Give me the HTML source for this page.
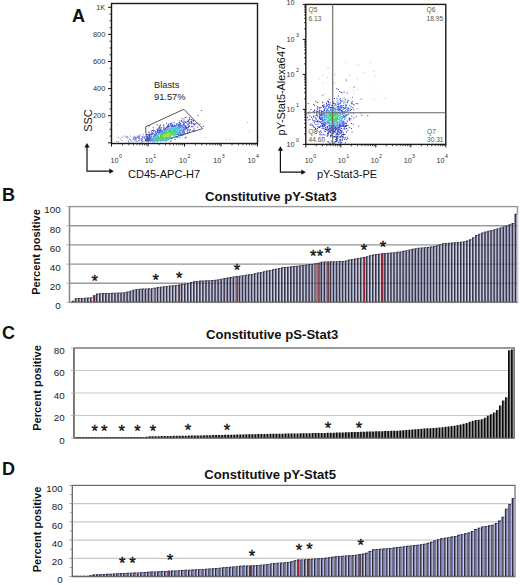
<!DOCTYPE html>
<html><head><meta charset="utf-8"><style>
html,body{margin:0;padding:0;background:#fff;}
svg{display:block;font-family:"Liberation Sans", sans-serif;}
</style></head><body>
<svg width="520" height="585" viewBox="0 0 520 585">
<rect width="520" height="585" fill="#fff"/>
<text x="72.00" y="21.50" font-size="18" text-anchor="start" font-weight="bold" fill="#111" >A</text>
<text x="1.90" y="200.70" font-size="18" text-anchor="start" font-weight="bold" fill="#111" >B</text>
<text x="2.00" y="339.40" font-size="18" text-anchor="start" font-weight="bold" fill="#111" >C</text>
<text x="1.90" y="474.70" font-size="18" text-anchor="start" font-weight="bold" fill="#111" >D</text>
<rect x="111.5" y="3.5" width="146.0" height="140.0" fill="none" stroke="#1a1a1a" stroke-width="1.4"/>
<line x1="108.00" y1="142.80" x2="111.50" y2="142.80" stroke="#111" stroke-width="1" />
<line x1="109.50" y1="136.03" x2="111.50" y2="136.03" stroke="#111" stroke-width="0.8" />
<line x1="109.50" y1="129.25" x2="111.50" y2="129.25" stroke="#111" stroke-width="0.8" />
<line x1="109.50" y1="122.48" x2="111.50" y2="122.48" stroke="#111" stroke-width="0.8" />
<line x1="108.00" y1="115.70" x2="111.50" y2="115.70" stroke="#111" stroke-width="1" />
<line x1="109.50" y1="108.93" x2="111.50" y2="108.93" stroke="#111" stroke-width="0.8" />
<line x1="109.50" y1="102.15" x2="111.50" y2="102.15" stroke="#111" stroke-width="0.8" />
<line x1="109.50" y1="95.38" x2="111.50" y2="95.38" stroke="#111" stroke-width="0.8" />
<line x1="108.00" y1="88.60" x2="111.50" y2="88.60" stroke="#111" stroke-width="1" />
<line x1="109.50" y1="81.83" x2="111.50" y2="81.83" stroke="#111" stroke-width="0.8" />
<line x1="109.50" y1="75.05" x2="111.50" y2="75.05" stroke="#111" stroke-width="0.8" />
<line x1="109.50" y1="68.28" x2="111.50" y2="68.28" stroke="#111" stroke-width="0.8" />
<line x1="108.00" y1="61.50" x2="111.50" y2="61.50" stroke="#111" stroke-width="1" />
<line x1="109.50" y1="54.73" x2="111.50" y2="54.73" stroke="#111" stroke-width="0.8" />
<line x1="109.50" y1="47.95" x2="111.50" y2="47.95" stroke="#111" stroke-width="0.8" />
<line x1="109.50" y1="41.18" x2="111.50" y2="41.18" stroke="#111" stroke-width="0.8" />
<line x1="108.00" y1="34.40" x2="111.50" y2="34.40" stroke="#111" stroke-width="1" />
<line x1="109.50" y1="27.62" x2="111.50" y2="27.62" stroke="#111" stroke-width="0.8" />
<line x1="109.50" y1="20.85" x2="111.50" y2="20.85" stroke="#111" stroke-width="0.8" />
<line x1="109.50" y1="14.07" x2="111.50" y2="14.07" stroke="#111" stroke-width="0.8" />
<line x1="108.00" y1="7.30" x2="111.50" y2="7.30" stroke="#111" stroke-width="1" />
<text x="105.30" y="9.90" font-size="7.4" text-anchor="end" font-weight="normal" fill="#333" >1K</text>
<text x="105.30" y="37.00" font-size="7.4" text-anchor="end" font-weight="normal" fill="#333" >800</text>
<text x="105.30" y="64.10" font-size="7.4" text-anchor="end" font-weight="normal" fill="#333" >600</text>
<text x="105.30" y="91.20" font-size="7.4" text-anchor="end" font-weight="normal" fill="#333" >400</text>
<text x="105.30" y="118.30" font-size="7.4" text-anchor="end" font-weight="normal" fill="#333" >200</text>
<line x1="111.50" y1="143.50" x2="111.50" y2="146.50" stroke="#111" stroke-width="1" />
<line x1="122.49" y1="143.50" x2="122.49" y2="145.30" stroke="#111" stroke-width="0.8" />
<line x1="128.91" y1="143.50" x2="128.91" y2="145.30" stroke="#111" stroke-width="0.8" />
<line x1="133.48" y1="143.50" x2="133.48" y2="145.30" stroke="#111" stroke-width="0.8" />
<line x1="137.01" y1="143.50" x2="137.01" y2="145.30" stroke="#111" stroke-width="0.8" />
<line x1="139.90" y1="143.50" x2="139.90" y2="145.30" stroke="#111" stroke-width="0.8" />
<line x1="142.35" y1="143.50" x2="142.35" y2="145.30" stroke="#111" stroke-width="0.8" />
<line x1="144.46" y1="143.50" x2="144.46" y2="145.30" stroke="#111" stroke-width="0.8" />
<line x1="146.33" y1="143.50" x2="146.33" y2="145.30" stroke="#111" stroke-width="0.8" />
<line x1="148.00" y1="143.50" x2="148.00" y2="146.50" stroke="#111" stroke-width="1" />
<line x1="158.99" y1="143.50" x2="158.99" y2="145.30" stroke="#111" stroke-width="0.8" />
<line x1="165.41" y1="143.50" x2="165.41" y2="145.30" stroke="#111" stroke-width="0.8" />
<line x1="169.98" y1="143.50" x2="169.98" y2="145.30" stroke="#111" stroke-width="0.8" />
<line x1="173.51" y1="143.50" x2="173.51" y2="145.30" stroke="#111" stroke-width="0.8" />
<line x1="176.40" y1="143.50" x2="176.40" y2="145.30" stroke="#111" stroke-width="0.8" />
<line x1="178.85" y1="143.50" x2="178.85" y2="145.30" stroke="#111" stroke-width="0.8" />
<line x1="180.96" y1="143.50" x2="180.96" y2="145.30" stroke="#111" stroke-width="0.8" />
<line x1="182.83" y1="143.50" x2="182.83" y2="145.30" stroke="#111" stroke-width="0.8" />
<line x1="184.50" y1="143.50" x2="184.50" y2="146.50" stroke="#111" stroke-width="1" />
<line x1="195.49" y1="143.50" x2="195.49" y2="145.30" stroke="#111" stroke-width="0.8" />
<line x1="201.91" y1="143.50" x2="201.91" y2="145.30" stroke="#111" stroke-width="0.8" />
<line x1="206.48" y1="143.50" x2="206.48" y2="145.30" stroke="#111" stroke-width="0.8" />
<line x1="210.01" y1="143.50" x2="210.01" y2="145.30" stroke="#111" stroke-width="0.8" />
<line x1="212.90" y1="143.50" x2="212.90" y2="145.30" stroke="#111" stroke-width="0.8" />
<line x1="215.35" y1="143.50" x2="215.35" y2="145.30" stroke="#111" stroke-width="0.8" />
<line x1="217.46" y1="143.50" x2="217.46" y2="145.30" stroke="#111" stroke-width="0.8" />
<line x1="219.33" y1="143.50" x2="219.33" y2="145.30" stroke="#111" stroke-width="0.8" />
<line x1="221.00" y1="143.50" x2="221.00" y2="146.50" stroke="#111" stroke-width="1" />
<line x1="231.99" y1="143.50" x2="231.99" y2="145.30" stroke="#111" stroke-width="0.8" />
<line x1="238.41" y1="143.50" x2="238.41" y2="145.30" stroke="#111" stroke-width="0.8" />
<line x1="242.98" y1="143.50" x2="242.98" y2="145.30" stroke="#111" stroke-width="0.8" />
<line x1="246.51" y1="143.50" x2="246.51" y2="145.30" stroke="#111" stroke-width="0.8" />
<line x1="249.40" y1="143.50" x2="249.40" y2="145.30" stroke="#111" stroke-width="0.8" />
<line x1="251.85" y1="143.50" x2="251.85" y2="145.30" stroke="#111" stroke-width="0.8" />
<line x1="253.96" y1="143.50" x2="253.96" y2="145.30" stroke="#111" stroke-width="0.8" />
<line x1="255.83" y1="143.50" x2="255.83" y2="145.30" stroke="#111" stroke-width="0.8" />
<line x1="257.50" y1="143.50" x2="257.50" y2="146.50" stroke="#111" stroke-width="1" />
<text x="110.60" y="162.80" font-size="7.2" text-anchor="start" font-weight="normal" fill="#333" >10</text>
<text x="119.00" y="157.60" font-size="5.3" text-anchor="start" font-weight="normal" fill="#333" >0</text>
<text x="144.85" y="162.80" font-size="7.2" text-anchor="start" font-weight="normal" fill="#333" >10</text>
<text x="153.25" y="157.60" font-size="5.3" text-anchor="start" font-weight="normal" fill="#333" >1</text>
<text x="179.10" y="162.80" font-size="7.2" text-anchor="start" font-weight="normal" fill="#333" >10</text>
<text x="187.50" y="157.60" font-size="5.3" text-anchor="start" font-weight="normal" fill="#333" >2</text>
<text x="213.35" y="162.80" font-size="7.2" text-anchor="start" font-weight="normal" fill="#333" >10</text>
<text x="221.75" y="157.60" font-size="5.3" text-anchor="start" font-weight="normal" fill="#333" >3</text>
<text x="247.60" y="162.80" font-size="7.2" text-anchor="start" font-weight="normal" fill="#333" >10</text>
<text x="256.00" y="157.60" font-size="5.3" text-anchor="start" font-weight="normal" fill="#333" >4</text>
<polygon points="145.6,126.8 183.9,109.3 202.7,128.6 164.5,140.3 146.5,140.6" fill="none" stroke="#444" stroke-width="0.9"/>
<text x="154.00" y="88.00" font-size="9.3" text-anchor="start" font-weight="normal" fill="#222" >Blasts</text>
<text x="154.00" y="99.50" font-size="9.3" text-anchor="start" font-weight="normal" fill="#222" >91.57%</text>
<text x="0.00" y="0.00" font-size="11" text-anchor="middle" font-weight="normal" fill="#111" transform="translate(91.5,120.5) rotate(-90)">SSC</text>
<text x="128.00" y="178.20" font-size="11" text-anchor="start" font-weight="normal" fill="#111" >CD45-APC-H7</text>
<path d="M87.0,146.0 L87.0,171.2 L110.8,171.2" fill="none" stroke="#111" stroke-width="1.2"/>
<path d="M84.4,147.5 L87.0,143.0 L89.6,147.5 Z" fill="#111"/>
<path d="M109.3,168.6 L113.8,171.2 L109.3,173.79999999999998 Z" fill="#111"/>
<path d="M280.4,149.2 L280.4,172.2 L302.8,172.2" fill="none" stroke="#111" stroke-width="1.2"/>
<path d="M277.79999999999995,150.7 L280.4,146.2 L283.0,150.7 Z" fill="#111"/>
<path d="M301.3,169.6 L305.8,172.2 L301.3,174.79999999999998 Z" fill="#111"/>
<path d="M141.7 138.8h1v1h-1zM146.7 136.0h1v1h-1zM117.7 137.1h1v1h-1zM135.7 136.8h1v1h-1zM145.9 135.4h1v1h-1zM133.3 138.1h1v1h-1zM148.3 136.8h1v1h-1zM142.5 137.8h1v1h-1zM134.7 138.4h1v1h-1zM121.8 136.7h1v1h-1zM132.5 141.5h1v1h-1zM127.5 136.4h1v1h-1zM119.8 138.6h1v1h-1zM146.2 137.8h1v1h-1zM141.0 138.4h1v1h-1zM147.3 141.3h1v1h-1zM139.2 135.9h1v1h-1zM138.1 139.9h1v1h-1zM133.6 135.8h1v1h-1zM133.8 139.4h1v1h-1zM123.6 135.4h1v1h-1zM146.7 137.7h1v1h-1zM126.2 136.7h1v1h-1zM133.1 137.2h1v1h-1zM139.2 140.3h1v1h-1zM135.2 140.6h1v1h-1zM138.2 138.2h1v1h-1zM134.5 136.8h1v1h-1zM138.8 140.2h1v1h-1zM126.6 135.7h1v1h-1zM134.8 138.0h1v1h-1zM140.8 138.0h1v1h-1zM139.5 138.7h1v1h-1zM135.6 138.2h1v1h-1zM137.7 136.4h1v1h-1zM135.0 137.3h1v1h-1zM125.3 136.6h1v1h-1zM138.9 140.3h1v1h-1zM143.6 136.5h1v1h-1zM129.9 135.6h1v1h-1zM149.0 137.8h1v1h-1zM133.0 136.9h1v1h-1zM134.1 138.9h1v1h-1zM149.9 133.7h1v1h-1zM130.6 140.0h1v1h-1zM129.0 138.8h1v1h-1zM138.6 137.4h1v1h-1zM144.4 136.8h1v1h-1zM135.4 139.1h1v1h-1zM146.5 137.5h1v1h-1zM141.7 139.0h1v1h-1zM146.1 138.3h1v1h-1zM127.8 140.7h1v1h-1zM148.7 139.5h1v1h-1zM134.0 136.8h1v1h-1zM116.1 141.1h1v1h-1zM121.5 139.9h1v1h-1zM137.5 136.0h1v1h-1zM147.1 138.9h1v1h-1zM144.6 140.3h1v1h-1zM141.0 139.9h1v1h-1zM147.7 137.2h1v1h-1zM148.6 138.2h1v1h-1zM147.1 139.2h1v1h-1zM142.4 136.6h1v1h-1zM138.8 134.4h1v1h-1zM140.7 141.9h1v1h-1zM139.7 134.5h1v1h-1zM128.5 141.9h1v1h-1zM136.3 137.8h1v1h-1zM144.6 136.2h1v1h-1zM137.9 135.7h1v1h-1zM145.9 140.6h1v1h-1zM133.3 137.5h1v1h-1zM147.5 135.2h1v1h-1zM132.5 139.1h1v1h-1zM127.3 138.2h1v1h-1zM138.4 136.8h1v1h-1zM148.8 136.7h1v1h-1zM135.5 136.7h1v1h-1zM135.3 138.2h1v1h-1zM137.2 137.1h1v1h-1zM142.4 135.6h1v1h-1zM141.3 140.5h1v1h-1zM118.2 141.3h1v1h-1zM146.3 137.8h1v1h-1zM144.2 138.2h1v1h-1zM128.0 140.5h1v1h-1zM137.4 136.7h1v1h-1zM129.5 139.0h1v1h-1zM146.5 141.0h1v1h-1zM144.2 137.7h1v1h-1zM143.1 133.8h1v1h-1zM137.0 135.5h1v1h-1zM141.5 136.6h1v1h-1zM139.1 138.1h1v1h-1zM149.8 134.4h1v1h-1zM148.7 134.9h1v1h-1zM145.4 139.1h1v1h-1zM142.1 139.7h1v1h-1zM147.9 137.9h1v1h-1zM135.5 140.8h1v1h-1zM130.5 140.7h1v1h-1z" fill="#7a7ad4"/>
<rect x="226" y="139" width="1" height="1" fill="#b8b8d8"/>
<rect x="229" y="138.5" width="1" height="1" fill="#b8b8d8"/>
<rect x="233" y="139.5" width="1" height="1" fill="#b8b8d8"/>
<rect x="247" y="122" width="1" height="1" fill="#b8b8d8"/>
<rect x="249" y="131" width="1" height="1" fill="#b8b8d8"/>
<rect x="117" y="124" width="1" height="1" fill="#b8b8d8"/>
<rect x="205" y="137" width="1" height="1" fill="#b8b8d8"/>
<rect x="211" y="140" width="1" height="1" fill="#b8b8d8"/>
<path d="M148.7 125.7h1v1h-1zM200.8 110.0h1v1h-1zM156.8 124.3h1v1h-1zM202.7 125.8h1v1h-1zM152.6 127.2h1v1h-1zM159.9 124.5h1v1h-1zM197.4 115.2h1v1h-1zM184.7 116.7h1v1h-1zM159.6 125.3h1v1h-1zM184.7 137.4h1v1h-1zM159.1 125.5h1v1h-1zM185.5 116.8h1v1h-1zM185.5 136.7h1v1h-1zM166.0 122.8h1v1h-1zM193.7 130.5h1v1h-1zM148.5 131.6h1v1h-1zM199.5 123.5h1v1h-1zM197.3 126.4h1v1h-1zM136.5 140.8h1v1h-1zM192.8 130.9h1v1h-1zM150.9 130.5h1v1h-1zM151.9 129.9h1v1h-1zM181.6 118.3h1v1h-1zM162.9 124.5h1v1h-1zM189.0 117.2h1v1h-1zM148.5 132.0h1v1h-1zM158.5 126.8h1v1h-1zM153.1 129.6h1v1h-1zM189.4 117.5h1v1h-1zM192.7 129.9h1v1h-1zM194.0 128.5h1v1h-1zM183.5 118.6h1v1h-1zM193.7 128.6h1v1h-1zM196.8 123.0h1v1h-1zM196.8 122.8h1v1h-1zM146.2 134.5h1v1h-1zM156.8 128.4h1v1h-1zM159.0 127.3h1v1h-1zM147.2 134.1h1v1h-1zM171.2 122.5h1v1h-1zM189.5 118.9h1v1h-1zM153.1 130.7h1v1h-1zM191.3 119.1h1v1h-1zM169.6 123.2h1v1h-1zM163.5 125.6h1v1h-1zM158.5 127.9h1v1h-1zM195.3 123.3h1v1h-1zM187.6 132.6h1v1h-1zM170.7 122.9h1v1h-1zM168.1 123.8h1v1h-1zM193.0 120.1h1v1h-1zM154.2 130.3h1v1h-1zM179.4 120.5h1v1h-1zM148.9 133.5h1v1h-1zM151.5 131.9h1v1h-1zM191.5 119.7h1v1h-1zM193.1 120.6h1v1h-1zM188.5 119.6h1v1h-1zM194.6 123.4h1v1h-1zM181.0 120.3h1v1h-1zM160.2 127.4h1v1h-1zM173.8 122.2h1v1h-1zM160.9 127.2h1v1h-1zM148.3 134.3h1v1h-1zM193.8 124.6h1v1h-1zM167.5 124.6h1v1h-1zM189.0 130.6h1v1h-1zM193.5 124.0h1v1h-1zM188.0 120.2h1v1h-1zM156.7 129.6h1v1h-1zM187.1 132.0h1v1h-1zM179.4 137.3h1v1h-1zM181.4 120.7h1v1h-1zM193.3 123.1h1v1h-1zM192.4 126.2h1v1h-1zM183.4 120.5h1v1h-1zM189.8 129.5h1v1h-1zM190.6 120.9h1v1h-1zM191.1 121.2h1v1h-1zM192.3 126.0h1v1h-1zM167.5 124.9h1v1h-1zM191.4 121.8h1v1h-1zM187.2 120.7h1v1h-1zM150.2 133.7h1v1h-1zM170.4 124.0h1v1h-1zM146.8 136.2h1v1h-1zM150.6 133.5h1v1h-1zM191.3 122.1h1v1h-1zM189.7 128.9h1v1h-1zM148.9 134.7h1v1h-1zM157.8 129.5h1v1h-1zM184.6 133.3h1v1h-1zM186.5 121.0h1v1h-1zM189.3 121.4h1v1h-1zM159.5 128.7h1v1h-1zM191.4 123.3h1v1h-1zM191.4 123.4h1v1h-1zM191.0 126.3h1v1h-1zM152.4 132.7h1v1h-1zM152.6 132.7h1v1h-1zM182.3 134.7h1v1h-1zM190.7 122.8h1v1h-1zM184.5 121.3h1v1h-1zM148.3 135.5h1v1h-1zM148.4 135.5h1v1h-1zM187.8 121.5h1v1h-1zM179.0 122.1h1v1h-1zM151.5 133.5h1v1h-1zM158.2 129.7h1v1h-1zM155.2 131.3h1v1h-1zM142.4 141.3h1v1h-1zM181.8 121.7h1v1h-1zM157.2 130.4h1v1h-1zM170.1 124.8h1v1h-1zM183.0 133.7h1v1h-1zM189.2 122.7h1v1h-1zM149.0 135.5h1v1h-1zM163.7 127.3h1v1h-1zM187.8 129.5h1v1h-1zM186.7 130.6h1v1h-1zM146.4 137.6h1v1h-1zM166.9 126.0h1v1h-1zM163.2 127.5h1v1h-1zM172.1 124.2h1v1h-1zM174.5 138.9h1v1h-1zM167.4 125.8h1v1h-1zM148.9 135.7h1v1h-1zM168.4 125.6h1v1h-1zM188.6 122.9h1v1h-1zM145.0 139.2h1v1h-1zM181.5 134.5h1v1h-1zM148.9 135.9h1v1h-1zM176.4 123.2h1v1h-1zM163.7 127.5h1v1h-1zM184.8 122.1h1v1h-1zM184.0 132.6h1v1h-1zM147.0 137.5h1v1h-1zM152.5 133.4h1v1h-1zM163.1 127.8h1v1h-1zM170.2 140.8h1v1h-1zM186.0 122.5h1v1h-1zM183.1 122.3h1v1h-1zM159.1 129.9h1v1h-1zM156.8 131.1h1v1h-1zM151.2 134.5h1v1h-1zM154.9 132.2h1v1h-1zM170.4 140.5h1v1h-1zM160.3 129.3h1v1h-1zM187.0 129.3h1v1h-1zM183.6 132.5h1v1h-1zM149.1 136.2h1v1h-1zM188.8 125.4h1v1h-1zM146.7 138.4h1v1h-1zM188.3 124.5h1v1h-1zM187.3 123.5h1v1h-1zM180.1 123.0h1v1h-1zM188.4 126.0h1v1h-1zM146.7 138.5h1v1h-1zM145.0 140.3h1v1h-1zM167.5 126.4h1v1h-1zM187.7 127.6h1v1h-1zM166.2 127.0h1v1h-1zM183.8 122.9h1v1h-1zM180.4 134.6h1v1h-1zM168.7 126.0h1v1h-1zM188.0 126.4h1v1h-1zM160.1 129.8h1v1h-1zM177.0 136.7h1v1h-1zM172.0 125.0h1v1h-1z" fill="#2e39bd"/>
<path d="M179.6 123.3h1v1h-1zM174.1 124.4h1v1h-1zM177.6 123.6h1v1h-1zM187.5 124.8h1v1h-1zM171.2 125.3h1v1h-1zM176.3 124.0h1v1h-1zM164.9 127.7h1v1h-1zM166.2 127.2h1v1h-1zM164.7 127.8h1v1h-1zM168.2 126.5h1v1h-1zM148.6 137.3h1v1h-1zM178.7 123.6h1v1h-1zM165.9 127.3h1v1h-1zM149.0 137.0h1v1h-1zM179.7 123.5h1v1h-1zM149.4 136.8h1v1h-1zM179.2 123.6h1v1h-1zM183.9 131.3h1v1h-1zM146.9 139.2h1v1h-1zM183.5 131.5h1v1h-1zM171.9 125.4h1v1h-1zM182.8 123.6h1v1h-1zM165.4 127.7h1v1h-1zM148.1 138.1h1v1h-1zM186.9 126.9h1v1h-1zM172.5 125.2h1v1h-1zM159.2 130.6h1v1h-1zM164.7 128.1h1v1h-1zM183.4 123.7h1v1h-1zM183.2 123.7h1v1h-1zM169.3 126.3h1v1h-1zM186.3 127.9h1v1h-1zM182.1 132.5h1v1h-1zM174.5 124.8h1v1h-1zM171.9 125.5h1v1h-1zM150.8 136.0h1v1h-1zM154.6 133.4h1v1h-1zM178.1 135.4h1v1h-1zM146.7 140.0h1v1h-1zM156.0 132.5h1v1h-1zM182.7 123.9h1v1h-1zM157.1 131.9h1v1h-1zM176.1 136.6h1v1h-1zM157.7 131.6h1v1h-1zM148.8 137.8h1v1h-1zM147.7 138.9h1v1h-1zM163.2 128.9h1v1h-1zM179.5 134.4h1v1h-1zM179.9 134.1h1v1h-1zM185.8 128.3h1v1h-1zM148.4 138.3h1v1h-1zM180.8 133.3h1v1h-1zM182.7 131.8h1v1h-1zM166.8 127.5h1v1h-1zM159.1 131.0h1v1h-1zM149.3 137.5h1v1h-1zM159.6 130.7h1v1h-1zM185.8 125.7h1v1h-1zM161.2 129.9h1v1h-1zM186.0 127.0h1v1h-1zM172.4 125.6h1v1h-1zM179.6 134.1h1v1h-1zM183.8 124.4h1v1h-1zM176.5 136.1h1v1h-1zM184.6 129.5h1v1h-1zM185.4 125.4h1v1h-1zM179.5 134.1h1v1h-1zM160.1 130.6h1v1h-1zM153.4 134.5h1v1h-1zM150.4 136.8h1v1h-1zM155.7 133.0h1v1h-1zM160.3 130.5h1v1h-1zM158.0 131.7h1v1h-1zM171.2 126.1h1v1h-1zM176.6 135.9h1v1h-1zM161.4 130.0h1v1h-1zM173.6 125.4h1v1h-1zM184.6 125.1h1v1h-1zM172.1 125.9h1v1h-1zM173.5 125.5h1v1h-1zM185.4 127.2h1v1h-1zM147.7 139.8h1v1h-1zM183.2 124.7h1v1h-1zM148.4 139.0h1v1h-1zM179.2 124.5h1v1h-1zM154.4 134.0h1v1h-1zM149.4 138.0h1v1h-1zM185.2 126.6h1v1h-1zM179.8 133.6h1v1h-1zM178.4 124.7h1v1h-1zM176.3 125.0h1v1h-1zM185.0 127.5h1v1h-1zM180.1 124.6h1v1h-1zM182.7 124.8h1v1h-1zM148.6 139.0h1v1h-1zM184.6 128.3h1v1h-1zM148.3 139.4h1v1h-1zM179.7 124.7h1v1h-1zM170.7 126.5h1v1h-1zM184.9 127.2h1v1h-1zM183.3 130.2h1v1h-1zM153.9 134.5h1v1h-1zM163.8 129.1h1v1h-1zM184.8 127.5h1v1h-1zM149.6 138.0h1v1h-1zM147.8 140.3h1v1h-1zM178.0 124.9h1v1h-1zM184.6 126.2h1v1h-1zM174.4 125.5h1v1h-1zM183.2 130.2h1v1h-1zM184.4 126.2h1v1h-1zM171.6 126.3h1v1h-1zM184.1 128.8h1v1h-1zM176.3 135.7h1v1h-1z" fill="#3351e1"/>
<path d="M182.5 130.8h1v1h-1zM181.6 131.6h1v1h-1zM155.7 133.6h1v1h-1zM184.3 127.3h1v1h-1zM162.4 129.9h1v1h-1zM175.3 125.5h1v1h-1zM179.5 125.0h1v1h-1zM180.9 125.1h1v1h-1zM173.8 125.9h1v1h-1zM160.7 130.8h1v1h-1zM179.1 133.5h1v1h-1zM167.8 127.8h1v1h-1zM164.1 129.3h1v1h-1zM179.0 125.1h1v1h-1zM183.1 129.6h1v1h-1zM182.8 129.9h1v1h-1zM182.0 130.9h1v1h-1zM177.9 134.3h1v1h-1zM175.0 136.2h1v1h-1zM158.2 132.3h1v1h-1zM180.1 125.2h1v1h-1zM182.0 125.5h1v1h-1zM174.6 125.9h1v1h-1zM148.3 141.4h1v1h-1zM148.9 139.8h1v1h-1zM149.8 138.8h1v1h-1zM172.3 126.5h1v1h-1zM182.1 130.6h1v1h-1zM183.4 128.4h1v1h-1zM180.4 125.4h1v1h-1zM181.0 125.6h1v1h-1zM177.4 125.6h1v1h-1zM183.1 126.8h1v1h-1zM172.6 126.5h1v1h-1zM180.3 132.2h1v1h-1zM183.2 127.1h1v1h-1zM164.6 129.3h1v1h-1zM181.6 125.9h1v1h-1zM183.1 127.2h1v1h-1zM178.0 134.0h1v1h-1zM151.3 137.5h1v1h-1zM157.8 132.8h1v1h-1zM158.7 132.3h1v1h-1zM171.0 138.2h1v1h-1zM152.4 136.5h1v1h-1zM165.2 129.1h1v1h-1zM180.0 125.6h1v1h-1zM180.6 125.7h1v1h-1zM182.6 129.3h1v1h-1zM171.6 137.8h1v1h-1zM165.0 129.2h1v1h-1zM182.8 128.7h1v1h-1zM181.9 126.3h1v1h-1zM180.2 125.8h1v1h-1zM153.9 135.4h1v1h-1zM153.4 135.8h1v1h-1zM165.8 140.4h1v1h-1zM150.9 138.2h1v1h-1zM178.3 133.6h1v1h-1zM165.5 129.1h1v1h-1zM182.5 127.0h1v1h-1zM173.1 126.6h1v1h-1zM177.8 125.9h1v1h-1zM174.7 126.3h1v1h-1zM177.6 125.9h1v1h-1zM161.2 131.1h1v1h-1zM153.2 136.1h1v1h-1zM155.8 134.3h1v1h-1zM165.3 129.3h1v1h-1zM159.6 132.0h1v1h-1zM150.2 139.3h1v1h-1zM154.2 135.4h1v1h-1zM149.6 140.5h1v1h-1zM165.3 129.3h1v1h-1zM165.8 129.1h1v1h-1zM149.8 140.3h1v1h-1zM155.8 134.3h1v1h-1zM180.0 126.1h1v1h-1zM181.8 126.8h1v1h-1zM179.6 126.1h1v1h-1zM172.0 137.4h1v1h-1zM155.0 134.9h1v1h-1zM150.4 139.2h1v1h-1zM159.6 132.1h1v1h-1z" fill="#4572e5"/>
<path d="M182.0 127.4h1v1h-1zM167.4 139.5h1v1h-1zM180.4 126.4h1v1h-1zM155.9 134.4h1v1h-1zM179.1 126.2h1v1h-1zM173.4 126.8h1v1h-1zM176.7 126.3h1v1h-1zM171.2 137.6h1v1h-1zM179.5 126.3h1v1h-1zM161.5 131.2h1v1h-1zM181.2 130.1h1v1h-1zM167.2 128.7h1v1h-1zM178.4 132.9h1v1h-1zM174.5 135.7h1v1h-1zM171.4 127.4h1v1h-1zM176.7 126.4h1v1h-1zM150.3 140.7h1v1h-1zM162.2 131.0h1v1h-1zM168.0 139.1h1v1h-1zM176.8 134.1h1v1h-1zM151.4 138.5h1v1h-1zM165.8 129.4h1v1h-1zM167.2 139.4h1v1h-1zM180.3 126.8h1v1h-1zM172.7 136.7h1v1h-1zM179.0 126.5h1v1h-1zM170.8 137.6h1v1h-1zM164.0 130.2h1v1h-1zM158.7 132.9h1v1h-1zM178.2 126.5h1v1h-1zM181.2 127.8h1v1h-1zM163.0 130.7h1v1h-1zM180.2 130.8h1v1h-1zM151.8 138.5h1v1h-1zM177.7 126.6h1v1h-1zM178.5 126.7h1v1h-1zM179.5 131.5h1v1h-1zM160.2 141.7h1v1h-1zM179.4 131.7h1v1h-1zM180.4 130.4h1v1h-1zM158.4 133.2h1v1h-1zM178.9 132.1h1v1h-1zM166.4 129.3h1v1h-1zM180.2 130.7h1v1h-1zM158.1 133.4h1v1h-1zM176.4 134.2h1v1h-1zM181.0 129.3h1v1h-1zM177.0 133.6h1v1h-1zM153.4 136.9h1v1h-1zM156.9 134.2h1v1h-1zM177.7 126.7h1v1h-1zM160.3 132.2h1v1h-1zM168.7 138.5h1v1h-1zM161.5 131.6h1v1h-1zM166.6 129.3h1v1h-1zM167.4 139.1h1v1h-1zM175.3 126.9h1v1h-1zM180.4 130.1h1v1h-1zM169.4 128.3h1v1h-1zM164.6 130.2h1v1h-1zM165.6 139.8h1v1h-1zM180.0 127.3h1v1h-1zM160.6 132.1h1v1h-1zM170.6 128.0h1v1h-1zM153.2 137.2h1v1h-1zM157.0 134.2h1v1h-1zM164.5 140.2h1v1h-1zM169.8 128.2h1v1h-1zM176.9 126.8h1v1h-1zM162.3 131.3h1v1h-1zM180.7 128.8h1v1h-1zM163.3 130.8h1v1h-1zM163.4 130.7h1v1h-1zM153.4 137.1h1v1h-1zM180.6 129.1h1v1h-1zM151.4 140.1h1v1h-1zM180.3 129.8h1v1h-1zM168.7 138.4h1v1h-1zM154.1 136.5h1v1h-1zM180.5 129.3h1v1h-1zM159.5 132.8h1v1h-1zM154.4 136.3h1v1h-1zM166.8 139.2h1v1h-1zM178.9 127.2h1v1h-1zM151.7 139.6h1v1h-1zM168.6 138.4h1v1h-1zM178.4 127.1h1v1h-1zM151.7 139.6h1v1h-1zM152.1 139.0h1v1h-1zM170.6 137.4h1v1h-1zM168.9 128.7h1v1h-1zM161.5 131.8h1v1h-1zM164.8 130.3h1v1h-1zM178.7 127.3h1v1h-1zM177.2 133.1h1v1h-1z" fill="#5892ea"/>
<path d="M170.7 137.3h1v1h-1zM152.4 141.5h1v1h-1zM161.5 131.9h1v1h-1zM153.0 137.9h1v1h-1zM179.8 130.1h1v1h-1zM160.7 132.3h1v1h-1zM152.5 138.7h1v1h-1zM151.9 140.4h1v1h-1zM169.2 138.0h1v1h-1zM176.3 127.2h1v1h-1zM152.9 138.1h1v1h-1zM175.9 134.0h1v1h-1zM175.5 134.3h1v1h-1zM165.8 139.4h1v1h-1zM166.4 139.2h1v1h-1zM156.9 134.7h1v1h-1zM163.1 140.4h1v1h-1zM162.2 131.6h1v1h-1zM173.9 135.3h1v1h-1zM153.8 141.7h1v1h-1zM165.8 130.0h1v1h-1zM167.3 138.8h1v1h-1zM163.9 130.8h1v1h-1zM164.4 130.6h1v1h-1zM155.4 135.9h1v1h-1zM179.7 129.1h1v1h-1zM169.2 128.8h1v1h-1zM178.7 127.8h1v1h-1zM157.1 141.7h1v1h-1zM163.1 140.3h1v1h-1zM179.4 128.4h1v1h-1zM172.9 127.8h1v1h-1zM178.0 132.0h1v1h-1zM179.5 129.6h1v1h-1zM157.7 134.3h1v1h-1zM153.7 137.7h1v1h-1zM163.3 140.2h1v1h-1zM179.4 128.7h1v1h-1zM176.6 127.5h1v1h-1zM168.4 138.2h1v1h-1zM154.1 137.3h1v1h-1zM168.3 129.2h1v1h-1zM179.3 129.8h1v1h-1zM170.3 137.2h1v1h-1zM152.6 140.2h1v1h-1zM176.7 133.0h1v1h-1zM163.3 140.1h1v1h-1zM178.8 128.2h1v1h-1zM178.8 130.7h1v1h-1zM176.7 132.9h1v1h-1zM178.3 131.3h1v1h-1zM176.0 127.7h1v1h-1zM167.7 129.5h1v1h-1zM152.9 140.3h1v1h-1zM173.8 127.9h1v1h-1zM174.5 127.8h1v1h-1zM173.4 135.3h1v1h-1zM154.4 137.3h1v1h-1zM156.9 135.1h1v1h-1zM170.4 128.6h1v1h-1zM174.3 134.7h1v1h-1zM161.0 132.5h1v1h-1zM166.9 138.6h1v1h-1zM172.1 128.2h1v1h-1zM160.9 132.6h1v1h-1zM165.5 130.4h1v1h-1zM153.0 139.6h1v1h-1zM163.8 139.8h1v1h-1zM167.3 129.7h1v1h-1zM177.2 132.3h1v1h-1zM174.0 127.9h1v1h-1zM153.2 139.1h1v1h-1zM172.7 128.2h1v1h-1zM164.7 130.8h1v1h-1zM161.5 132.3h1v1h-1zM157.2 141.3h1v1h-1zM178.8 129.8h1v1h-1zM177.8 128.1h1v1h-1zM178.0 131.2h1v1h-1zM177.0 128.0h1v1h-1zM167.1 138.5h1v1h-1zM173.4 128.1h1v1h-1zM165.4 130.5h1v1h-1zM154.5 141.1h1v1h-1zM161.9 132.2h1v1h-1zM153.7 140.6h1v1h-1zM162.3 132.0h1v1h-1zM175.1 127.9h1v1h-1zM175.1 128.0h1v1h-1zM165.9 138.9h1v1h-1zM154.6 141.0h1v1h-1zM154.1 137.9h1v1h-1zM178.1 128.5h1v1h-1zM163.8 131.3h1v1h-1zM176.6 128.0h1v1h-1zM154.0 138.2h1v1h-1z" fill="#50afe3"/>
<path d="M167.8 129.7h1v1h-1zM163.4 131.5h1v1h-1zM176.4 132.8h1v1h-1zM174.2 128.1h1v1h-1zM169.5 137.3h1v1h-1zM161.6 140.3h1v1h-1zM178.4 129.2h1v1h-1zM178.2 130.5h1v1h-1zM171.8 128.5h1v1h-1zM153.9 140.5h1v1h-1zM153.6 139.6h1v1h-1zM173.8 134.7h1v1h-1zM176.4 128.2h1v1h-1zM161.1 140.4h1v1h-1zM166.7 138.5h1v1h-1zM175.2 128.1h1v1h-1zM177.1 131.9h1v1h-1zM160.2 133.3h1v1h-1zM154.5 140.6h1v1h-1zM174.9 128.2h1v1h-1zM165.0 130.9h1v1h-1zM177.8 130.7h1v1h-1zM174.1 134.4h1v1h-1zM175.6 133.3h1v1h-1zM174.5 134.1h1v1h-1zM169.9 136.9h1v1h-1zM160.1 133.4h1v1h-1zM161.4 140.2h1v1h-1zM154.0 139.8h1v1h-1zM175.8 128.3h1v1h-1zM174.9 133.7h1v1h-1zM154.3 140.1h1v1h-1zM174.2 134.2h1v1h-1zM155.5 136.9h1v1h-1zM154.8 140.4h1v1h-1zM161.9 140.0h1v1h-1zM169.6 129.3h1v1h-1zM167.3 138.0h1v1h-1zM155.0 140.4h1v1h-1zM162.2 132.4h1v1h-1zM154.3 139.5h1v1h-1zM172.8 128.6h1v1h-1zM159.8 133.7h1v1h-1zM154.3 139.6h1v1h-1zM175.9 132.7h1v1h-1zM176.1 132.5h1v1h-1zM155.4 140.5h1v1h-1zM159.7 133.8h1v1h-1zM155.1 137.7h1v1h-1zM163.7 139.4h1v1h-1zM158.9 134.4h1v1h-1zM177.4 130.7h1v1h-1zM163.0 132.0h1v1h-1zM155.6 137.1h1v1h-1zM177.2 129.2h1v1h-1zM173.0 128.7h1v1h-1zM154.6 139.6h1v1h-1zM177.4 130.1h1v1h-1zM161.4 132.9h1v1h-1zM156.5 136.3h1v1h-1zM169.2 137.0h1v1h-1zM174.7 128.6h1v1h-1zM154.9 139.9h1v1h-1zM155.4 140.3h1v1h-1zM176.4 132.0h1v1h-1zM175.8 128.7h1v1h-1zM167.9 137.6h1v1h-1zM176.8 131.5h1v1h-1zM170.2 129.3h1v1h-1zM161.3 133.0h1v1h-1zM167.4 130.2h1v1h-1zM167.2 130.3h1v1h-1zM176.5 131.7h1v1h-1zM174.2 128.7h1v1h-1zM168.6 129.8h1v1h-1zM158.1 140.5h1v1h-1zM173.7 128.7h1v1h-1zM154.9 138.5h1v1h-1zM177.2 130.2h1v1h-1zM163.9 131.7h1v1h-1zM156.6 140.4h1v1h-1zM156.2 136.7h1v1h-1zM174.8 128.8h1v1h-1zM176.8 131.2h1v1h-1zM175.3 132.9h1v1h-1zM156.1 137.0h1v1h-1zM160.6 140.0h1v1h-1zM158.1 140.4h1v1h-1z" fill="#45c8d7"/>
<path d="M173.0 134.6h1v1h-1zM166.6 138.0h1v1h-1zM166.1 130.9h1v1h-1zM163.4 132.1h1v1h-1zM174.6 133.4h1v1h-1zM157.4 135.9h1v1h-1zM156.5 136.6h1v1h-1zM164.5 138.8h1v1h-1zM155.2 139.1h1v1h-1zM176.6 129.7h1v1h-1zM173.9 133.9h1v1h-1zM167.2 137.7h1v1h-1zM160.3 133.8h1v1h-1zM155.9 137.5h1v1h-1zM175.8 129.3h1v1h-1zM173.4 134.2h1v1h-1zM160.2 133.9h1v1h-1zM171.4 129.3h1v1h-1zM158.9 140.1h1v1h-1zM155.5 138.7h1v1h-1zM175.1 129.1h1v1h-1zM173.6 134.0h1v1h-1zM173.1 134.4h1v1h-1zM161.6 133.2h1v1h-1zM158.2 135.4h1v1h-1zM155.6 139.0h1v1h-1zM158.2 140.1h1v1h-1zM155.6 139.1h1v1h-1zM164.3 131.8h1v1h-1zM176.0 131.5h1v1h-1zM156.7 136.8h1v1h-1zM169.3 130.0h1v1h-1zM156.5 139.7h1v1h-1zM157.1 136.4h1v1h-1zM174.1 129.2h1v1h-1zM174.9 132.7h1v1h-1zM163.6 132.2h1v1h-1zM166.4 137.9h1v1h-1zM175.0 129.4h1v1h-1zM156.8 136.8h1v1h-1zM176.0 130.9h1v1h-1zM156.5 137.2h1v1h-1zM164.7 131.7h1v1h-1zM167.3 137.4h1v1h-1zM174.1 129.3h1v1h-1zM156.4 139.4h1v1h-1zM156.0 138.8h1v1h-1zM165.9 131.3h1v1h-1zM156.0 138.4h1v1h-1zM167.9 130.5h1v1h-1zM157.3 139.7h1v1h-1zM156.1 138.7h1v1h-1zM164.8 138.4h1v1h-1zM156.3 139.2h1v1h-1zM163.0 132.6h1v1h-1zM156.2 138.5h1v1h-1zM156.7 139.4h1v1h-1zM156.5 139.3h1v1h-1zM169.6 130.0h1v1h-1zM158.3 135.7h1v1h-1zM169.8 130.0h1v1h-1zM174.0 133.3h1v1h-1zM160.4 134.1h1v1h-1zM170.3 129.9h1v1h-1zM171.3 129.7h1v1h-1zM160.3 134.3h1v1h-1zM173.6 133.5h1v1h-1zM175.3 130.1h1v1h-1zM174.4 129.7h1v1h-1zM162.9 138.9h1v1h-1zM157.9 139.5h1v1h-1zM175.5 130.6h1v1h-1zM170.0 135.9h1v1h-1zM165.1 138.2h1v1h-1zM162.5 133.0h1v1h-1zM158.0 136.1h1v1h-1zM166.3 137.7h1v1h-1zM160.2 134.4h1v1h-1zM166.9 137.4h1v1h-1z" fill="#40caab"/>
<path d="M158.5 139.5h1v1h-1zM157.9 136.3h1v1h-1zM160.9 134.0h1v1h-1zM173.9 133.1h1v1h-1zM174.8 130.0h1v1h-1zM169.9 130.2h1v1h-1zM162.2 133.2h1v1h-1zM173.0 129.7h1v1h-1zM170.7 135.4h1v1h-1zM160.7 134.1h1v1h-1zM174.8 130.1h1v1h-1zM169.9 130.2h1v1h-1zM175.2 131.2h1v1h-1zM171.5 129.9h1v1h-1zM169.2 130.4h1v1h-1zM157.2 137.3h1v1h-1zM157.7 136.7h1v1h-1zM168.1 136.8h1v1h-1zM169.8 135.9h1v1h-1zM174.9 131.7h1v1h-1zM174.7 130.2h1v1h-1zM166.0 131.5h1v1h-1zM175.1 131.0h1v1h-1zM165.8 131.6h1v1h-1zM157.6 139.1h1v1h-1zM172.1 130.0h1v1h-1zM174.3 132.4h1v1h-1zM157.1 138.2h1v1h-1zM157.6 138.9h1v1h-1zM174.5 130.4h1v1h-1zM163.4 132.8h1v1h-1zM171.9 130.1h1v1h-1zM174.1 132.4h1v1h-1zM158.0 138.9h1v1h-1zM165.5 131.9h1v1h-1zM162.5 138.6h1v1h-1zM171.6 134.5h1v1h-1zM161.6 133.9h1v1h-1zM160.6 134.5h1v1h-1zM163.5 132.9h1v1h-1zM157.5 138.1h1v1h-1zM158.3 138.9h1v1h-1zM157.7 137.6h1v1h-1zM166.1 131.7h1v1h-1zM160.4 139.0h1v1h-1zM162.0 133.7h1v1h-1zM166.9 137.0h1v1h-1zM173.0 130.3h1v1h-1zM162.6 138.5h1v1h-1zM162.3 133.6h1v1h-1zM172.5 130.3h1v1h-1zM166.7 137.1h1v1h-1zM164.2 132.6h1v1h-1zM172.4 133.8h1v1h-1zM168.0 136.5h1v1h-1zM174.1 131.2h1v1h-1zM173.9 132.1h1v1h-1zM165.8 137.4h1v1h-1zM158.2 138.5h1v1h-1zM162.4 133.6h1v1h-1zM158.1 137.3h1v1h-1zM166.3 137.2h1v1h-1zM164.3 132.6h1v1h-1zM170.8 130.5h1v1h-1zM159.7 135.4h1v1h-1zM158.2 137.1h1v1h-1zM173.6 130.7h1v1h-1zM167.7 131.3h1v1h-1zM161.3 138.7h1v1h-1zM163.3 133.1h1v1h-1zM168.8 131.0h1v1h-1zM170.2 130.7h1v1h-1z" fill="#3ccd7f"/>
<path d="M172.1 133.8h1v1h-1zM173.6 131.0h1v1h-1zM173.5 132.3h1v1h-1zM160.2 135.2h1v1h-1zM160.0 138.7h1v1h-1zM160.1 138.6h1v1h-1zM161.5 138.5h1v1h-1zM171.7 134.0h1v1h-1zM164.1 132.8h1v1h-1zM173.3 131.1h1v1h-1zM172.7 130.8h1v1h-1zM169.5 135.4h1v1h-1zM166.1 132.0h1v1h-1zM170.3 130.9h1v1h-1zM164.0 137.8h1v1h-1zM158.7 137.6h1v1h-1zM158.8 137.8h1v1h-1zM171.3 134.1h1v1h-1zM159.0 137.9h1v1h-1zM165.8 137.1h1v1h-1zM158.9 137.3h1v1h-1zM167.8 131.6h1v1h-1zM159.0 137.7h1v1h-1zM167.1 131.8h1v1h-1zM166.5 136.7h1v1h-1zM160.2 135.6h1v1h-1zM162.0 138.1h1v1h-1zM160.0 135.8h1v1h-1zM159.0 137.5h1v1h-1zM166.1 132.2h1v1h-1zM160.4 135.5h1v1h-1zM172.3 131.1h1v1h-1zM171.0 134.2h1v1h-1zM159.2 137.5h1v1h-1zM172.3 133.0h1v1h-1zM172.0 133.3h1v1h-1zM168.7 135.6h1v1h-1zM159.6 137.9h1v1h-1zM159.5 137.8h1v1h-1zM169.3 131.3h1v1h-1zM167.4 131.8h1v1h-1zM161.9 138.1h1v1h-1zM169.1 131.3h1v1h-1zM159.9 136.1h1v1h-1zM161.2 135.0h1v1h-1zM160.4 135.6h1v1h-1zM165.4 137.1h1v1h-1zM172.6 132.0h1v1h-1zM164.3 137.4h1v1h-1zM172.4 131.5h1v1h-1zM159.7 137.8h1v1h-1zM170.3 134.5h1v1h-1zM164.7 137.3h1v1h-1zM162.7 137.8h1v1h-1zM160.6 135.6h1v1h-1zM165.8 132.5h1v1h-1zM163.4 133.6h1v1h-1zM163.8 137.5h1v1h-1zM160.7 135.5h1v1h-1zM163.2 133.8h1v1h-1zM165.1 132.9h1v1h-1zM166.4 132.3h1v1h-1zM164.8 133.0h1v1h-1zM169.1 135.2h1v1h-1zM168.7 135.4h1v1h-1zM159.9 136.8h1v1h-1z" fill="#47cf5b"/>
<path d="M170.8 133.9h1v1h-1zM171.5 133.3h1v1h-1zM170.6 131.4h1v1h-1zM163.8 133.6h1v1h-1zM168.3 135.5h1v1h-1zM160.6 135.9h1v1h-1zM163.1 137.5h1v1h-1zM168.1 131.8h1v1h-1zM160.0 137.0h1v1h-1zM171.0 133.7h1v1h-1zM169.3 131.6h1v1h-1zM170.5 131.5h1v1h-1zM161.6 137.7h1v1h-1zM162.2 137.7h1v1h-1zM163.4 137.4h1v1h-1zM170.5 134.0h1v1h-1zM171.7 131.8h1v1h-1zM160.5 136.1h1v1h-1zM160.7 137.5h1v1h-1zM163.8 137.3h1v1h-1zM171.7 132.4h1v1h-1zM169.3 131.7h1v1h-1zM160.7 136.1h1v1h-1zM164.6 137.0h1v1h-1zM168.4 135.4h1v1h-1zM163.1 137.4h1v1h-1zM169.4 131.7h1v1h-1zM161.1 135.7h1v1h-1zM171.4 132.7h1v1h-1zM165.8 136.5h1v1h-1zM161.9 135.0h1v1h-1zM166.1 136.4h1v1h-1zM162.6 134.5h1v1h-1zM168.4 135.2h1v1h-1zM170.6 132.0h1v1h-1zM160.9 136.7h1v1h-1zM165.4 133.1h1v1h-1zM166.2 132.8h1v1h-1zM161.1 136.3h1v1h-1zM170.3 132.1h1v1h-1zM162.0 135.2h1v1h-1zM168.8 134.8h1v1h-1zM170.8 133.0h1v1h-1zM170.8 133.0h1v1h-1zM161.3 136.8h1v1h-1zM163.7 136.9h1v1h-1zM161.3 136.5h1v1h-1zM162.1 135.2h1v1h-1zM165.5 136.4h1v1h-1zM163.2 134.4h1v1h-1zM166.7 132.8h1v1h-1zM170.7 132.8h1v1h-1zM164.0 134.0h1v1h-1zM163.8 134.1h1v1h-1zM170.5 132.5h1v1h-1zM163.1 136.9h1v1h-1zM161.9 135.7h1v1h-1zM165.4 136.3h1v1h-1zM161.8 136.7h1v1h-1zM168.6 134.7h1v1h-1zM161.6 136.5h1v1h-1zM170.3 133.2h1v1h-1zM162.3 136.9h1v1h-1zM162.4 135.2h1v1h-1zM170.0 133.5h1v1h-1zM165.4 133.4h1v1h-1zM166.6 135.8h1v1h-1zM164.6 133.8h1v1h-1zM169.7 133.7h1v1h-1zM168.9 132.4h1v1h-1zM170.0 133.4h1v1h-1zM170.1 132.8h1v1h-1zM165.5 136.2h1v1h-1zM162.1 135.8h1v1h-1zM166.1 133.2h1v1h-1zM163.8 136.6h1v1h-1zM167.8 132.7h1v1h-1zM162.4 136.6h1v1h-1z" fill="#5cd33a"/>
<path d="M164.7 133.9h1v1h-1zM165.0 136.3h1v1h-1zM169.5 133.8h1v1h-1zM169.4 132.6h1v1h-1zM162.6 135.3h1v1h-1zM169.2 134.0h1v1h-1zM167.8 132.8h1v1h-1zM163.4 134.8h1v1h-1zM163.3 134.9h1v1h-1zM163.5 136.5h1v1h-1zM164.4 134.1h1v1h-1zM164.2 134.2h1v1h-1zM169.3 133.8h1v1h-1zM168.1 134.7h1v1h-1zM166.1 133.4h1v1h-1zM164.7 134.0h1v1h-1zM167.8 134.8h1v1h-1zM163.4 136.3h1v1h-1zM167.6 133.0h1v1h-1zM167.2 135.1h1v1h-1zM169.1 133.1h1v1h-1zM164.3 134.4h1v1h-1zM163.8 134.7h1v1h-1zM169.0 133.3h1v1h-1zM165.9 135.7h1v1h-1zM167.3 133.2h1v1h-1zM165.7 135.7h1v1h-1zM164.6 134.3h1v1h-1zM166.7 133.4h1v1h-1zM167.4 134.8h1v1h-1zM167.2 133.3h1v1h-1zM167.3 133.3h1v1h-1zM166.6 133.5h1v1h-1zM168.4 133.5h1v1h-1zM165.2 134.1h1v1h-1zM163.6 135.7h1v1h-1zM167.4 134.7h1v1h-1zM167.3 133.4h1v1h-1zM168.3 133.7h1v1h-1zM167.6 133.4h1v1h-1zM168.1 133.9h1v1h-1zM167.7 134.3h1v1h-1zM164.8 135.7h1v1h-1zM168.0 133.9h1v1h-1zM165.1 134.4h1v1h-1zM164.3 135.0h1v1h-1zM164.8 134.7h1v1h-1zM165.4 135.3h1v1h-1zM165.1 135.4h1v1h-1zM166.4 135.0h1v1h-1zM167.5 134.1h1v1h-1zM165.0 134.6h1v1h-1zM165.4 135.3h1v1h-1zM165.8 134.3h1v1h-1zM165.8 135.0h1v1h-1zM166.5 134.1h1v1h-1zM166.9 134.3h1v1h-1zM166.1 134.8h1v1h-1zM166.2 134.6h1v1h-1z" fill="#b6dd2c"/>
<rect x="305.8" y="4.4" width="140.0" height="140.0" fill="none" stroke="#1a1a1a" stroke-width="1.4"/>
<line x1="305.80" y1="144.40" x2="305.80" y2="147.40" stroke="#111" stroke-width="1" />
<line x1="316.34" y1="144.40" x2="316.34" y2="146.20" stroke="#111" stroke-width="0.8" />
<line x1="322.50" y1="144.40" x2="322.50" y2="146.20" stroke="#111" stroke-width="0.8" />
<line x1="326.87" y1="144.40" x2="326.87" y2="146.20" stroke="#111" stroke-width="0.8" />
<line x1="330.26" y1="144.40" x2="330.26" y2="146.20" stroke="#111" stroke-width="0.8" />
<line x1="333.04" y1="144.40" x2="333.04" y2="146.20" stroke="#111" stroke-width="0.8" />
<line x1="335.38" y1="144.40" x2="335.38" y2="146.20" stroke="#111" stroke-width="0.8" />
<line x1="337.41" y1="144.40" x2="337.41" y2="146.20" stroke="#111" stroke-width="0.8" />
<line x1="339.20" y1="144.40" x2="339.20" y2="146.20" stroke="#111" stroke-width="0.8" />
<line x1="340.80" y1="144.40" x2="340.80" y2="147.40" stroke="#111" stroke-width="1" />
<line x1="351.34" y1="144.40" x2="351.34" y2="146.20" stroke="#111" stroke-width="0.8" />
<line x1="357.50" y1="144.40" x2="357.50" y2="146.20" stroke="#111" stroke-width="0.8" />
<line x1="361.87" y1="144.40" x2="361.87" y2="146.20" stroke="#111" stroke-width="0.8" />
<line x1="365.26" y1="144.40" x2="365.26" y2="146.20" stroke="#111" stroke-width="0.8" />
<line x1="368.04" y1="144.40" x2="368.04" y2="146.20" stroke="#111" stroke-width="0.8" />
<line x1="370.38" y1="144.40" x2="370.38" y2="146.20" stroke="#111" stroke-width="0.8" />
<line x1="372.41" y1="144.40" x2="372.41" y2="146.20" stroke="#111" stroke-width="0.8" />
<line x1="374.20" y1="144.40" x2="374.20" y2="146.20" stroke="#111" stroke-width="0.8" />
<line x1="375.80" y1="144.40" x2="375.80" y2="147.40" stroke="#111" stroke-width="1" />
<line x1="386.34" y1="144.40" x2="386.34" y2="146.20" stroke="#111" stroke-width="0.8" />
<line x1="392.50" y1="144.40" x2="392.50" y2="146.20" stroke="#111" stroke-width="0.8" />
<line x1="396.87" y1="144.40" x2="396.87" y2="146.20" stroke="#111" stroke-width="0.8" />
<line x1="400.26" y1="144.40" x2="400.26" y2="146.20" stroke="#111" stroke-width="0.8" />
<line x1="403.04" y1="144.40" x2="403.04" y2="146.20" stroke="#111" stroke-width="0.8" />
<line x1="405.38" y1="144.40" x2="405.38" y2="146.20" stroke="#111" stroke-width="0.8" />
<line x1="407.41" y1="144.40" x2="407.41" y2="146.20" stroke="#111" stroke-width="0.8" />
<line x1="409.20" y1="144.40" x2="409.20" y2="146.20" stroke="#111" stroke-width="0.8" />
<line x1="410.80" y1="144.40" x2="410.80" y2="147.40" stroke="#111" stroke-width="1" />
<line x1="421.34" y1="144.40" x2="421.34" y2="146.20" stroke="#111" stroke-width="0.8" />
<line x1="427.50" y1="144.40" x2="427.50" y2="146.20" stroke="#111" stroke-width="0.8" />
<line x1="431.87" y1="144.40" x2="431.87" y2="146.20" stroke="#111" stroke-width="0.8" />
<line x1="435.26" y1="144.40" x2="435.26" y2="146.20" stroke="#111" stroke-width="0.8" />
<line x1="438.04" y1="144.40" x2="438.04" y2="146.20" stroke="#111" stroke-width="0.8" />
<line x1="440.38" y1="144.40" x2="440.38" y2="146.20" stroke="#111" stroke-width="0.8" />
<line x1="442.41" y1="144.40" x2="442.41" y2="146.20" stroke="#111" stroke-width="0.8" />
<line x1="444.20" y1="144.40" x2="444.20" y2="146.20" stroke="#111" stroke-width="0.8" />
<line x1="445.80" y1="144.40" x2="445.80" y2="147.40" stroke="#111" stroke-width="1" />
<line x1="302.80" y1="144.40" x2="305.80" y2="144.40" stroke="#111" stroke-width="1" />
<line x1="304.00" y1="133.86" x2="305.80" y2="133.86" stroke="#111" stroke-width="0.8" />
<line x1="304.00" y1="127.70" x2="305.80" y2="127.70" stroke="#111" stroke-width="0.8" />
<line x1="304.00" y1="123.33" x2="305.80" y2="123.33" stroke="#111" stroke-width="0.8" />
<line x1="304.00" y1="119.94" x2="305.80" y2="119.94" stroke="#111" stroke-width="0.8" />
<line x1="304.00" y1="117.16" x2="305.80" y2="117.16" stroke="#111" stroke-width="0.8" />
<line x1="304.00" y1="114.82" x2="305.80" y2="114.82" stroke="#111" stroke-width="0.8" />
<line x1="304.00" y1="112.79" x2="305.80" y2="112.79" stroke="#111" stroke-width="0.8" />
<line x1="304.00" y1="111.00" x2="305.80" y2="111.00" stroke="#111" stroke-width="0.8" />
<line x1="302.80" y1="109.40" x2="305.80" y2="109.40" stroke="#111" stroke-width="1" />
<line x1="304.00" y1="98.86" x2="305.80" y2="98.86" stroke="#111" stroke-width="0.8" />
<line x1="304.00" y1="92.70" x2="305.80" y2="92.70" stroke="#111" stroke-width="0.8" />
<line x1="304.00" y1="88.33" x2="305.80" y2="88.33" stroke="#111" stroke-width="0.8" />
<line x1="304.00" y1="84.94" x2="305.80" y2="84.94" stroke="#111" stroke-width="0.8" />
<line x1="304.00" y1="82.16" x2="305.80" y2="82.16" stroke="#111" stroke-width="0.8" />
<line x1="304.00" y1="79.82" x2="305.80" y2="79.82" stroke="#111" stroke-width="0.8" />
<line x1="304.00" y1="77.79" x2="305.80" y2="77.79" stroke="#111" stroke-width="0.8" />
<line x1="304.00" y1="76.00" x2="305.80" y2="76.00" stroke="#111" stroke-width="0.8" />
<line x1="302.80" y1="74.40" x2="305.80" y2="74.40" stroke="#111" stroke-width="1" />
<line x1="304.00" y1="63.86" x2="305.80" y2="63.86" stroke="#111" stroke-width="0.8" />
<line x1="304.00" y1="57.70" x2="305.80" y2="57.70" stroke="#111" stroke-width="0.8" />
<line x1="304.00" y1="53.33" x2="305.80" y2="53.33" stroke="#111" stroke-width="0.8" />
<line x1="304.00" y1="49.94" x2="305.80" y2="49.94" stroke="#111" stroke-width="0.8" />
<line x1="304.00" y1="47.16" x2="305.80" y2="47.16" stroke="#111" stroke-width="0.8" />
<line x1="304.00" y1="44.82" x2="305.80" y2="44.82" stroke="#111" stroke-width="0.8" />
<line x1="304.00" y1="42.79" x2="305.80" y2="42.79" stroke="#111" stroke-width="0.8" />
<line x1="304.00" y1="41.00" x2="305.80" y2="41.00" stroke="#111" stroke-width="0.8" />
<line x1="302.80" y1="39.40" x2="305.80" y2="39.40" stroke="#111" stroke-width="1" />
<line x1="304.00" y1="28.86" x2="305.80" y2="28.86" stroke="#111" stroke-width="0.8" />
<line x1="304.00" y1="22.70" x2="305.80" y2="22.70" stroke="#111" stroke-width="0.8" />
<line x1="304.00" y1="18.33" x2="305.80" y2="18.33" stroke="#111" stroke-width="0.8" />
<line x1="304.00" y1="14.94" x2="305.80" y2="14.94" stroke="#111" stroke-width="0.8" />
<line x1="304.00" y1="12.16" x2="305.80" y2="12.16" stroke="#111" stroke-width="0.8" />
<line x1="304.00" y1="9.82" x2="305.80" y2="9.82" stroke="#111" stroke-width="0.8" />
<line x1="304.00" y1="7.79" x2="305.80" y2="7.79" stroke="#111" stroke-width="0.8" />
<line x1="304.00" y1="6.00" x2="305.80" y2="6.00" stroke="#111" stroke-width="0.8" />
<line x1="302.80" y1="4.40" x2="305.80" y2="4.40" stroke="#111" stroke-width="1" />
<text x="304.80" y="163.20" font-size="7.2" text-anchor="start" font-weight="normal" fill="#333" >10</text>
<text x="313.20" y="158.00" font-size="5.3" text-anchor="start" font-weight="normal" fill="#333" >0</text>
<text x="337.75" y="163.20" font-size="7.2" text-anchor="start" font-weight="normal" fill="#333" >10</text>
<text x="346.15" y="158.00" font-size="5.3" text-anchor="start" font-weight="normal" fill="#333" >1</text>
<text x="370.70" y="163.20" font-size="7.2" text-anchor="start" font-weight="normal" fill="#333" >10</text>
<text x="379.10" y="158.00" font-size="5.3" text-anchor="start" font-weight="normal" fill="#333" >2</text>
<text x="403.65" y="163.20" font-size="7.2" text-anchor="start" font-weight="normal" fill="#333" >10</text>
<text x="412.05" y="158.00" font-size="5.3" text-anchor="start" font-weight="normal" fill="#333" >3</text>
<text x="436.60" y="163.20" font-size="7.2" text-anchor="start" font-weight="normal" fill="#333" >10</text>
<text x="445.00" y="158.00" font-size="5.3" text-anchor="start" font-weight="normal" fill="#333" >4</text>
<text x="294.60" y="147.00" font-size="7.2" text-anchor="end" font-weight="normal" fill="#333" >10</text>
<text x="295.90" y="141.80" font-size="5.3" text-anchor="start" font-weight="normal" fill="#333" >0</text>
<text x="294.60" y="112.00" font-size="7.2" text-anchor="end" font-weight="normal" fill="#333" >10</text>
<text x="295.90" y="106.80" font-size="5.3" text-anchor="start" font-weight="normal" fill="#333" >1</text>
<text x="294.60" y="77.00" font-size="7.2" text-anchor="end" font-weight="normal" fill="#333" >10</text>
<text x="295.90" y="71.80" font-size="5.3" text-anchor="start" font-weight="normal" fill="#333" >2</text>
<text x="294.60" y="42.00" font-size="7.2" text-anchor="end" font-weight="normal" fill="#333" >10</text>
<text x="295.90" y="36.80" font-size="5.3" text-anchor="start" font-weight="normal" fill="#333" >3</text>
<text x="294.60" y="4.50" font-size="7.2" text-anchor="end" font-weight="normal" fill="#333" >10</text>
<text x="295.90" y="-0.70" font-size="5.3" text-anchor="start" font-weight="normal" fill="#333" >4</text>
<text x="0.00" y="0.00" font-size="10.9" text-anchor="middle" font-weight="normal" fill="#111" transform="translate(284.6,90.2) rotate(-90)">pY-Stat5-Alexa647</text>
<text x="317.00" y="178.20" font-size="11" text-anchor="start" font-weight="normal" fill="#111" >pY-Stat3-PE</text>
<rect x="374.4" y="76.0" width="1" height="1" fill="#c4c4dc"/>
<rect x="369.8" y="62.2" width="1" height="1" fill="#c4c4dc"/>
<rect x="349.3" y="74.6" width="1" height="1" fill="#c4c4dc"/>
<rect x="334.9" y="73.4" width="1" height="1" fill="#c4c4dc"/>
<rect x="346.1" y="80.8" width="1" height="1" fill="#c4c4dc"/>
<rect x="353.2" y="89.9" width="1" height="1" fill="#c4c4dc"/>
<rect x="373.4" y="98.5" width="1" height="1" fill="#c4c4dc"/>
<rect x="362.8" y="71.8" width="1" height="1" fill="#c4c4dc"/>
<rect x="356.8" y="78.7" width="1" height="1" fill="#c4c4dc"/>
<rect x="333.8" y="74.6" width="1" height="1" fill="#c4c4dc"/>
<rect x="333.4" y="82.5" width="1" height="1" fill="#c4c4dc"/>
<rect x="322.4" y="82.6" width="1" height="1" fill="#c4c4dc"/>
<rect x="345.6" y="62.2" width="1" height="1" fill="#c4c4dc"/>
<rect x="336.5" y="98.9" width="1" height="1" fill="#c4c4dc"/>
<rect x="356.8" y="64.5" width="1" height="1" fill="#c4c4dc"/>
<rect x="356.7" y="88.8" width="1" height="1" fill="#c4c4dc"/>
<rect x="327.0" y="77.3" width="1" height="1" fill="#c4c4dc"/>
<rect x="332.3" y="82.6" width="1" height="1" fill="#c4c4dc"/>
<rect x="373.1" y="71.1" width="1" height="1" fill="#c4c4dc"/>
<rect x="327.3" y="67.3" width="1" height="1" fill="#c4c4dc"/>
<rect x="359.2" y="64.6" width="1" height="1" fill="#c4c4dc"/>
<rect x="353.3" y="92.8" width="1" height="1" fill="#c4c4dc"/>
<rect x="369.4" y="87.5" width="1" height="1" fill="#c4c4dc"/>
<rect x="318.7" y="78.4" width="1" height="1" fill="#c4c4dc"/>
<rect x="334.3" y="81.6" width="1" height="1" fill="#c4c4dc"/>
<rect x="328.2" y="67.1" width="1" height="1" fill="#c4c4dc"/>
<rect x="381.7" y="95.5" width="1" height="1" fill="#c4c4dc"/>
<rect x="324.5" y="93.5" width="1" height="1" fill="#c4c4dc"/>
<rect x="322.4" y="74.9" width="1" height="1" fill="#c4c4dc"/>
<rect x="384.6" y="97.7" width="1" height="1" fill="#c4c4dc"/>
<path d="M344.8 142.3h1v1h-1zM340.1 142.8h1v1h-1zM340.1 142.6h1v1h-1zM333.8 143.2h1v1h-1zM341.2 142.0h1v1h-1zM340.8 142.0h1v1h-1zM330.2 142.7h1v1h-1zM332.4 142.7h1v1h-1zM328.8 142.4h1v1h-1zM338.2 142.1h1v1h-1zM333.6 142.2h1v1h-1zM338.2 141.8h1v1h-1zM338.9 141.6h1v1h-1zM346.1 138.9h1v1h-1zM335.1 141.5h1v1h-1zM327.4 140.9h1v1h-1zM340.3 140.5h1v1h-1zM347.3 138.1h1v1h-1zM327.8 141.6h1v1h-1zM335.8 141.0h1v1h-1zM344.3 139.1h1v1h-1zM341.8 139.8h1v1h-1zM334.6 140.9h1v1h-1zM336.6 140.7h1v1h-1zM331.2 140.7h1v1h-1zM340.2 139.7h1v1h-1zM331.4 140.4h1v1h-1zM341.7 139.0h1v1h-1zM322.3 94.7h1v1h-1zM335.7 139.9h1v1h-1zM339.0 139.4h1v1h-1zM337.1 139.6h1v1h-1zM339.8 139.0h1v1h-1zM345.0 137.2h1v1h-1zM343.7 137.5h1v1h-1zM336.2 139.2h1v1h-1zM342.4 137.6h1v1h-1zM346.7 136.8h1v1h-1zM358.1 125.5h1v1h-1zM335.2 138.9h1v1h-1zM335.8 138.6h1v1h-1zM351.6 131.6h1v1h-1zM342.4 136.8h1v1h-1zM322.3 137.3h1v1h-1zM337.1 137.9h1v1h-1zM336.5 137.9h1v1h-1zM315.3 100.8h1v1h-1zM307.0 116.8h1v1h-1zM339.5 137.3h1v1h-1zM337.1 137.5h1v1h-1zM307.7 113.2h1v1h-1zM340.4 136.7h1v1h-1zM342.0 136.2h1v1h-1zM307.8 119.5h1v1h-1zM309.5 124.6h1v1h-1zM340.6 136.1h1v1h-1zM335.7 137.0h1v1h-1zM308.9 111.5h1v1h-1zM313.4 104.1h1v1h-1zM336.0 136.8h1v1h-1zM321.6 134.4h1v1h-1zM347.6 100.3h1v1h-1zM335.8 136.6h1v1h-1zM310.3 109.1h1v1h-1zM337.5 136.4h1v1h-1zM335.5 136.6h1v1h-1zM339.4 135.9h1v1h-1zM319.4 134.2h1v1h-1zM330.5 136.6h1v1h-1zM337.2 137.3h1v1h-1zM341.2 135.2h1v1h-1zM326.6 135.7h1v1h-1zM334.4 136.3h1v1h-1zM310.2 123.4h1v1h-1zM326.7 135.5h1v1h-1zM316.9 101.9h1v1h-1zM333.1 136.2h1v1h-1zM334.0 136.2h1v1h-1zM342.8 135.4h1v1h-1zM324.3 134.6h1v1h-1zM337.1 135.7h1v1h-1zM336.3 135.8h1v1h-1zM309.4 119.0h1v1h-1zM343.1 133.9h1v1h-1zM330.0 135.8h1v1h-1zM309.5 115.4h1v1h-1zM314.2 105.0h1v1h-1zM320.4 133.8h1v1h-1zM342.3 134.1h1v1h-1zM311.5 124.7h1v1h-1zM341.2 134.2h1v1h-1zM334.2 136.6h1v1h-1zM332.1 135.5h1v1h-1zM344.0 134.1h1v1h-1zM336.4 97.7h1v1h-1zM311.8 124.5h1v1h-1zM344.3 134.0h1v1h-1zM346.2 131.5h1v1h-1zM331.5 135.1h1v1h-1zM312.6 125.5h1v1h-1zM337.9 134.6h1v1h-1zM319.3 132.3h1v1h-1zM315.2 128.8h1v1h-1zM313.3 126.4h1v1h-1zM315.1 128.8h1v1h-1zM316.8 130.3h1v1h-1zM345.9 131.2h1v1h-1zM313.8 126.9h1v1h-1zM334.3 136.0h1v1h-1zM333.0 136.0h1v1h-1zM330.1 134.7h1v1h-1zM347.4 129.8h1v1h-1zM343.0 132.5h1v1h-1zM327.3 135.1h1v1h-1zM318.6 131.2h1v1h-1zM350.9 128.0h1v1h-1zM335.3 134.4h1v1h-1zM323.2 133.7h1v1h-1zM311.0 116.7h1v1h-1zM331.9 134.4h1v1h-1zM315.0 127.7h1v1h-1zM338.5 133.7h1v1h-1zM328.7 98.9h1v1h-1zM335.8 134.0h1v1h-1zM337.0 133.8h1v1h-1zM341.3 132.6h1v1h-1zM350.5 106.3h1v1h-1zM312.8 111.0h1v1h-1zM352.8 123.7h1v1h-1zM327.4 134.3h1v1h-1zM339.9 100.1h1v1h-1zM312.0 118.5h1v1h-1zM321.0 131.7h1v1h-1zM314.0 109.4h1v1h-1zM337.1 133.1h1v1h-1zM331.2 134.6h1v1h-1zM317.0 128.1h1v1h-1zM312.6 120.2h1v1h-1zM320.0 130.6h1v1h-1zM322.2 102.2h1v1h-1zM338.9 133.7h1v1h-1zM336.7 132.7h1v1h-1zM317.0 106.3h1v1h-1zM341.4 131.3h1v1h-1zM314.2 110.5h1v1h-1zM339.9 133.1h1v1h-1zM353.3 117.3h1v1h-1zM336.0 132.7h1v1h-1zM327.8 133.6h1v1h-1zM350.9 108.9h1v1h-1zM326.9 100.7h1v1h-1zM340.4 131.5h1v1h-1zM338.9 132.0h1v1h-1zM313.9 122.2h1v1h-1zM333.5 132.6h1v1h-1zM326.9 133.1h1v1h-1zM324.8 131.0h1v1h-1zM313.1 115.7h1v1h-1zM313.9 112.2h1v1h-1zM313.1 116.4h1v1h-1zM348.8 127.0h1v1h-1zM313.4 115.4h1v1h-1zM341.5 130.5h1v1h-1zM313.7 120.2h1v1h-1zM326.9 132.8h1v1h-1zM313.8 120.4h1v1h-1zM316.8 107.7h1v1h-1zM328.0 101.1h1v1h-1zM333.0 132.1h1v1h-1zM345.7 104.7h1v1h-1zM315.5 124.0h1v1h-1zM336.9 131.6h1v1h-1zM331.3 133.2h1v1h-1zM350.9 123.1h1v1h-1zM337.9 131.4h1v1h-1zM340.7 131.9h1v1h-1zM340.7 130.3h1v1h-1zM330.4 131.7h1v1h-1zM328.2 101.4h1v1h-1zM328.3 132.6h1v1h-1zM317.3 126.0h1v1h-1zM317.5 126.2h1v1h-1zM318.3 127.1h1v1h-1zM340.1 102.2h1v1h-1zM315.9 110.4h1v1h-1zM340.2 130.1h1v1h-1zM346.2 128.1h1v1h-1zM349.7 109.9h1v1h-1zM318.5 107.1h1v1h-1zM326.0 102.5h1v1h-1zM345.4 128.6h1v1h-1zM318.7 126.9h1v1h-1zM317.2 109.0h1v1h-1zM351.3 115.4h1v1h-1zM324.2 130.6h1v1h-1zM328.1 131.9h1v1h-1zM332.6 131.1h1v1h-1zM345.7 126.1h1v1h-1zM329.9 132.2h1v1h-1zM350.4 112.3h1v1h-1zM332.5 132.4h1v1h-1zM332.2 101.6h1v1h-1zM367.2 115.2h1v1h-1zM355.6 103.1h1v1h-1zM353.1 112.8h1v1h-1zM353.3 109.3h1v1h-1zM332.0 104.4h1v1h-1zM336.2 88.3h1v1h-1zM329.5 104.3h1v1h-1zM353.6 86.4h1v1h-1zM361.3 114.7h1v1h-1zM337.9 95.4h1v1h-1zM341.2 109.9h1v1h-1zM337.8 89.0h1v1h-1zM345.8 79.4h1v1h-1zM343.6 111.6h1v1h-1zM345.4 107.8h1v1h-1zM347.4 107.3h1v1h-1zM343.6 91.7h1v1h-1zM339.5 99.3h1v1h-1zM355.8 116.3h1v1h-1zM346.6 92.5h1v1h-1zM334.0 98.1h1v1h-1zM357.3 103.3h1v1h-1zM341.4 92.3h1v1h-1zM351.7 102.9h1v1h-1zM341.4 101.0h1v1h-1zM360.6 98.4h1v1h-1zM360.6 112.4h1v1h-1zM342.6 108.8h1v1h-1zM340.6 91.7h1v1h-1zM339.1 90.9h1v1h-1zM347.6 100.1h1v1h-1zM348.2 108.3h1v1h-1zM307.7 103.1h1v1h-1zM322.2 101.7h1v1h-1zM332.3 101.0h1v1h-1zM319.2 126.9h1v1h-1zM344.2 127.2h1v1h-1zM315.4 120.6h1v1h-1zM333.9 130.8h1v1h-1zM315.7 121.0h1v1h-1zM333.2 132.1h1v1h-1zM325.9 129.3h1v1h-1zM339.4 102.9h1v1h-1zM315.2 118.3h1v1h-1zM332.7 130.6h1v1h-1zM323.2 104.5h1v1h-1zM316.5 111.6h1v1h-1zM315.3 116.8h1v1h-1zM322.4 105.1h1v1h-1zM326.1 103.2h1v1h-1zM316.8 111.2h1v1h-1zM328.3 102.6h1v1h-1zM322.0 105.3h1v1h-1zM319.2 107.7h1v1h-1zM335.1 131.8h1v1h-1zM330.6 131.7h1v1h-1zM319.2 126.3h1v1h-1zM350.5 118.2h1v1h-1zM315.6 114.9h1v1h-1zM338.5 131.1h1v1h-1zM319.5 107.6h1v1h-1zM343.5 128.8h1v1h-1zM350.3 118.2h1v1h-1zM323.7 104.6h1v1h-1zM317.6 123.8h1v1h-1zM337.9 129.5h1v1h-1zM316.2 113.5h1v1h-1zM328.3 131.0h1v1h-1zM333.3 131.6h1v1h-1zM329.6 131.3h1v1h-1zM315.9 118.8h1v1h-1zM347.5 124.8h1v1h-1zM317.5 110.7h1v1h-1zM320.6 107.0h1v1h-1zM330.9 129.8h1v1h-1zM321.6 127.8h1v1h-1zM329.2 129.5h1v1h-1zM326.7 130.4h1v1h-1zM316.3 114.1h1v1h-1zM322.4 105.8h1v1h-1zM333.2 102.6h1v1h-1zM329.3 129.4h1v1h-1zM345.4 107.2h1v1h-1zM344.7 124.9h1v1h-1zM333.8 131.2h1v1h-1zM343.7 127.9h1v1h-1zM330.7 129.5h1v1h-1zM349.4 119.7h1v1h-1zM318.8 109.7h1v1h-1zM345.7 126.1h1v1h-1zM317.0 120.7h1v1h-1zM320.1 125.8h1v1h-1zM327.6 128.6h1v1h-1zM335.1 129.3h1v1h-1zM337.4 130.5h1v1h-1zM317.5 121.7h1v1h-1zM323.3 128.3h1v1h-1zM324.6 129.0h1v1h-1zM346.5 109.1h1v1h-1zM319.0 109.7h1v1h-1zM332.9 103.1h1v1h-1zM337.8 103.7h1v1h-1zM317.6 121.8h1v1h-1zM332.8 103.1h1v1h-1zM329.3 130.5h1v1h-1zM346.6 109.3h1v1h-1zM349.1 119.5h1v1h-1zM316.9 114.8h1v1h-1zM337.0 103.6h1v1h-1zM337.3 128.6h1v1h-1zM320.0 125.4h1v1h-1zM346.3 125.0h1v1h-1zM322.6 127.5h1v1h-1zM325.3 129.0h1v1h-1zM326.4 104.5h1v1h-1zM323.2 106.2h1v1h-1zM342.8 125.7h1v1h-1zM330.7 130.5h1v1h-1zM328.1 104.1h1v1h-1zM317.4 120.0h1v1h-1zM326.9 104.5h1v1h-1zM348.9 118.4h1v1h-1zM327.7 129.7h1v1h-1zM339.3 129.4h1v1h-1zM342.9 125.4h1v1h-1zM344.9 126.0h1v1h-1zM333.9 130.4h1v1h-1zM334.8 128.7h1v1h-1zM334.9 103.7h1v1h-1zM345.7 124.9h1v1h-1zM334.7 130.2h1v1h-1zM323.8 106.2h1v1h-1zM348.6 118.4h1v1h-1zM335.8 128.3h1v1h-1zM344.2 107.7h1v1h-1zM348.6 117.4h1v1h-1zM321.6 126.1h1v1h-1zM332.9 128.5h1v1h-1zM319.2 110.9h1v1h-1zM344.3 107.9h1v1h-1zM317.5 115.9h1v1h-1zM348.0 113.4h1v1h-1zM343.1 124.6h1v1h-1zM342.9 106.9h1v1h-1zM333.1 128.4h1v1h-1zM326.1 128.8h1v1h-1zM341.2 128.0h1v1h-1zM339.6 126.8h1v1h-1zM339.5 126.8h1v1h-1zM334.8 129.9h1v1h-1zM332.2 128.2h1v1h-1zM330.5 128.0h1v1h-1zM328.2 129.3h1v1h-1zM323.1 107.1h1v1h-1zM335.6 128.0h1v1h-1zM318.9 112.1h1v1h-1zM333.6 128.1h1v1h-1zM336.5 129.5h1v1h-1zM335.8 127.8h1v1h-1zM326.5 105.4h1v1h-1zM339.7 128.5h1v1h-1zM324.8 127.8h1v1h-1zM332.8 129.8h1v1h-1zM329.4 127.6h1v1h-1zM328.5 129.2h1v1h-1zM318.7 121.0h1v1h-1zM339.2 128.6h1v1h-1zM318.6 113.2h1v1h-1zM322.0 125.6h1v1h-1zM343.7 125.9h1v1h-1zM333.9 127.9h1v1h-1zM320.6 109.9h1v1h-1zM346.1 123.1h1v1h-1zM342.6 124.2h1v1h-1zM339.0 126.6h1v1h-1zM325.5 106.1h1v1h-1zM347.1 120.7h1v1h-1zM337.6 127.0h1v1h-1zM327.1 128.4h1v1h-1zM331.8 127.6h1v1h-1zM324.9 127.3h1v1h-1zM321.2 124.4h1v1h-1zM331.8 129.4h1v1h-1zM330.7 129.2h1v1h-1zM335.5 104.8h1v1h-1zM345.7 123.2h1v1h-1zM339.2 128.2h1v1h-1zM328.7 105.2h1v1h-1zM335.9 127.2h1v1h-1zM319.8 122.0h1v1h-1zM319.6 121.5h1v1h-1zM339.5 125.7h1v1h-1zM337.9 128.4h1v1h-1zM318.8 118.3h1v1h-1zM319.2 114.0h1v1h-1zM327.7 128.2h1v1h-1zM334.9 127.0h1v1h-1zM340.5 124.9h1v1h-1zM344.9 110.4h1v1h-1zM323.4 125.9h1v1h-1zM322.2 124.8h1v1h-1zM336.6 128.6h1v1h-1zM323.0 125.5h1v1h-1zM346.6 120.6h1v1h-1zM331.5 128.9h1v1h-1zM319.2 114.4h1v1h-1zM331.4 105.1h1v1h-1zM318.9 117.8h1v1h-1zM324.9 126.7h1v1h-1zM323.5 125.8h1v1h-1zM339.8 106.6h1v1h-1zM319.0 116.9h1v1h-1zM340.1 124.9h1v1h-1zM319.0 117.3h1v1h-1zM339.0 125.5h1v1h-1zM340.8 107.1h1v1h-1zM320.9 122.9h1v1h-1zM333.7 105.2h1v1h-1zM338.2 106.1h1v1h-1zM319.2 115.7h1v1h-1zM342.9 122.1h1v1h-1zM321.2 110.9h1v1h-1zM319.2 116.5h1v1h-1zM329.5 128.3h1v1h-1zM325.1 107.4h1v1h-1zM345.1 122.6h1v1h-1zM346.4 114.4h1v1h-1z" fill="#2e39bd"/>
<path d="M323.5 125.4h1v1h-1zM341.6 126.0h1v1h-1zM334.8 128.5h1v1h-1zM336.8 105.9h1v1h-1zM338.5 125.3h1v1h-1zM319.4 118.0h1v1h-1zM342.2 125.5h1v1h-1zM328.0 106.3h1v1h-1zM339.2 124.9h1v1h-1zM343.9 123.8h1v1h-1zM331.5 126.3h1v1h-1zM333.3 128.3h1v1h-1zM321.5 111.2h1v1h-1zM320.0 114.2h1v1h-1zM321.7 123.0h1v1h-1zM323.8 125.1h1v1h-1zM344.5 122.6h1v1h-1zM319.7 117.2h1v1h-1zM341.2 125.8h1v1h-1zM324.0 108.8h1v1h-1zM346.1 115.2h1v1h-1zM336.8 106.3h1v1h-1zM327.1 127.0h1v1h-1zM324.3 108.6h1v1h-1zM337.5 127.5h1v1h-1zM341.4 122.7h1v1h-1zM322.5 123.7h1v1h-1zM323.5 109.3h1v1h-1zM329.8 127.8h1v1h-1zM320.0 118.9h1v1h-1zM320.8 121.1h1v1h-1zM320.6 113.5h1v1h-1zM339.6 124.0h1v1h-1zM323.7 124.8h1v1h-1zM337.5 106.6h1v1h-1zM340.1 123.6h1v1h-1zM338.3 127.1h1v1h-1zM340.6 108.0h1v1h-1zM321.6 122.3h1v1h-1zM329.0 127.5h1v1h-1zM320.0 117.6h1v1h-1zM326.3 126.4h1v1h-1zM320.9 113.1h1v1h-1zM327.3 126.8h1v1h-1zM340.8 125.7h1v1h-1zM333.8 125.8h1v1h-1zM332.5 125.7h1v1h-1zM320.3 115.5h1v1h-1zM328.6 106.9h1v1h-1zM339.1 126.5h1v1h-1zM322.3 111.1h1v1h-1zM345.6 115.2h1v1h-1zM322.5 123.1h1v1h-1zM340.6 125.6h1v1h-1zM320.5 115.3h1v1h-1zM342.5 124.1h1v1h-1zM323.7 109.7h1v1h-1zM324.0 124.4h1v1h-1zM339.1 123.7h1v1h-1zM320.5 118.5h1v1h-1zM324.0 109.6h1v1h-1zM325.9 108.2h1v1h-1zM338.6 107.5h1v1h-1zM345.2 114.5h1v1h-1zM323.4 123.7h1v1h-1zM328.7 107.1h1v1h-1zM345.4 118.2h1v1h-1zM321.4 113.4h1v1h-1zM321.5 113.2h1v1h-1zM321.5 120.8h1v1h-1zM321.5 113.3h1v1h-1zM322.8 111.1h1v1h-1zM341.7 124.4h1v1h-1zM333.9 127.4h1v1h-1zM343.3 111.4h1v1h-1zM328.2 107.4h1v1h-1zM329.5 107.0h1v1h-1zM345.2 115.8h1v1h-1zM330.2 106.9h1v1h-1zM327.0 126.0h1v1h-1zM324.9 124.7h1v1h-1zM331.4 106.8h1v1h-1zM331.7 127.2h1v1h-1zM323.9 110.1h1v1h-1zM321.3 114.4h1v1h-1zM333.0 125.0h1v1h-1zM328.4 107.6h1v1h-1zM342.5 123.3h1v1h-1zM343.2 122.4h1v1h-1zM338.8 108.1h1v1h-1zM337.4 126.5h1v1h-1zM321.2 118.9h1v1h-1zM321.3 114.7h1v1h-1zM338.5 108.0h1v1h-1zM330.8 126.9h1v1h-1zM321.5 114.2h1v1h-1zM321.2 118.5h1v1h-1zM330.7 107.1h1v1h-1zM321.3 115.2h1v1h-1zM335.4 107.2h1v1h-1zM323.2 122.6h1v1h-1zM321.4 118.8h1v1h-1zM343.4 121.6h1v1h-1zM321.4 117.9h1v1h-1zM327.0 108.5h1v1h-1zM324.2 110.5h1v1h-1zM335.4 107.4h1v1h-1zM341.9 110.7h1v1h-1zM333.3 124.4h1v1h-1zM324.3 123.5h1v1h-1zM330.2 107.5h1v1h-1zM332.2 107.3h1v1h-1zM337.4 126.0h1v1h-1zM331.4 107.3h1v1h-1zM322.0 119.8h1v1h-1zM321.5 117.1h1v1h-1zM322.3 120.6h1v1h-1zM337.2 123.3h1v1h-1zM338.7 122.4h1v1h-1zM332.9 126.7h1v1h-1z" fill="#3351e1"/>
<path d="M322.5 113.2h1v1h-1zM333.1 107.4h1v1h-1zM334.3 126.5h1v1h-1zM344.3 117.0h1v1h-1zM321.7 117.0h1v1h-1zM344.3 115.9h1v1h-1zM321.9 115.3h1v1h-1zM328.1 125.5h1v1h-1zM344.0 118.7h1v1h-1zM324.8 123.4h1v1h-1zM322.7 113.3h1v1h-1zM329.5 125.9h1v1h-1zM322.1 118.8h1v1h-1zM322.2 119.3h1v1h-1zM326.5 109.4h1v1h-1zM343.4 120.4h1v1h-1zM321.9 117.2h1v1h-1zM333.0 107.6h1v1h-1zM338.6 108.9h1v1h-1zM330.1 126.0h1v1h-1zM322.5 119.7h1v1h-1zM323.2 112.8h1v1h-1zM333.0 123.7h1v1h-1zM333.1 126.3h1v1h-1zM333.1 126.3h1v1h-1zM332.1 126.2h1v1h-1zM343.1 120.5h1v1h-1zM325.1 123.4h1v1h-1zM343.6 115.1h1v1h-1zM337.3 125.4h1v1h-1zM340.3 110.3h1v1h-1zM323.9 121.8h1v1h-1zM324.3 122.3h1v1h-1zM338.2 109.1h1v1h-1zM325.8 110.3h1v1h-1zM323.1 120.4h1v1h-1zM322.4 116.6h1v1h-1zM333.9 126.0h1v1h-1zM342.1 121.7h1v1h-1zM329.5 125.5h1v1h-1zM336.1 125.6h1v1h-1zM323.0 114.0h1v1h-1zM331.5 125.8h1v1h-1zM343.2 114.8h1v1h-1zM325.4 123.2h1v1h-1zM339.4 110.0h1v1h-1zM342.4 113.1h1v1h-1zM333.3 125.9h1v1h-1zM330.9 125.7h1v1h-1zM323.0 114.5h1v1h-1zM340.7 111.0h1v1h-1zM330.2 125.5h1v1h-1zM335.0 125.7h1v1h-1zM325.4 123.0h1v1h-1zM343.4 117.0h1v1h-1zM327.5 109.6h1v1h-1zM332.6 108.2h1v1h-1zM330.4 108.5h1v1h-1zM342.3 120.9h1v1h-1zM326.4 110.3h1v1h-1zM343.3 116.5h1v1h-1zM341.4 122.1h1v1h-1zM341.3 111.8h1v1h-1zM324.7 122.2h1v1h-1zM323.7 113.2h1v1h-1zM330.3 108.7h1v1h-1zM328.4 124.7h1v1h-1zM330.3 108.7h1v1h-1zM329.4 125.1h1v1h-1zM323.6 120.2h1v1h-1zM323.5 113.9h1v1h-1zM330.9 125.4h1v1h-1zM338.9 110.0h1v1h-1zM324.6 121.8h1v1h-1zM341.8 112.8h1v1h-1zM335.2 108.7h1v1h-1zM339.8 108.9h1v1h-1zM338.7 107.8h1v1h-1zM352.2 107.4h1v1h-1zM333.4 106.5h1v1h-1zM349.3 104.9h1v1h-1zM349.7 108.5h1v1h-1zM345.6 105.0h1v1h-1zM340.0 105.0h1v1h-1zM343.4 108.1h1v1h-1zM345.6 104.8h1v1h-1zM343.5 107.6h1v1h-1zM333.3 103.0h1v1h-1zM338.3 105.2h1v1h-1zM341.4 105.0h1v1h-1zM337.8 108.7h1v1h-1zM344.7 99.5h1v1h-1zM343.2 101.6h1v1h-1zM353.3 104.2h1v1h-1zM340.7 106.4h1v1h-1zM341.9 105.8h1v1h-1zM352.4 107.0h1v1h-1zM348.1 110.6h1v1h-1zM337.3 112.8h1v1h-1zM347.2 109.9h1v1h-1zM337.9 109.3h1v1h-1zM345.6 103.9h1v1h-1zM356.8 108.3h1v1h-1zM341.7 106.8h1v1h-1zM348.6 110.6h1v1h-1zM346.6 110.9h1v1h-1zM351.9 101.1h1v1h-1zM340.2 102.3h1v1h-1zM343.7 111.9h1v1h-1zM347.0 101.9h1v1h-1zM341.4 110.2h1v1h-1zM339.9 105.7h1v1h-1zM344.9 98.8h1v1h-1zM347.8 107.4h1v1h-1zM346.5 102.2h1v1h-1zM338.5 103.7h1v1h-1zM344.6 106.4h1v1h-1zM343.9 113.2h1v1h-1zM351.0 103.2h1v1h-1zM339.2 112.9h1v1h-1zM341.2 111.6h1v1h-1zM352.7 103.9h1v1h-1zM341.5 106.4h1v1h-1zM337.9 102.2h1v1h-1zM340.7 109.5h1v1h-1zM340.4 105.3h1v1h-1zM340.3 100.6h1v1h-1zM352.0 96.7h1v1h-1zM339.2 108.3h1v1h-1zM334.7 108.5h1v1h-1zM350.6 102.6h1v1h-1zM344.4 101.6h1v1h-1zM346.2 106.4h1v1h-1zM344.4 111.5h1v1h-1zM345.9 111.5h1v1h-1zM346.9 101.3h1v1h-1zM344.7 108.0h1v1h-1zM334.4 111.4h1v1h-1zM343.5 107.5h1v1h-1zM337.7 106.4h1v1h-1zM344.9 104.8h1v1h-1zM343.6 97.6h1v1h-1zM351.3 101.6h1v1h-1zM330.0 102.2h1v1h-1zM338.1 108.3h1v1h-1zM337.6 107.2h1v1h-1zM337.4 114.9h1v1h-1zM346.4 113.9h1v1h-1zM337.0 108.7h1v1h-1zM337.4 108.4h1v1h-1zM347.2 99.7h1v1h-1zM336.3 101.4h1v1h-1zM334.1 103.1h1v1h-1zM337.3 100.3h1v1h-1zM343.7 108.2h1v1h-1zM335.2 103.8h1v1h-1zM343.1 105.1h1v1h-1zM338.9 109.3h1v1h-1zM348.2 108.8h1v1h-1zM341.8 114.0h1v1h-1zM353.5 104.4h1v1h-1zM342.3 110.8h1v1h-1zM338.3 107.6h1v1h-1zM343.3 103.2h1v1h-1zM341.7 99.8h1v1h-1zM339.8 98.1h1v1h-1zM323.8 113.5h1v1h-1zM330.5 125.2h1v1h-1zM335.0 108.7h1v1h-1zM339.4 123.6h1v1h-1zM336.6 124.9h1v1h-1zM324.9 122.0h1v1h-1zM325.7 111.2h1v1h-1zM342.8 115.4h1v1h-1zM335.4 125.2h1v1h-1zM333.8 108.6h1v1h-1zM333.7 108.6h1v1h-1zM327.0 110.3h1v1h-1zM330.5 125.1h1v1h-1zM331.2 125.2h1v1h-1zM327.5 110.1h1v1h-1zM330.7 125.1h1v1h-1zM326.7 123.4h1v1h-1zM327.3 110.2h1v1h-1z" fill="#4572e5"/>
<path d="M327.0 110.4h1v1h-1zM329.8 109.2h1v1h-1zM325.0 121.7h1v1h-1zM329.8 109.2h1v1h-1zM336.7 124.6h1v1h-1zM332.0 125.2h1v1h-1zM327.8 110.0h1v1h-1zM336.0 109.2h1v1h-1zM335.7 124.9h1v1h-1zM333.2 122.0h1v1h-1zM323.8 114.6h1v1h-1zM323.4 116.7h1v1h-1zM323.4 117.6h1v1h-1zM337.9 110.0h1v1h-1zM338.9 110.6h1v1h-1zM331.6 125.0h1v1h-1zM337.3 124.3h1v1h-1zM323.7 119.1h1v1h-1zM323.9 119.5h1v1h-1zM326.0 111.5h1v1h-1zM339.0 123.2h1v1h-1zM341.0 121.3h1v1h-1zM330.9 109.2h1v1h-1zM329.0 124.3h1v1h-1zM337.6 124.0h1v1h-1zM323.7 115.4h1v1h-1zM323.7 115.6h1v1h-1zM331.8 124.9h1v1h-1zM342.0 119.4h1v1h-1zM336.9 124.2h1v1h-1zM337.2 110.0h1v1h-1zM341.7 114.2h1v1h-1zM331.9 124.8h1v1h-1zM342.2 117.4h1v1h-1zM340.2 121.8h1v1h-1zM334.1 124.7h1v1h-1zM333.5 109.3h1v1h-1zM330.2 124.4h1v1h-1zM323.9 118.0h1v1h-1zM325.6 112.5h1v1h-1zM331.8 109.4h1v1h-1zM324.2 118.5h1v1h-1zM324.1 115.8h1v1h-1zM327.8 110.8h1v1h-1zM324.5 119.5h1v1h-1zM331.5 124.5h1v1h-1zM342.0 116.8h1v1h-1zM330.9 109.6h1v1h-1zM334.9 109.6h1v1h-1zM327.8 110.8h1v1h-1zM336.9 123.8h1v1h-1zM326.4 122.1h1v1h-1zM327.6 123.0h1v1h-1zM341.9 116.3h1v1h-1zM333.6 124.4h1v1h-1zM328.1 123.1h1v1h-1zM341.2 119.4h1v1h-1zM339.5 112.1h1v1h-1zM326.9 122.2h1v1h-1zM329.7 110.2h1v1h-1zM326.1 112.5h1v1h-1zM328.9 123.4h1v1h-1zM324.5 116.0h1v1h-1zM328.1 123.0h1v1h-1zM339.7 112.5h1v1h-1zM325.6 120.6h1v1h-1zM340.6 120.2h1v1h-1zM340.9 119.6h1v1h-1zM327.7 122.6h1v1h-1zM330.5 110.1h1v1h-1z" fill="#5892ea"/>
<path d="M325.2 114.2h1v1h-1zM341.4 117.9h1v1h-1zM327.7 122.6h1v1h-1zM332.8 124.1h1v1h-1zM324.6 117.0h1v1h-1zM325.4 114.1h1v1h-1zM325.0 119.0h1v1h-1zM338.7 111.9h1v1h-1zM334.7 110.1h1v1h-1zM325.8 113.5h1v1h-1zM334.7 110.1h1v1h-1zM329.3 110.8h1v1h-1zM330.8 110.3h1v1h-1zM337.4 111.1h1v1h-1zM325.2 119.3h1v1h-1zM327.2 121.9h1v1h-1zM325.8 113.8h1v1h-1zM334.5 123.8h1v1h-1zM327.4 122.0h1v1h-1zM339.8 113.1h1v1h-1zM341.1 116.2h1v1h-1zM338.8 121.9h1v1h-1zM338.6 112.1h1v1h-1zM325.2 115.2h1v1h-1zM330.6 110.5h1v1h-1zM329.2 123.0h1v1h-1zM336.2 123.3h1v1h-1zM330.1 123.4h1v1h-1zM330.4 123.4h1v1h-1zM326.5 120.9h1v1h-1zM333.3 110.2h1v1h-1zM332.1 123.7h1v1h-1zM338.5 121.9h1v1h-1zM330.8 123.4h1v1h-1zM335.2 123.4h1v1h-1zM340.2 119.8h1v1h-1zM328.3 111.6h1v1h-1zM340.0 113.9h1v1h-1zM326.8 121.1h1v1h-1zM325.1 116.9h1v1h-1zM332.9 110.4h1v1h-1zM325.8 114.4h1v1h-1zM332.4 110.5h1v1h-1zM325.6 119.0h1v1h-1zM338.6 121.5h1v1h-1zM333.8 123.5h1v1h-1zM327.1 121.2h1v1h-1zM326.8 120.9h1v1h-1zM327.4 121.4h1v1h-1zM328.5 111.8h1v1h-1zM340.6 116.0h1v1h-1zM325.4 116.9h1v1h-1zM325.6 115.4h1v1h-1zM340.6 116.5h1v1h-1zM333.6 110.6h1v1h-1zM333.7 110.6h1v1h-1zM332.1 110.6h1v1h-1zM339.4 120.4h1v1h-1zM340.6 117.7h1v1h-1zM334.1 123.3h1v1h-1zM333.4 110.6h1v1h-1zM338.9 113.0h1v1h-1zM327.5 121.4h1v1h-1zM337.1 122.3h1v1h-1zM334.0 123.3h1v1h-1zM331.7 123.2h1v1h-1zM328.8 122.2h1v1h-1zM338.8 120.9h1v1h-1zM327.7 121.4h1v1h-1zM340.4 117.8h1v1h-1zM338.2 121.4h1v1h-1zM337.8 112.2h1v1h-1zM338.3 112.7h1v1h-1zM334.9 111.0h1v1h-1zM334.7 123.1h1v1h-1zM338.5 112.9h1v1h-1zM331.3 111.0h1v1h-1z" fill="#50afe3"/>
<path d="M325.8 116.4h1v1h-1zM340.1 115.5h1v1h-1zM332.4 110.9h1v1h-1zM336.4 122.4h1v1h-1zM338.8 120.7h1v1h-1zM333.8 123.1h1v1h-1zM330.1 122.6h1v1h-1zM331.2 122.9h1v1h-1zM327.1 120.5h1v1h-1zM325.8 116.6h1v1h-1zM335.0 122.8h1v1h-1zM326.0 118.3h1v1h-1zM327.2 113.5h1v1h-1zM326.5 114.5h1v1h-1zM335.9 111.5h1v1h-1zM327.7 121.0h1v1h-1zM335.0 122.8h1v1h-1zM325.9 116.8h1v1h-1zM330.4 122.6h1v1h-1zM336.7 111.9h1v1h-1zM328.4 121.6h1v1h-1zM326.2 118.4h1v1h-1zM339.6 115.0h1v1h-1zM329.3 122.0h1v1h-1zM328.1 112.8h1v1h-1zM339.4 119.3h1v1h-1zM337.8 112.8h1v1h-1zM326.1 116.8h1v1h-1zM329.6 111.9h1v1h-1zM336.5 122.0h1v1h-1zM339.8 116.7h1v1h-1zM334.0 122.7h1v1h-1zM338.2 113.3h1v1h-1zM339.1 119.6h1v1h-1zM335.4 122.4h1v1h-1zM334.9 111.5h1v1h-1zM339.2 114.8h1v1h-1zM336.1 122.1h1v1h-1zM327.7 120.6h1v1h-1zM336.3 122.0h1v1h-1zM339.1 119.4h1v1h-1zM339.6 118.1h1v1h-1zM327.1 119.7h1v1h-1zM326.3 117.1h1v1h-1zM336.6 121.7h1v1h-1zM336.2 112.1h1v1h-1zM339.5 118.1h1v1h-1zM327.5 113.9h1v1h-1zM328.4 121.0h1v1h-1zM327.3 114.3h1v1h-1zM333.4 122.5h1v1h-1zM327.1 119.3h1v1h-1zM328.8 121.2h1v1h-1zM329.0 112.7h1v1h-1zM337.2 121.2h1v1h-1zM333.3 122.5h1v1h-1zM328.8 112.8h1v1h-1zM336.7 121.4h1v1h-1zM329.1 112.8h1v1h-1zM328.0 120.4h1v1h-1zM332.2 111.7h1v1h-1zM326.7 116.9h1v1h-1zM332.1 111.7h1v1h-1zM326.9 115.7h1v1h-1zM328.9 113.0h1v1h-1zM339.3 116.9h1v1h-1zM331.8 111.8h1v1h-1zM338.9 118.6h1v1h-1z" fill="#45c8d7"/>
<path d="M334.5 112.0h1v1h-1zM336.0 112.5h1v1h-1zM338.5 114.7h1v1h-1zM333.0 122.2h1v1h-1zM327.0 116.4h1v1h-1zM331.8 112.0h1v1h-1zM328.2 120.1h1v1h-1zM336.3 112.7h1v1h-1zM332.4 122.0h1v1h-1zM327.0 117.0h1v1h-1zM332.9 112.0h1v1h-1zM330.9 121.7h1v1h-1zM338.7 118.4h1v1h-1zM327.8 114.6h1v1h-1zM336.8 113.3h1v1h-1zM336.3 121.0h1v1h-1zM334.3 121.8h1v1h-1zM330.0 112.9h1v1h-1zM327.4 116.1h1v1h-1zM333.9 121.8h1v1h-1zM327.6 115.7h1v1h-1zM328.2 119.5h1v1h-1zM327.4 116.4h1v1h-1zM338.5 116.2h1v1h-1zM335.4 112.7h1v1h-1zM331.4 121.5h1v1h-1zM337.9 114.8h1v1h-1zM338.4 116.2h1v1h-1zM331.0 121.3h1v1h-1zM330.2 113.0h1v1h-1zM337.2 114.1h1v1h-1zM335.6 121.0h1v1h-1zM327.8 118.1h1v1h-1zM337.8 119.1h1v1h-1zM331.5 121.4h1v1h-1zM327.6 116.9h1v1h-1zM335.2 121.1h1v1h-1zM330.7 121.0h1v1h-1zM329.0 114.1h1v1h-1zM338.1 115.9h1v1h-1zM331.9 121.3h1v1h-1zM335.5 120.9h1v1h-1zM331.1 112.9h1v1h-1zM327.9 118.1h1v1h-1zM329.2 120.0h1v1h-1zM335.1 113.0h1v1h-1zM336.8 114.1h1v1h-1zM327.8 117.0h1v1h-1zM332.6 112.6h1v1h-1zM336.9 114.2h1v1h-1zM335.2 120.9h1v1h-1zM333.6 121.2h1v1h-1zM331.4 113.0h1v1h-1zM330.6 113.3h1v1h-1zM337.2 119.2h1v1h-1zM336.4 120.1h1v1h-1z" fill="#40caab"/>
<path d="M328.8 119.2h1v1h-1zM328.8 114.8h1v1h-1zM329.1 119.5h1v1h-1zM328.3 118.0h1v1h-1zM333.1 112.9h1v1h-1zM329.2 119.4h1v1h-1zM337.6 118.1h1v1h-1zM336.5 119.7h1v1h-1zM328.4 116.1h1v1h-1zM330.3 120.2h1v1h-1zM330.1 113.9h1v1h-1zM334.0 113.2h1v1h-1zM334.0 120.8h1v1h-1zM329.1 114.9h1v1h-1zM329.1 118.9h1v1h-1zM336.4 119.6h1v1h-1zM328.5 116.5h1v1h-1zM337.4 116.4h1v1h-1zM331.3 120.5h1v1h-1zM332.7 120.8h1v1h-1zM334.6 120.5h1v1h-1zM336.6 114.8h1v1h-1zM333.8 113.3h1v1h-1zM331.6 113.5h1v1h-1zM331.9 120.6h1v1h-1zM329.3 118.9h1v1h-1zM332.7 113.4h1v1h-1zM337.1 115.8h1v1h-1zM335.5 114.1h1v1h-1zM337.2 116.2h1v1h-1zM331.0 113.8h1v1h-1zM330.2 114.3h1v1h-1zM331.0 120.2h1v1h-1zM329.7 114.8h1v1h-1zM334.5 120.3h1v1h-1zM336.8 118.4h1v1h-1zM335.8 114.4h1v1h-1zM337.0 117.9h1v1h-1zM331.5 120.2h1v1h-1zM329.9 114.7h1v1h-1zM336.4 119.0h1v1h-1zM336.6 118.6h1v1h-1zM330.9 119.9h1v1h-1zM330.2 119.4h1v1h-1zM332.5 113.7h1v1h-1zM333.5 120.3h1v1h-1zM335.2 114.3h1v1h-1zM334.1 120.2h1v1h-1zM336.6 118.3h1v1h-1zM332.5 113.8h1v1h-1zM331.6 114.0h1v1h-1zM330.2 114.8h1v1h-1zM336.2 118.7h1v1h-1zM329.3 116.1h1v1h-1zM335.8 119.2h1v1h-1zM329.6 118.2h1v1h-1z" fill="#3ccd7f"/>
<path d="M331.3 119.7h1v1h-1zM334.7 119.7h1v1h-1zM330.3 114.9h1v1h-1zM335.1 114.6h1v1h-1zM336.5 116.9h1v1h-1zM334.1 114.2h1v1h-1zM336.2 118.1h1v1h-1zM336.3 117.8h1v1h-1zM330.1 115.5h1v1h-1zM330.7 114.9h1v1h-1zM330.9 119.3h1v1h-1zM329.9 118.1h1v1h-1zM335.2 119.2h1v1h-1zM330.6 118.9h1v1h-1zM330.9 119.1h1v1h-1zM335.2 115.0h1v1h-1zM335.6 118.6h1v1h-1zM333.3 119.7h1v1h-1zM333.6 119.5h1v1h-1zM333.0 119.6h1v1h-1zM335.5 115.7h1v1h-1zM335.8 117.7h1v1h-1zM330.1 117.3h1v1h-1zM333.4 114.5h1v1h-1zM331.0 118.8h1v1h-1zM331.9 114.7h1v1h-1zM332.2 119.3h1v1h-1zM331.4 118.9h1v1h-1zM330.3 116.6h1v1h-1zM334.0 119.2h1v1h-1zM335.6 116.3h1v1h-1zM335.3 118.1h1v1h-1zM330.8 118.3h1v1h-1zM330.5 116.3h1v1h-1zM330.6 116.1h1v1h-1zM331.0 118.4h1v1h-1zM335.5 117.5h1v1h-1zM334.7 118.6h1v1h-1zM331.7 118.8h1v1h-1zM334.7 118.5h1v1h-1zM335.4 117.3h1v1h-1zM332.9 115.0h1v1h-1zM333.3 119.0h1v1h-1zM335.1 117.8h1v1h-1zM334.0 115.3h1v1h-1zM335.2 117.2h1v1h-1zM331.3 118.2h1v1h-1zM331.4 115.7h1v1h-1zM330.8 116.9h1v1h-1zM331.2 116.1h1v1h-1zM334.6 118.2h1v1h-1zM331.1 117.5h1v1h-1zM331.0 116.9h1v1h-1zM331.2 117.4h1v1h-1zM332.1 118.4h1v1h-1zM334.2 115.8h1v1h-1z" fill="#47cf5b"/>
<path d="M332.7 115.5h1v1h-1zM331.8 115.9h1v1h-1zM334.0 115.8h1v1h-1zM333.7 115.7h1v1h-1zM331.7 116.6h1v1h-1zM332.2 117.7h1v1h-1zM334.2 117.2h1v1h-1zM332.2 116.4h1v1h-1zM332.5 117.8h1v1h-1zM333.2 117.6h1v1h-1zM333.3 117.2h1v1h-1z" fill="#5cd33a"/>
<line x1="332.70" y1="4.40" x2="332.70" y2="144.40" stroke="#666" stroke-width="1.1" />
<line x1="305.80" y1="112.70" x2="445.80" y2="112.70" stroke="#666" stroke-width="1.1" />
<text x="308.60" y="12.00" font-size="6.6" text-anchor="start" font-weight="normal" fill="#555" >Q5</text>
<text x="308.60" y="20.70" font-size="6.6" text-anchor="start" font-weight="normal" fill="#555" >6.13</text>
<text x="426.60" y="12.00" font-size="6.6" text-anchor="start" font-weight="normal" fill="#555" >Q6</text>
<text x="426.60" y="20.70" font-size="6.6" text-anchor="start" font-weight="normal" fill="#555" >18.95</text>
<text x="308.60" y="134.00" font-size="6.6" text-anchor="start" font-weight="normal" fill="#555" >Q8</text>
<text x="308.60" y="142.30" font-size="6.6" text-anchor="start" font-weight="normal" fill="#555" >44.60</text>
<text x="427.00" y="133.50" font-size="6.6" text-anchor="start" font-weight="normal" fill="#555" >Q7</text>
<text x="427.00" y="142.40" font-size="6.6" text-anchor="start" font-weight="normal" fill="#555" >30.31</text>
<text x="205.00" y="200.80" font-size="13.1" text-anchor="start" font-weight="bold" fill="#111" >Constitutive pY-Stat3</text>
<line x1="69.50" y1="283.24" x2="517.50" y2="283.24" stroke="#a8a8a8" stroke-width="1.3" />
<line x1="69.50" y1="264.08" x2="517.50" y2="264.08" stroke="#a8a8a8" stroke-width="1.3" />
<line x1="69.50" y1="244.92" x2="517.50" y2="244.92" stroke="#a8a8a8" stroke-width="1.3" />
<line x1="69.50" y1="225.76" x2="517.50" y2="225.76" stroke="#a8a8a8" stroke-width="1.3" />
<rect x="69.5" y="206.6" width="448.0" height="95.79999999999998" fill="none" stroke="#999" stroke-width="1.4"/>
<path d="M74.13 300.78h0.58V302.4h-0.58zM77.17 298.27h0.58V302.4h-0.58zM80.20 298.09h0.58V302.4h-0.58zM83.23 297.92h0.58V302.4h-0.58zM86.27 297.74h0.58V302.4h-0.58zM89.30 297.57h0.58V302.4h-0.58zM92.33 297.17h0.58V302.4h-0.58zM95.36 295.26h0.58V302.4h-0.58zM98.40 293.59h0.58V302.4h-0.58zM101.43 293.21h0.58V302.4h-0.58zM104.46 293.10h0.58V302.4h-0.58zM107.50 293.00h0.58V302.4h-0.58zM110.53 292.89h0.58V302.4h-0.58zM113.56 292.78h0.58V302.4h-0.58zM116.60 292.67h0.58V302.4h-0.58zM119.63 292.56h0.58V302.4h-0.58zM122.66 292.46h0.58V302.4h-0.58zM125.69 292.35h0.58V302.4h-0.58zM128.73 291.54h0.58V302.4h-0.58zM131.76 290.64h0.58V302.4h-0.58zM134.79 289.67h0.58V302.4h-0.58zM137.83 288.94h0.58V302.4h-0.58zM140.86 288.78h0.58V302.4h-0.58zM143.89 288.62h0.58V302.4h-0.58zM146.93 288.46h0.58V302.4h-0.58zM149.96 288.29h0.58V302.4h-0.58zM152.99 288.13h0.58V302.4h-0.58zM156.02 287.73h0.58V302.4h-0.58zM159.06 287.00h0.58V302.4h-0.58zM162.09 286.65h0.58V302.4h-0.58zM165.12 286.30h0.58V302.4h-0.58zM168.16 285.95h0.58V302.4h-0.58zM171.19 285.61h0.58V302.4h-0.58zM174.22 285.28h0.58V302.4h-0.58zM177.26 284.96h0.58V302.4h-0.58zM180.29 284.62h0.58V302.4h-0.58zM183.32 284.10h0.58V302.4h-0.58zM186.35 283.59h0.58V302.4h-0.58zM189.39 282.95h0.58V302.4h-0.58zM192.42 282.02h0.58V302.4h-0.58zM195.45 281.24h0.58V302.4h-0.58zM198.49 280.92h0.58V302.4h-0.58zM201.52 280.62h0.58V302.4h-0.58zM204.55 280.47h0.58V302.4h-0.58zM207.59 280.31h0.58V302.4h-0.58zM210.62 280.16h0.58V302.4h-0.58zM213.65 280.00h0.58V302.4h-0.58zM216.68 279.75h0.58V302.4h-0.58zM219.72 279.20h0.58V302.4h-0.58zM222.75 278.65h0.58V302.4h-0.58zM225.78 278.09h0.58V302.4h-0.58zM228.82 277.58h0.58V302.4h-0.58zM231.85 277.07h0.58V302.4h-0.58zM234.88 276.57h0.58V302.4h-0.58zM237.92 276.06h0.58V302.4h-0.58zM240.95 275.63h0.58V302.4h-0.58zM243.98 275.20h0.58V302.4h-0.58zM247.01 274.76h0.58V302.4h-0.58zM250.05 274.33h0.58V302.4h-0.58zM253.08 273.90h0.58V302.4h-0.58zM256.11 273.26h0.58V302.4h-0.58zM259.15 272.58h0.58V302.4h-0.58zM262.18 271.91h0.58V302.4h-0.58zM265.21 271.23h0.58V302.4h-0.58zM268.25 270.58h0.58V302.4h-0.58zM271.28 269.93h0.58V302.4h-0.58zM274.31 269.28h0.58V302.4h-0.58zM277.34 268.64h0.58V302.4h-0.58zM280.38 267.99h0.58V302.4h-0.58zM283.41 267.34h0.58V302.4h-0.58zM286.44 267.01h0.58V302.4h-0.58zM289.48 266.69h0.58V302.4h-0.58zM292.51 266.36h0.58V302.4h-0.58zM295.54 266.04h0.58V302.4h-0.58zM298.58 265.66h0.58V302.4h-0.58zM301.61 265.27h0.58V302.4h-0.58zM304.64 264.88h0.58V302.4h-0.58zM307.67 264.50h0.58V302.4h-0.58zM310.71 264.11h0.58V302.4h-0.58zM313.74 263.63h0.58V302.4h-0.58zM316.77 263.15h0.58V302.4h-0.58zM319.81 262.66h0.58V302.4h-0.58zM322.84 261.66h0.58V302.4h-0.58zM325.87 261.56h0.58V302.4h-0.58zM328.91 261.46h0.58V302.4h-0.58zM331.94 261.37h0.58V302.4h-0.58zM334.97 261.27h0.58V302.4h-0.58zM338.00 261.17h0.58V302.4h-0.58zM341.04 261.07h0.58V302.4h-0.58zM344.07 260.98h0.58V302.4h-0.58zM347.10 260.54h0.58V302.4h-0.58zM350.14 259.55h0.58V302.4h-0.58zM353.17 258.95h0.58V302.4h-0.58zM356.20 258.50h0.58V302.4h-0.58zM359.24 258.04h0.58V302.4h-0.58zM362.27 257.58h0.58V302.4h-0.58zM365.30 257.07h0.58V302.4h-0.58zM368.33 256.15h0.58V302.4h-0.58zM371.37 255.22h0.58V302.4h-0.58zM374.40 254.48h0.58V302.4h-0.58zM377.43 254.10h0.58V302.4h-0.58zM380.47 253.72h0.58V302.4h-0.58zM383.50 253.34h0.58V302.4h-0.58zM386.53 253.05h0.58V302.4h-0.58zM389.57 252.75h0.58V302.4h-0.58zM392.60 252.45h0.58V302.4h-0.58zM395.63 252.15h0.58V302.4h-0.58zM398.66 251.85h0.58V302.4h-0.58zM401.70 251.46h0.58V302.4h-0.58zM404.73 250.79h0.58V302.4h-0.58zM407.76 250.13h0.58V302.4h-0.58zM410.80 249.47h0.58V302.4h-0.58zM413.83 248.80h0.58V302.4h-0.58zM416.86 248.14h0.58V302.4h-0.58zM419.90 247.69h0.58V302.4h-0.58zM422.93 247.49h0.58V302.4h-0.58zM425.96 247.28h0.58V302.4h-0.58zM428.99 247.07h0.58V302.4h-0.58zM432.03 246.62h0.58V302.4h-0.58zM435.06 246.10h0.58V302.4h-0.58zM438.09 245.26h0.58V302.4h-0.58zM441.13 244.19h0.58V302.4h-0.58zM444.16 243.18h0.58V302.4h-0.58zM447.19 242.95h0.58V302.4h-0.58zM450.23 242.73h0.58V302.4h-0.58zM453.26 242.50h0.58V302.4h-0.58zM456.29 242.28h0.58V302.4h-0.58zM459.32 242.05h0.58V302.4h-0.58zM462.36 241.67h0.58V302.4h-0.58zM465.39 241.29h0.58V302.4h-0.58zM468.42 240.52h0.58V302.4h-0.58zM471.46 239.35h0.58V302.4h-0.58zM474.49 237.13h0.58V302.4h-0.58zM477.52 235.00h0.58V302.4h-0.58zM480.56 233.67h0.58V302.4h-0.58zM483.59 232.50h0.58V302.4h-0.58zM486.62 231.57h0.58V302.4h-0.58zM489.65 230.64h0.58V302.4h-0.58zM492.69 229.89h0.58V302.4h-0.58zM495.72 229.16h0.58V302.4h-0.58zM498.75 228.38h0.58V302.4h-0.58zM501.79 227.42h0.58V302.4h-0.58zM504.82 226.46h0.58V302.4h-0.58zM507.85 225.40h0.58V302.4h-0.58zM510.89 224.31h0.58V302.4h-0.58zM513.92 222.98h0.58V302.4h-0.58zM516.95 213.78h0.58V302.4h-0.58z" fill="#fff"/>
<path d="M73.28 300.78h0.85V302.4h-0.85zM76.32 298.27h0.85V302.4h-0.85zM79.35 298.09h0.85V302.4h-0.85zM82.38 297.92h0.85V302.4h-0.85zM85.42 297.74h0.85V302.4h-0.85zM88.45 297.57h0.85V302.4h-0.85zM91.48 297.17h0.85V302.4h-0.85zM97.55 293.59h0.85V302.4h-0.85zM100.58 293.21h0.85V302.4h-0.85zM103.61 293.10h0.85V302.4h-0.85zM106.65 293.00h0.85V302.4h-0.85zM109.68 292.89h0.85V302.4h-0.85zM112.71 292.78h0.85V302.4h-0.85zM115.75 292.67h0.85V302.4h-0.85zM118.78 292.56h0.85V302.4h-0.85zM121.81 292.46h0.85V302.4h-0.85zM124.84 292.35h0.85V302.4h-0.85zM127.88 291.54h0.85V302.4h-0.85zM130.91 290.64h0.85V302.4h-0.85zM133.94 289.67h0.85V302.4h-0.85zM136.98 288.94h0.85V302.4h-0.85zM140.01 288.78h0.85V302.4h-0.85zM143.04 288.62h0.85V302.4h-0.85zM146.08 288.46h0.85V302.4h-0.85zM149.11 288.29h0.85V302.4h-0.85zM152.14 288.13h0.85V302.4h-0.85zM158.21 287.00h0.85V302.4h-0.85zM161.24 286.65h0.85V302.4h-0.85zM164.27 286.30h0.85V302.4h-0.85zM167.31 285.95h0.85V302.4h-0.85zM170.34 285.61h0.85V302.4h-0.85zM173.37 285.28h0.85V302.4h-0.85zM176.41 284.96h0.85V302.4h-0.85zM182.47 284.10h0.85V302.4h-0.85zM185.50 283.59h0.85V302.4h-0.85zM188.54 282.95h0.85V302.4h-0.85zM191.57 282.02h0.85V302.4h-0.85zM194.60 281.24h0.85V302.4h-0.85zM197.64 280.92h0.85V302.4h-0.85zM200.67 280.62h0.85V302.4h-0.85zM203.70 280.47h0.85V302.4h-0.85zM206.74 280.31h0.85V302.4h-0.85zM209.77 280.16h0.85V302.4h-0.85zM212.80 280.00h0.85V302.4h-0.85zM215.83 279.75h0.85V302.4h-0.85zM218.87 279.20h0.85V302.4h-0.85zM221.90 278.65h0.85V302.4h-0.85zM224.93 278.09h0.85V302.4h-0.85zM227.97 277.58h0.85V302.4h-0.85zM231.00 277.07h0.85V302.4h-0.85zM234.03 276.57h0.85V302.4h-0.85zM240.10 275.63h0.85V302.4h-0.85zM243.13 275.20h0.85V302.4h-0.85zM246.16 274.76h0.85V302.4h-0.85zM249.20 274.33h0.85V302.4h-0.85zM252.23 273.90h0.85V302.4h-0.85zM255.26 273.26h0.85V302.4h-0.85zM258.30 272.58h0.85V302.4h-0.85zM261.33 271.91h0.85V302.4h-0.85zM264.36 271.23h0.85V302.4h-0.85zM267.40 270.58h0.85V302.4h-0.85zM270.43 269.93h0.85V302.4h-0.85zM273.46 269.28h0.85V302.4h-0.85zM276.49 268.64h0.85V302.4h-0.85zM279.53 267.99h0.85V302.4h-0.85zM282.56 267.34h0.85V302.4h-0.85zM285.59 267.01h0.85V302.4h-0.85zM288.63 266.69h0.85V302.4h-0.85zM291.66 266.36h0.85V302.4h-0.85zM294.69 266.04h0.85V302.4h-0.85zM297.73 265.66h0.85V302.4h-0.85zM300.76 265.27h0.85V302.4h-0.85zM303.79 264.88h0.85V302.4h-0.85zM306.82 264.50h0.85V302.4h-0.85zM309.86 264.11h0.85V302.4h-0.85zM312.89 263.63h0.85V302.4h-0.85zM321.99 261.66h0.85V302.4h-0.85zM325.02 261.56h0.85V302.4h-0.85zM331.09 261.37h0.85V302.4h-0.85zM334.12 261.27h0.85V302.4h-0.85zM337.15 261.17h0.85V302.4h-0.85zM340.19 261.07h0.85V302.4h-0.85zM343.22 260.98h0.85V302.4h-0.85zM346.25 260.54h0.85V302.4h-0.85zM349.29 259.55h0.85V302.4h-0.85zM352.32 258.95h0.85V302.4h-0.85zM355.35 258.50h0.85V302.4h-0.85zM358.39 258.04h0.85V302.4h-0.85zM361.42 257.58h0.85V302.4h-0.85zM367.48 256.15h0.85V302.4h-0.85zM370.52 255.22h0.85V302.4h-0.85zM373.55 254.48h0.85V302.4h-0.85zM376.58 254.10h0.85V302.4h-0.85zM379.62 253.72h0.85V302.4h-0.85zM385.68 253.05h0.85V302.4h-0.85zM388.72 252.75h0.85V302.4h-0.85zM391.75 252.45h0.85V302.4h-0.85zM394.78 252.15h0.85V302.4h-0.85zM397.81 251.85h0.85V302.4h-0.85zM400.85 251.46h0.85V302.4h-0.85zM403.88 250.79h0.85V302.4h-0.85zM406.91 250.13h0.85V302.4h-0.85zM409.95 249.47h0.85V302.4h-0.85zM412.98 248.80h0.85V302.4h-0.85zM416.01 248.14h0.85V302.4h-0.85zM419.05 247.69h0.85V302.4h-0.85zM422.08 247.49h0.85V302.4h-0.85zM425.11 247.28h0.85V302.4h-0.85zM428.14 247.07h0.85V302.4h-0.85zM431.18 246.62h0.85V302.4h-0.85zM434.21 246.10h0.85V302.4h-0.85zM437.24 245.26h0.85V302.4h-0.85zM440.28 244.19h0.85V302.4h-0.85zM443.31 243.18h0.85V302.4h-0.85zM446.34 242.95h0.85V302.4h-0.85zM449.38 242.73h0.85V302.4h-0.85zM452.41 242.50h0.85V302.4h-0.85zM455.44 242.28h0.85V302.4h-0.85zM458.47 242.05h0.85V302.4h-0.85zM461.51 241.67h0.85V302.4h-0.85zM464.54 241.29h0.85V302.4h-0.85zM467.57 240.52h0.85V302.4h-0.85zM470.61 239.35h0.85V302.4h-0.85zM473.64 237.13h0.85V302.4h-0.85zM476.67 235.00h0.85V302.4h-0.85zM479.71 233.67h0.85V302.4h-0.85zM482.74 232.50h0.85V302.4h-0.85zM485.77 231.57h0.85V302.4h-0.85zM488.80 230.64h0.85V302.4h-0.85zM491.84 229.89h0.85V302.4h-0.85zM494.87 229.16h0.85V302.4h-0.85zM497.90 228.38h0.85V302.4h-0.85zM500.94 227.42h0.85V302.4h-0.85zM503.97 226.46h0.85V302.4h-0.85zM507.00 225.40h0.85V302.4h-0.85zM510.04 224.31h0.85V302.4h-0.85zM513.07 222.98h0.85V302.4h-0.85zM516.10 213.78h0.85V302.4h-0.85z" fill="#a0a0c8"/>
<path d="M93.81 295.26h1.55V302.4h-1.55z" fill="#7a2030"/>
<path d="M154.47 287.73h1.55V302.4h-1.55z" fill="#8a6070"/>
<path d="M178.74 284.62h1.55V302.4h-1.55zM236.37 276.06h1.55V302.4h-1.55zM318.26 262.66h1.55V302.4h-1.55zM363.75 257.07h1.55V302.4h-1.55zM381.95 253.34h1.55V302.4h-1.55z" fill="#962430"/>
<path d="M315.22 263.15h1.55V302.4h-1.55z" fill="#8a5868"/>
<path d="M327.36 261.46h1.55V302.4h-1.55z" fill="#6a2830"/>
<path d="M71.68 300.78h1.6V302.4h-1.6zM71.68 300.78h2.45v0.9h-2.45zM71.68 301.60h2.45v0.8h-2.45zM74.72 298.27h1.6V302.4h-1.6zM74.72 298.27h2.45v0.9h-2.45zM74.72 301.60h2.45v0.8h-2.45zM77.75 298.09h1.6V302.4h-1.6zM77.75 298.09h2.45v0.9h-2.45zM77.75 301.60h2.45v0.8h-2.45zM80.78 297.92h1.6V302.4h-1.6zM80.78 297.92h2.45v0.9h-2.45zM80.78 301.60h2.45v0.8h-2.45zM83.82 297.74h1.6V302.4h-1.6zM83.82 297.74h2.45v0.9h-2.45zM83.82 301.60h2.45v0.8h-2.45zM86.85 297.57h1.6V302.4h-1.6zM86.85 297.57h2.45v0.9h-2.45zM86.85 301.60h2.45v0.8h-2.45zM89.88 297.17h1.6V302.4h-1.6zM89.88 297.17h2.45v0.9h-2.45zM89.88 301.60h2.45v0.8h-2.45zM92.91 295.26h0.9V302.4h-0.9zM92.91 295.26h2.45v0.9h-2.45zM92.91 301.60h2.45v0.8h-2.45zM95.95 293.59h1.6V302.4h-1.6zM95.95 293.59h2.45v0.9h-2.45zM95.95 301.60h2.45v0.8h-2.45zM98.98 293.21h1.6V302.4h-1.6zM98.98 293.21h2.45v0.9h-2.45zM98.98 301.60h2.45v0.8h-2.45zM102.01 293.10h1.6V302.4h-1.6zM102.01 293.10h2.45v0.9h-2.45zM102.01 301.60h2.45v0.8h-2.45zM105.05 293.00h1.6V302.4h-1.6zM105.05 293.00h2.45v0.9h-2.45zM105.05 301.60h2.45v0.8h-2.45zM108.08 292.89h1.6V302.4h-1.6zM108.08 292.89h2.45v0.9h-2.45zM108.08 301.60h2.45v0.8h-2.45zM111.11 292.78h1.6V302.4h-1.6zM111.11 292.78h2.45v0.9h-2.45zM111.11 301.60h2.45v0.8h-2.45zM114.15 292.67h1.6V302.4h-1.6zM114.15 292.67h2.45v0.9h-2.45zM114.15 301.60h2.45v0.8h-2.45zM117.18 292.56h1.6V302.4h-1.6zM117.18 292.56h2.45v0.9h-2.45zM117.18 301.60h2.45v0.8h-2.45zM120.21 292.46h1.6V302.4h-1.6zM120.21 292.46h2.45v0.9h-2.45zM120.21 301.60h2.45v0.8h-2.45zM123.24 292.35h1.6V302.4h-1.6zM123.24 292.35h2.45v0.9h-2.45zM123.24 301.60h2.45v0.8h-2.45zM126.28 291.54h1.6V302.4h-1.6zM126.28 291.54h2.45v0.9h-2.45zM126.28 301.60h2.45v0.8h-2.45zM129.31 290.64h1.6V302.4h-1.6zM129.31 290.64h2.45v0.9h-2.45zM129.31 301.60h2.45v0.8h-2.45zM132.34 289.67h1.6V302.4h-1.6zM132.34 289.67h2.45v0.9h-2.45zM132.34 301.60h2.45v0.8h-2.45zM135.38 288.94h1.6V302.4h-1.6zM135.38 288.94h2.45v0.9h-2.45zM135.38 301.60h2.45v0.8h-2.45zM138.41 288.78h1.6V302.4h-1.6zM138.41 288.78h2.45v0.9h-2.45zM138.41 301.60h2.45v0.8h-2.45zM141.44 288.62h1.6V302.4h-1.6zM141.44 288.62h2.45v0.9h-2.45zM141.44 301.60h2.45v0.8h-2.45zM144.48 288.46h1.6V302.4h-1.6zM144.48 288.46h2.45v0.9h-2.45zM144.48 301.60h2.45v0.8h-2.45zM147.51 288.29h1.6V302.4h-1.6zM147.51 288.29h2.45v0.9h-2.45zM147.51 301.60h2.45v0.8h-2.45zM150.54 288.13h1.6V302.4h-1.6zM150.54 288.13h2.45v0.9h-2.45zM150.54 301.60h2.45v0.8h-2.45zM153.57 287.73h0.9V302.4h-0.9zM153.57 287.73h2.45v0.9h-2.45zM153.57 301.60h2.45v0.8h-2.45zM156.61 287.00h1.6V302.4h-1.6zM156.61 287.00h2.45v0.9h-2.45zM156.61 301.60h2.45v0.8h-2.45zM159.64 286.65h1.6V302.4h-1.6zM159.64 286.65h2.45v0.9h-2.45zM159.64 301.60h2.45v0.8h-2.45zM162.67 286.30h1.6V302.4h-1.6zM162.67 286.30h2.45v0.9h-2.45zM162.67 301.60h2.45v0.8h-2.45zM165.71 285.95h1.6V302.4h-1.6zM165.71 285.95h2.45v0.9h-2.45zM165.71 301.60h2.45v0.8h-2.45zM168.74 285.61h1.6V302.4h-1.6zM168.74 285.61h2.45v0.9h-2.45zM168.74 301.60h2.45v0.8h-2.45zM171.77 285.28h1.6V302.4h-1.6zM171.77 285.28h2.45v0.9h-2.45zM171.77 301.60h2.45v0.8h-2.45zM174.81 284.96h1.6V302.4h-1.6zM174.81 284.96h2.45v0.9h-2.45zM174.81 301.60h2.45v0.8h-2.45zM177.84 284.62h0.9V302.4h-0.9zM177.84 284.62h2.45v0.9h-2.45zM177.84 301.60h2.45v0.8h-2.45zM180.87 284.10h1.6V302.4h-1.6zM180.87 284.10h2.45v0.9h-2.45zM180.87 301.60h2.45v0.8h-2.45zM183.90 283.59h1.6V302.4h-1.6zM183.90 283.59h2.45v0.9h-2.45zM183.90 301.60h2.45v0.8h-2.45zM186.94 282.95h1.6V302.4h-1.6zM186.94 282.95h2.45v0.9h-2.45zM186.94 301.60h2.45v0.8h-2.45zM189.97 282.02h1.6V302.4h-1.6zM189.97 282.02h2.45v0.9h-2.45zM189.97 301.60h2.45v0.8h-2.45zM193.00 281.24h1.6V302.4h-1.6zM193.00 281.24h2.45v0.9h-2.45zM193.00 301.60h2.45v0.8h-2.45zM196.04 280.92h1.6V302.4h-1.6zM196.04 280.92h2.45v0.9h-2.45zM196.04 301.60h2.45v0.8h-2.45zM199.07 280.62h1.6V302.4h-1.6zM199.07 280.62h2.45v0.9h-2.45zM199.07 301.60h2.45v0.8h-2.45zM202.10 280.47h1.6V302.4h-1.6zM202.10 280.47h2.45v0.9h-2.45zM202.10 301.60h2.45v0.8h-2.45zM205.14 280.31h1.6V302.4h-1.6zM205.14 280.31h2.45v0.9h-2.45zM205.14 301.60h2.45v0.8h-2.45zM208.17 280.16h1.6V302.4h-1.6zM208.17 280.16h2.45v0.9h-2.45zM208.17 301.60h2.45v0.8h-2.45zM211.20 280.00h1.6V302.4h-1.6zM211.20 280.00h2.45v0.9h-2.45zM211.20 301.60h2.45v0.8h-2.45zM214.23 279.75h1.6V302.4h-1.6zM214.23 279.75h2.45v0.9h-2.45zM214.23 301.60h2.45v0.8h-2.45zM217.27 279.20h1.6V302.4h-1.6zM217.27 279.20h2.45v0.9h-2.45zM217.27 301.60h2.45v0.8h-2.45zM220.30 278.65h1.6V302.4h-1.6zM220.30 278.65h2.45v0.9h-2.45zM220.30 301.60h2.45v0.8h-2.45zM223.33 278.09h1.6V302.4h-1.6zM223.33 278.09h2.45v0.9h-2.45zM223.33 301.60h2.45v0.8h-2.45zM226.37 277.58h1.6V302.4h-1.6zM226.37 277.58h2.45v0.9h-2.45zM226.37 301.60h2.45v0.8h-2.45zM229.40 277.07h1.6V302.4h-1.6zM229.40 277.07h2.45v0.9h-2.45zM229.40 301.60h2.45v0.8h-2.45zM232.43 276.57h1.6V302.4h-1.6zM232.43 276.57h2.45v0.9h-2.45zM232.43 301.60h2.45v0.8h-2.45zM235.47 276.06h0.9V302.4h-0.9zM235.47 276.06h2.45v0.9h-2.45zM235.47 301.60h2.45v0.8h-2.45zM238.50 275.63h1.6V302.4h-1.6zM238.50 275.63h2.45v0.9h-2.45zM238.50 301.60h2.45v0.8h-2.45zM241.53 275.20h1.6V302.4h-1.6zM241.53 275.20h2.45v0.9h-2.45zM241.53 301.60h2.45v0.8h-2.45zM244.56 274.76h1.6V302.4h-1.6zM244.56 274.76h2.45v0.9h-2.45zM244.56 301.60h2.45v0.8h-2.45zM247.60 274.33h1.6V302.4h-1.6zM247.60 274.33h2.45v0.9h-2.45zM247.60 301.60h2.45v0.8h-2.45zM250.63 273.90h1.6V302.4h-1.6zM250.63 273.90h2.45v0.9h-2.45zM250.63 301.60h2.45v0.8h-2.45zM253.66 273.26h1.6V302.4h-1.6zM253.66 273.26h2.45v0.9h-2.45zM253.66 301.60h2.45v0.8h-2.45zM256.70 272.58h1.6V302.4h-1.6zM256.70 272.58h2.45v0.9h-2.45zM256.70 301.60h2.45v0.8h-2.45zM259.73 271.91h1.6V302.4h-1.6zM259.73 271.91h2.45v0.9h-2.45zM259.73 301.60h2.45v0.8h-2.45zM262.76 271.23h1.6V302.4h-1.6zM262.76 271.23h2.45v0.9h-2.45zM262.76 301.60h2.45v0.8h-2.45zM265.80 270.58h1.6V302.4h-1.6zM265.80 270.58h2.45v0.9h-2.45zM265.80 301.60h2.45v0.8h-2.45zM268.83 269.93h1.6V302.4h-1.6zM268.83 269.93h2.45v0.9h-2.45zM268.83 301.60h2.45v0.8h-2.45zM271.86 269.28h1.6V302.4h-1.6zM271.86 269.28h2.45v0.9h-2.45zM271.86 301.60h2.45v0.8h-2.45zM274.89 268.64h1.6V302.4h-1.6zM274.89 268.64h2.45v0.9h-2.45zM274.89 301.60h2.45v0.8h-2.45zM277.93 267.99h1.6V302.4h-1.6zM277.93 267.99h2.45v0.9h-2.45zM277.93 301.60h2.45v0.8h-2.45zM280.96 267.34h1.6V302.4h-1.6zM280.96 267.34h2.45v0.9h-2.45zM280.96 301.60h2.45v0.8h-2.45zM283.99 267.01h1.6V302.4h-1.6zM283.99 267.01h2.45v0.9h-2.45zM283.99 301.60h2.45v0.8h-2.45zM287.03 266.69h1.6V302.4h-1.6zM287.03 266.69h2.45v0.9h-2.45zM287.03 301.60h2.45v0.8h-2.45zM290.06 266.36h1.6V302.4h-1.6zM290.06 266.36h2.45v0.9h-2.45zM290.06 301.60h2.45v0.8h-2.45zM293.09 266.04h1.6V302.4h-1.6zM293.09 266.04h2.45v0.9h-2.45zM293.09 301.60h2.45v0.8h-2.45zM296.13 265.66h1.6V302.4h-1.6zM296.13 265.66h2.45v0.9h-2.45zM296.13 301.60h2.45v0.8h-2.45zM299.16 265.27h1.6V302.4h-1.6zM299.16 265.27h2.45v0.9h-2.45zM299.16 301.60h2.45v0.8h-2.45zM302.19 264.88h1.6V302.4h-1.6zM302.19 264.88h2.45v0.9h-2.45zM302.19 301.60h2.45v0.8h-2.45zM305.22 264.50h1.6V302.4h-1.6zM305.22 264.50h2.45v0.9h-2.45zM305.22 301.60h2.45v0.8h-2.45zM308.26 264.11h1.6V302.4h-1.6zM308.26 264.11h2.45v0.9h-2.45zM308.26 301.60h2.45v0.8h-2.45zM311.29 263.63h1.6V302.4h-1.6zM311.29 263.63h2.45v0.9h-2.45zM311.29 301.60h2.45v0.8h-2.45zM314.32 263.15h0.9V302.4h-0.9zM314.32 263.15h2.45v0.9h-2.45zM314.32 301.60h2.45v0.8h-2.45zM317.36 262.66h0.9V302.4h-0.9zM317.36 262.66h2.45v0.9h-2.45zM317.36 301.60h2.45v0.8h-2.45zM320.39 261.66h1.6V302.4h-1.6zM320.39 261.66h2.45v0.9h-2.45zM320.39 301.60h2.45v0.8h-2.45zM323.42 261.56h1.6V302.4h-1.6zM323.42 261.56h2.45v0.9h-2.45zM323.42 301.60h2.45v0.8h-2.45zM326.46 261.46h0.9V302.4h-0.9zM326.46 261.46h2.45v0.9h-2.45zM326.46 301.60h2.45v0.8h-2.45zM329.49 261.37h1.6V302.4h-1.6zM329.49 261.37h2.45v0.9h-2.45zM329.49 301.60h2.45v0.8h-2.45zM332.52 261.27h1.6V302.4h-1.6zM332.52 261.27h2.45v0.9h-2.45zM332.52 301.60h2.45v0.8h-2.45zM335.55 261.17h1.6V302.4h-1.6zM335.55 261.17h2.45v0.9h-2.45zM335.55 301.60h2.45v0.8h-2.45zM338.59 261.07h1.6V302.4h-1.6zM338.59 261.07h2.45v0.9h-2.45zM338.59 301.60h2.45v0.8h-2.45zM341.62 260.98h1.6V302.4h-1.6zM341.62 260.98h2.45v0.9h-2.45zM341.62 301.60h2.45v0.8h-2.45zM344.65 260.54h1.6V302.4h-1.6zM344.65 260.54h2.45v0.9h-2.45zM344.65 301.60h2.45v0.8h-2.45zM347.69 259.55h1.6V302.4h-1.6zM347.69 259.55h2.45v0.9h-2.45zM347.69 301.60h2.45v0.8h-2.45zM350.72 258.95h1.6V302.4h-1.6zM350.72 258.95h2.45v0.9h-2.45zM350.72 301.60h2.45v0.8h-2.45zM353.75 258.50h1.6V302.4h-1.6zM353.75 258.50h2.45v0.9h-2.45zM353.75 301.60h2.45v0.8h-2.45zM356.79 258.04h1.6V302.4h-1.6zM356.79 258.04h2.45v0.9h-2.45zM356.79 301.60h2.45v0.8h-2.45zM359.82 257.58h1.6V302.4h-1.6zM359.82 257.58h2.45v0.9h-2.45zM359.82 301.60h2.45v0.8h-2.45zM362.85 257.07h0.9V302.4h-0.9zM362.85 257.07h2.45v0.9h-2.45zM362.85 301.60h2.45v0.8h-2.45zM365.88 256.15h1.6V302.4h-1.6zM365.88 256.15h2.45v0.9h-2.45zM365.88 301.60h2.45v0.8h-2.45zM368.92 255.22h1.6V302.4h-1.6zM368.92 255.22h2.45v0.9h-2.45zM368.92 301.60h2.45v0.8h-2.45zM371.95 254.48h1.6V302.4h-1.6zM371.95 254.48h2.45v0.9h-2.45zM371.95 301.60h2.45v0.8h-2.45zM374.98 254.10h1.6V302.4h-1.6zM374.98 254.10h2.45v0.9h-2.45zM374.98 301.60h2.45v0.8h-2.45zM378.02 253.72h1.6V302.4h-1.6zM378.02 253.72h2.45v0.9h-2.45zM378.02 301.60h2.45v0.8h-2.45zM381.05 253.34h0.9V302.4h-0.9zM381.05 253.34h2.45v0.9h-2.45zM381.05 301.60h2.45v0.8h-2.45zM384.08 253.05h1.6V302.4h-1.6zM384.08 253.05h2.45v0.9h-2.45zM384.08 301.60h2.45v0.8h-2.45zM387.12 252.75h1.6V302.4h-1.6zM387.12 252.75h2.45v0.9h-2.45zM387.12 301.60h2.45v0.8h-2.45zM390.15 252.45h1.6V302.4h-1.6zM390.15 252.45h2.45v0.9h-2.45zM390.15 301.60h2.45v0.8h-2.45zM393.18 252.15h1.6V302.4h-1.6zM393.18 252.15h2.45v0.9h-2.45zM393.18 301.60h2.45v0.8h-2.45zM396.21 251.85h1.6V302.4h-1.6zM396.21 251.85h2.45v0.9h-2.45zM396.21 301.60h2.45v0.8h-2.45zM399.25 251.46h1.6V302.4h-1.6zM399.25 251.46h2.45v0.9h-2.45zM399.25 301.60h2.45v0.8h-2.45zM402.28 250.79h1.6V302.4h-1.6zM402.28 250.79h2.45v0.9h-2.45zM402.28 301.60h2.45v0.8h-2.45zM405.31 250.13h1.6V302.4h-1.6zM405.31 250.13h2.45v0.9h-2.45zM405.31 301.60h2.45v0.8h-2.45zM408.35 249.47h1.6V302.4h-1.6zM408.35 249.47h2.45v0.9h-2.45zM408.35 301.60h2.45v0.8h-2.45zM411.38 248.80h1.6V302.4h-1.6zM411.38 248.80h2.45v0.9h-2.45zM411.38 301.60h2.45v0.8h-2.45zM414.41 248.14h1.6V302.4h-1.6zM414.41 248.14h2.45v0.9h-2.45zM414.41 301.60h2.45v0.8h-2.45zM417.45 247.69h1.6V302.4h-1.6zM417.45 247.69h2.45v0.9h-2.45zM417.45 301.60h2.45v0.8h-2.45zM420.48 247.49h1.6V302.4h-1.6zM420.48 247.49h2.45v0.9h-2.45zM420.48 301.60h2.45v0.8h-2.45zM423.51 247.28h1.6V302.4h-1.6zM423.51 247.28h2.45v0.9h-2.45zM423.51 301.60h2.45v0.8h-2.45zM426.54 247.07h1.6V302.4h-1.6zM426.54 247.07h2.45v0.9h-2.45zM426.54 301.60h2.45v0.8h-2.45zM429.58 246.62h1.6V302.4h-1.6zM429.58 246.62h2.45v0.9h-2.45zM429.58 301.60h2.45v0.8h-2.45zM432.61 246.10h1.6V302.4h-1.6zM432.61 246.10h2.45v0.9h-2.45zM432.61 301.60h2.45v0.8h-2.45zM435.64 245.26h1.6V302.4h-1.6zM435.64 245.26h2.45v0.9h-2.45zM435.64 301.60h2.45v0.8h-2.45zM438.68 244.19h1.6V302.4h-1.6zM438.68 244.19h2.45v0.9h-2.45zM438.68 301.60h2.45v0.8h-2.45zM441.71 243.18h1.6V302.4h-1.6zM441.71 243.18h2.45v0.9h-2.45zM441.71 301.60h2.45v0.8h-2.45zM444.74 242.95h1.6V302.4h-1.6zM444.74 242.95h2.45v0.9h-2.45zM444.74 301.60h2.45v0.8h-2.45zM447.78 242.73h1.6V302.4h-1.6zM447.78 242.73h2.45v0.9h-2.45zM447.78 301.60h2.45v0.8h-2.45zM450.81 242.50h1.6V302.4h-1.6zM450.81 242.50h2.45v0.9h-2.45zM450.81 301.60h2.45v0.8h-2.45zM453.84 242.28h1.6V302.4h-1.6zM453.84 242.28h2.45v0.9h-2.45zM453.84 301.60h2.45v0.8h-2.45zM456.87 242.05h1.6V302.4h-1.6zM456.87 242.05h2.45v0.9h-2.45zM456.87 301.60h2.45v0.8h-2.45zM459.91 241.67h1.6V302.4h-1.6zM459.91 241.67h2.45v0.9h-2.45zM459.91 301.60h2.45v0.8h-2.45zM462.94 241.29h1.6V302.4h-1.6zM462.94 241.29h2.45v0.9h-2.45zM462.94 301.60h2.45v0.8h-2.45zM465.97 240.52h1.6V302.4h-1.6zM465.97 240.52h2.45v0.9h-2.45zM465.97 301.60h2.45v0.8h-2.45zM469.01 239.35h1.6V302.4h-1.6zM469.01 239.35h2.45v0.9h-2.45zM469.01 301.60h2.45v0.8h-2.45zM472.04 237.13h1.6V302.4h-1.6zM472.04 237.13h2.45v0.9h-2.45zM472.04 301.60h2.45v0.8h-2.45zM475.07 235.00h1.6V302.4h-1.6zM475.07 235.00h2.45v0.9h-2.45zM475.07 301.60h2.45v0.8h-2.45zM478.11 233.67h1.6V302.4h-1.6zM478.11 233.67h2.45v0.9h-2.45zM478.11 301.60h2.45v0.8h-2.45zM481.14 232.50h1.6V302.4h-1.6zM481.14 232.50h2.45v0.9h-2.45zM481.14 301.60h2.45v0.8h-2.45zM484.17 231.57h1.6V302.4h-1.6zM484.17 231.57h2.45v0.9h-2.45zM484.17 301.60h2.45v0.8h-2.45zM487.20 230.64h1.6V302.4h-1.6zM487.20 230.64h2.45v0.9h-2.45zM487.20 301.60h2.45v0.8h-2.45zM490.24 229.89h1.6V302.4h-1.6zM490.24 229.89h2.45v0.9h-2.45zM490.24 301.60h2.45v0.8h-2.45zM493.27 229.16h1.6V302.4h-1.6zM493.27 229.16h2.45v0.9h-2.45zM493.27 301.60h2.45v0.8h-2.45zM496.30 228.38h1.6V302.4h-1.6zM496.30 228.38h2.45v0.9h-2.45zM496.30 301.60h2.45v0.8h-2.45zM499.34 227.42h1.6V302.4h-1.6zM499.34 227.42h2.45v0.9h-2.45zM499.34 301.60h2.45v0.8h-2.45zM502.37 226.46h1.6V302.4h-1.6zM502.37 226.46h2.45v0.9h-2.45zM502.37 301.60h2.45v0.8h-2.45zM505.40 225.40h1.6V302.4h-1.6zM505.40 225.40h2.45v0.9h-2.45zM505.40 301.60h2.45v0.8h-2.45zM508.44 224.31h1.6V302.4h-1.6zM508.44 224.31h2.45v0.9h-2.45zM508.44 301.60h2.45v0.8h-2.45zM511.47 222.98h1.6V302.4h-1.6zM511.47 222.98h2.45v0.9h-2.45zM511.47 301.60h2.45v0.8h-2.45zM514.50 213.78h1.6V302.4h-1.6zM514.50 213.78h2.45v0.9h-2.45zM514.50 301.60h2.45v0.8h-2.45z" fill="#34344a"/>
<line x1="69.50" y1="283.24" x2="517.50" y2="283.24" stroke="#000" stroke-width="1" stroke-opacity="0.12"/>
<line x1="69.50" y1="264.08" x2="517.50" y2="264.08" stroke="#000" stroke-width="1" stroke-opacity="0.12"/>
<line x1="69.50" y1="244.92" x2="517.50" y2="244.92" stroke="#000" stroke-width="1" stroke-opacity="0.12"/>
<line x1="69.50" y1="225.76" x2="517.50" y2="225.76" stroke="#000" stroke-width="1" stroke-opacity="0.12"/>
<line x1="69.50" y1="206.60" x2="69.50" y2="302.40" stroke="#858585" stroke-width="1.2" />
<line x1="69.50" y1="302.40" x2="517.50" y2="302.40" stroke="#858585" stroke-width="1" />
<line x1="66.50" y1="302.40" x2="69.50" y2="302.40" stroke="#b0b0b0" stroke-width="1" />
<text x="60.70" y="309.20" font-size="9.8" text-anchor="end" font-weight="normal" fill="#1a1a1a" >0</text>
<line x1="66.50" y1="283.24" x2="69.50" y2="283.24" stroke="#b0b0b0" stroke-width="1" />
<text x="60.70" y="290.04" font-size="9.8" text-anchor="end" font-weight="normal" fill="#1a1a1a" >20</text>
<line x1="66.50" y1="264.08" x2="69.50" y2="264.08" stroke="#b0b0b0" stroke-width="1" />
<text x="60.70" y="270.88" font-size="9.8" text-anchor="end" font-weight="normal" fill="#1a1a1a" >40</text>
<line x1="66.50" y1="244.92" x2="69.50" y2="244.92" stroke="#b0b0b0" stroke-width="1" />
<text x="60.70" y="251.72" font-size="9.8" text-anchor="end" font-weight="normal" fill="#1a1a1a" >60</text>
<line x1="66.50" y1="225.76" x2="69.50" y2="225.76" stroke="#b0b0b0" stroke-width="1" />
<text x="60.70" y="232.56" font-size="9.8" text-anchor="end" font-weight="normal" fill="#1a1a1a" >80</text>
<line x1="66.50" y1="206.60" x2="69.50" y2="206.60" stroke="#b0b0b0" stroke-width="1" />
<text x="60.70" y="213.40" font-size="9.8" text-anchor="end" font-weight="normal" fill="#1a1a1a" >100</text>
<text x="0.00" y="0.00" font-size="11.1" text-anchor="middle" font-weight="bold" fill="#111" transform="translate(39.6,252.0) rotate(-90)">Percent positive</text>
<text x="94.80" y="287.30" font-size="16.5" text-anchor="middle" font-weight="normal" fill="#111" stroke="#111" stroke-width="0.35">*</text>
<text x="155.60" y="286.10" font-size="16.5" text-anchor="middle" font-weight="normal" fill="#111" stroke="#111" stroke-width="0.35">*</text>
<text x="179.10" y="284.10" font-size="16.5" text-anchor="middle" font-weight="normal" fill="#111" stroke="#111" stroke-width="0.35">*</text>
<text x="237.00" y="275.80" font-size="16.5" text-anchor="middle" font-weight="normal" fill="#111" stroke="#111" stroke-width="0.35">*</text>
<text x="313.20" y="261.50" font-size="16.5" text-anchor="middle" font-weight="normal" fill="#111" stroke="#111" stroke-width="0.35">*</text>
<text x="319.90" y="261.50" font-size="16.5" text-anchor="middle" font-weight="normal" fill="#111" stroke="#111" stroke-width="0.35">*</text>
<text x="327.60" y="259.30" font-size="16.5" text-anchor="middle" font-weight="normal" fill="#111" stroke="#111" stroke-width="0.35">*</text>
<text x="364.00" y="256.20" font-size="16.5" text-anchor="middle" font-weight="normal" fill="#111" stroke="#111" stroke-width="0.35">*</text>
<text x="383.00" y="252.50" font-size="16.5" text-anchor="middle" font-weight="normal" fill="#111" stroke="#111" stroke-width="0.35">*</text>
<text x="206.00" y="339.40" font-size="13.1" text-anchor="start" font-weight="bold" fill="#111" >Constitutive pS-Stat3</text>
<line x1="73.90" y1="415.50" x2="514.25" y2="415.50" stroke="#c8c8c8" stroke-width="1.0" />
<line x1="73.90" y1="393.00" x2="514.25" y2="393.00" stroke="#c8c8c8" stroke-width="1.0" />
<line x1="73.90" y1="370.50" x2="514.25" y2="370.50" stroke="#c8c8c8" stroke-width="1.0" />
<rect x="73.9" y="348.0" width="440.35" height="90.0" fill="none" stroke="#666" stroke-width="1.3"/>
<path d="M78.04 437.10h1.27V438.0h-1.27zM81.06 437.10h1.27V438.0h-1.27zM84.08 437.10h1.27V438.0h-1.27zM87.10 437.10h1.27V438.0h-1.27zM90.12 437.10h1.27V438.0h-1.27zM93.14 437.10h1.27V438.0h-1.27zM96.15 437.10h1.27V438.0h-1.27zM99.17 437.10h1.27V438.0h-1.27zM102.19 437.10h1.27V438.0h-1.27zM105.21 437.10h1.27V438.0h-1.27zM108.23 437.10h1.27V438.0h-1.27zM111.25 437.10h1.27V438.0h-1.27zM114.27 437.09h1.27V438.0h-1.27zM117.29 437.08h1.27V438.0h-1.27zM120.31 437.07h1.27V438.0h-1.27zM123.33 437.06h1.27V438.0h-1.27zM126.34 437.05h1.27V438.0h-1.27zM129.36 437.04h1.27V438.0h-1.27zM132.38 437.03h1.27V438.0h-1.27zM135.40 437.02h1.27V438.0h-1.27zM138.42 437.01h1.27V438.0h-1.27zM141.44 437.00h1.27V438.0h-1.27zM144.46 436.99h1.27V438.0h-1.27zM147.48 436.69h1.27V438.0h-1.27zM150.50 436.31h1.27V438.0h-1.27zM153.52 436.25h1.27V438.0h-1.27zM156.53 436.20h1.27V438.0h-1.27zM159.55 436.14h1.27V438.0h-1.27zM162.57 436.09h1.27V438.0h-1.27zM165.59 436.04h1.27V438.0h-1.27zM168.61 435.98h1.27V438.0h-1.27zM171.63 435.93h1.27V438.0h-1.27zM174.65 435.87h1.27V438.0h-1.27zM177.67 435.82h1.27V438.0h-1.27zM180.69 435.76h1.27V438.0h-1.27zM183.71 435.71h1.27V438.0h-1.27zM186.72 435.66h1.27V438.0h-1.27zM189.74 435.60h1.27V438.0h-1.27zM192.76 435.55h1.27V438.0h-1.27zM195.78 435.49h1.27V438.0h-1.27zM198.80 435.44h1.27V438.0h-1.27zM201.82 435.38h1.27V438.0h-1.27zM204.84 435.31h1.27V438.0h-1.27zM207.86 435.24h1.27V438.0h-1.27zM210.88 435.17h1.27V438.0h-1.27zM213.90 435.11h1.27V438.0h-1.27zM216.91 435.04h1.27V438.0h-1.27zM219.93 434.97h1.27V438.0h-1.27zM222.95 434.90h1.27V438.0h-1.27zM225.97 434.83h1.27V438.0h-1.27zM228.99 434.77h1.27V438.0h-1.27zM232.01 434.70h1.27V438.0h-1.27zM235.03 434.63h1.27V438.0h-1.27zM238.05 434.56h1.27V438.0h-1.27zM241.07 434.49h1.27V438.0h-1.27zM244.09 434.43h1.27V438.0h-1.27zM247.10 434.36h1.27V438.0h-1.27zM250.12 434.29h1.27V438.0h-1.27zM253.14 434.22h1.27V438.0h-1.27zM256.16 434.15h1.27V438.0h-1.27zM259.18 434.09h1.27V438.0h-1.27zM262.20 434.03h1.27V438.0h-1.27zM265.22 433.97h1.27V438.0h-1.27zM268.24 433.92h1.27V438.0h-1.27zM271.26 433.87h1.27V438.0h-1.27zM274.28 433.81h1.27V438.0h-1.27zM277.29 433.76h1.27V438.0h-1.27zM280.31 433.71h1.27V438.0h-1.27zM283.33 433.65h1.27V438.0h-1.27zM286.35 433.60h1.27V438.0h-1.27zM289.37 433.55h1.27V438.0h-1.27zM292.39 433.49h1.27V438.0h-1.27zM295.41 433.44h1.27V438.0h-1.27zM298.43 433.39h1.27V438.0h-1.27zM301.45 433.33h1.27V438.0h-1.27zM304.47 433.28h1.27V438.0h-1.27zM307.48 433.23h1.27V438.0h-1.27zM310.50 433.17h1.27V438.0h-1.27zM313.52 433.12h1.27V438.0h-1.27zM316.54 433.07h1.27V438.0h-1.27zM319.56 433.01h1.27V438.0h-1.27zM322.58 432.96h1.27V438.0h-1.27zM325.60 432.91h1.27V438.0h-1.27zM328.62 432.85h1.27V438.0h-1.27zM331.64 432.78h1.27V438.0h-1.27zM334.66 432.68h1.27V438.0h-1.27zM337.67 432.59h1.27V438.0h-1.27zM340.69 432.49h1.27V438.0h-1.27zM343.71 432.39h1.27V438.0h-1.27zM346.73 432.29h1.27V438.0h-1.27zM349.75 432.20h1.27V438.0h-1.27zM352.77 432.10h1.27V438.0h-1.27zM355.79 432.00h1.27V438.0h-1.27zM358.81 431.91h1.27V438.0h-1.27zM361.83 431.81h1.27V438.0h-1.27zM364.85 431.71h1.27V438.0h-1.27zM367.86 431.62h1.27V438.0h-1.27zM370.88 431.52h1.27V438.0h-1.27zM373.90 431.42h1.27V438.0h-1.27zM376.92 431.32h1.27V438.0h-1.27zM379.94 431.23h1.27V438.0h-1.27zM382.96 431.13h1.27V438.0h-1.27zM385.98 431.03h1.27V438.0h-1.27zM389.00 430.94h1.27V438.0h-1.27zM392.02 430.84h1.27V438.0h-1.27zM395.04 430.74h1.27V438.0h-1.27zM398.05 430.65h1.27V438.0h-1.27zM401.07 430.50h1.27V438.0h-1.27zM404.09 430.23h1.27V438.0h-1.27zM407.11 429.96h1.27V438.0h-1.27zM410.13 429.68h1.27V438.0h-1.27zM413.15 429.41h1.27V438.0h-1.27zM416.17 429.16h1.27V438.0h-1.27zM419.19 428.96h1.27V438.0h-1.27zM422.21 428.75h1.27V438.0h-1.27zM425.23 428.55h1.27V438.0h-1.27zM428.24 428.35h1.27V438.0h-1.27zM431.26 428.14h1.27V438.0h-1.27zM434.28 427.94h1.27V438.0h-1.27zM437.30 427.74h1.27V438.0h-1.27zM440.32 427.53h1.27V438.0h-1.27zM443.34 427.17h1.27V438.0h-1.27zM446.36 426.80h1.27V438.0h-1.27zM449.38 426.44h1.27V438.0h-1.27zM452.40 426.08h1.27V438.0h-1.27zM455.42 425.70h1.27V438.0h-1.27zM458.43 425.09h1.27V438.0h-1.27zM461.45 424.48h1.27V438.0h-1.27zM464.47 423.87h1.27V438.0h-1.27zM467.49 422.90h1.27V438.0h-1.27zM470.51 421.83h1.27V438.0h-1.27zM473.53 420.86h1.27V438.0h-1.27zM476.55 419.97h1.27V438.0h-1.27zM479.57 419.63h1.27V438.0h-1.27zM482.59 419.18h1.27V438.0h-1.27zM485.61 417.81h1.27V438.0h-1.27zM488.62 415.68h1.27V438.0h-1.27zM491.64 414.34h1.27V438.0h-1.27zM494.66 412.42h1.27V438.0h-1.27zM497.68 410.10h1.27V438.0h-1.27zM500.70 405.40h1.27V438.0h-1.27zM503.72 400.42h1.27V438.0h-1.27zM506.74 397.30h1.27V438.0h-1.27zM509.76 350.25h1.27V438.0h-1.27zM512.78 349.46h1.27V438.0h-1.27z" fill="#9a9a9a"/>
<path d="M76.29 437.10h1.75V438.0h-1.75zM79.31 437.10h1.75V438.0h-1.75zM82.33 437.10h1.75V438.0h-1.75zM85.35 437.10h1.75V438.0h-1.75zM88.37 437.10h1.75V438.0h-1.75zM91.39 437.10h1.75V438.0h-1.75zM94.40 437.10h1.75V438.0h-1.75zM97.42 437.10h1.75V438.0h-1.75zM100.44 437.10h1.75V438.0h-1.75zM103.46 437.10h1.75V438.0h-1.75zM106.48 437.10h1.75V438.0h-1.75zM109.50 437.10h1.75V438.0h-1.75zM112.52 437.09h1.75V438.0h-1.75zM115.54 437.08h1.75V438.0h-1.75zM118.56 437.07h1.75V438.0h-1.75zM121.58 437.06h1.75V438.0h-1.75zM124.59 437.05h1.75V438.0h-1.75zM127.61 437.04h1.75V438.0h-1.75zM130.63 437.03h1.75V438.0h-1.75zM133.65 437.02h1.75V438.0h-1.75zM136.67 437.01h1.75V438.0h-1.75zM139.69 437.00h1.75V438.0h-1.75zM142.71 436.99h1.75V438.0h-1.75zM145.73 436.69h1.75V438.0h-1.75zM148.75 436.31h1.75V438.0h-1.75zM151.77 436.25h1.75V438.0h-1.75zM154.78 436.20h1.75V438.0h-1.75zM157.80 436.14h1.75V438.0h-1.75zM160.82 436.09h1.75V438.0h-1.75zM163.84 436.04h1.75V438.0h-1.75zM166.86 435.98h1.75V438.0h-1.75zM169.88 435.93h1.75V438.0h-1.75zM172.90 435.87h1.75V438.0h-1.75zM175.92 435.82h1.75V438.0h-1.75zM178.94 435.76h1.75V438.0h-1.75zM181.96 435.71h1.75V438.0h-1.75zM184.97 435.66h1.75V438.0h-1.75zM187.99 435.60h1.75V438.0h-1.75zM191.01 435.55h1.75V438.0h-1.75zM194.03 435.49h1.75V438.0h-1.75zM197.05 435.44h1.75V438.0h-1.75zM200.07 435.38h1.75V438.0h-1.75zM203.09 435.31h1.75V438.0h-1.75zM206.11 435.24h1.75V438.0h-1.75zM209.13 435.17h1.75V438.0h-1.75zM212.15 435.11h1.75V438.0h-1.75zM215.16 435.04h1.75V438.0h-1.75zM218.18 434.97h1.75V438.0h-1.75zM221.20 434.90h1.75V438.0h-1.75zM224.22 434.83h1.75V438.0h-1.75zM227.24 434.77h1.75V438.0h-1.75zM230.26 434.70h1.75V438.0h-1.75zM233.28 434.63h1.75V438.0h-1.75zM236.30 434.56h1.75V438.0h-1.75zM239.32 434.49h1.75V438.0h-1.75zM242.34 434.43h1.75V438.0h-1.75zM245.35 434.36h1.75V438.0h-1.75zM248.37 434.29h1.75V438.0h-1.75zM251.39 434.22h1.75V438.0h-1.75zM254.41 434.15h1.75V438.0h-1.75zM257.43 434.09h1.75V438.0h-1.75zM260.45 434.03h1.75V438.0h-1.75zM263.47 433.97h1.75V438.0h-1.75zM266.49 433.92h1.75V438.0h-1.75zM269.51 433.87h1.75V438.0h-1.75zM272.53 433.81h1.75V438.0h-1.75zM275.54 433.76h1.75V438.0h-1.75zM278.56 433.71h1.75V438.0h-1.75zM281.58 433.65h1.75V438.0h-1.75zM284.60 433.60h1.75V438.0h-1.75zM287.62 433.55h1.75V438.0h-1.75zM290.64 433.49h1.75V438.0h-1.75zM293.66 433.44h1.75V438.0h-1.75zM296.68 433.39h1.75V438.0h-1.75zM299.70 433.33h1.75V438.0h-1.75zM302.72 433.28h1.75V438.0h-1.75zM305.73 433.23h1.75V438.0h-1.75zM308.75 433.17h1.75V438.0h-1.75zM311.77 433.12h1.75V438.0h-1.75zM314.79 433.07h1.75V438.0h-1.75zM317.81 433.01h1.75V438.0h-1.75zM320.83 432.96h1.75V438.0h-1.75zM323.85 432.91h1.75V438.0h-1.75zM326.87 432.85h1.75V438.0h-1.75zM329.89 432.78h1.75V438.0h-1.75zM332.91 432.68h1.75V438.0h-1.75zM335.92 432.59h1.75V438.0h-1.75zM338.94 432.49h1.75V438.0h-1.75zM341.96 432.39h1.75V438.0h-1.75zM344.98 432.29h1.75V438.0h-1.75zM348.00 432.20h1.75V438.0h-1.75zM351.02 432.10h1.75V438.0h-1.75zM354.04 432.00h1.75V438.0h-1.75zM357.06 431.91h1.75V438.0h-1.75zM360.08 431.81h1.75V438.0h-1.75zM363.10 431.71h1.75V438.0h-1.75zM366.11 431.62h1.75V438.0h-1.75zM369.13 431.52h1.75V438.0h-1.75zM372.15 431.42h1.75V438.0h-1.75zM375.17 431.32h1.75V438.0h-1.75zM378.19 431.23h1.75V438.0h-1.75zM381.21 431.13h1.75V438.0h-1.75zM384.23 431.03h1.75V438.0h-1.75zM387.25 430.94h1.75V438.0h-1.75zM390.27 430.84h1.75V438.0h-1.75zM393.29 430.74h1.75V438.0h-1.75zM396.30 430.65h1.75V438.0h-1.75zM399.32 430.50h1.75V438.0h-1.75zM402.34 430.23h1.75V438.0h-1.75zM405.36 429.96h1.75V438.0h-1.75zM408.38 429.68h1.75V438.0h-1.75zM411.40 429.41h1.75V438.0h-1.75zM414.42 429.16h1.75V438.0h-1.75zM417.44 428.96h1.75V438.0h-1.75zM420.46 428.75h1.75V438.0h-1.75zM423.48 428.55h1.75V438.0h-1.75zM426.49 428.35h1.75V438.0h-1.75zM429.51 428.14h1.75V438.0h-1.75zM432.53 427.94h1.75V438.0h-1.75zM435.55 427.74h1.75V438.0h-1.75zM438.57 427.53h1.75V438.0h-1.75zM441.59 427.17h1.75V438.0h-1.75zM444.61 426.80h1.75V438.0h-1.75zM447.63 426.44h1.75V438.0h-1.75zM450.65 426.08h1.75V438.0h-1.75zM453.67 425.70h1.75V438.0h-1.75zM456.68 425.09h1.75V438.0h-1.75zM459.70 424.48h1.75V438.0h-1.75zM462.72 423.87h1.75V438.0h-1.75zM465.74 422.90h1.75V438.0h-1.75zM468.76 421.83h1.75V438.0h-1.75zM471.78 420.86h1.75V438.0h-1.75zM474.80 419.97h1.75V438.0h-1.75zM477.82 419.63h1.75V438.0h-1.75zM480.84 419.18h1.75V438.0h-1.75zM483.86 417.81h1.75V438.0h-1.75zM486.87 415.68h1.75V438.0h-1.75zM489.89 414.34h1.75V438.0h-1.75zM492.91 412.42h1.75V438.0h-1.75zM495.93 410.10h1.75V438.0h-1.75zM498.95 405.40h1.75V438.0h-1.75zM501.97 400.42h1.75V438.0h-1.75zM504.99 397.30h1.75V438.0h-1.75zM508.01 350.25h1.75V438.0h-1.75zM511.03 349.46h1.75V438.0h-1.75z" fill="#0a0a0a"/>
<line x1="73.90" y1="348.00" x2="73.90" y2="438.00" stroke="#666" stroke-width="1.3" />
<line x1="73.90" y1="438.00" x2="514.25" y2="438.00" stroke="#666" stroke-width="1" />
<line x1="70.90" y1="438.00" x2="73.90" y2="438.00" stroke="#bbb" stroke-width="1" />
<text x="64.60" y="443.80" font-size="9.8" text-anchor="end" font-weight="normal" fill="#1a1a1a" >0</text>
<line x1="70.90" y1="415.50" x2="73.90" y2="415.50" stroke="#bbb" stroke-width="1" />
<text x="64.60" y="421.30" font-size="9.8" text-anchor="end" font-weight="normal" fill="#1a1a1a" >20</text>
<line x1="70.90" y1="393.00" x2="73.90" y2="393.00" stroke="#bbb" stroke-width="1" />
<text x="64.60" y="398.80" font-size="9.8" text-anchor="end" font-weight="normal" fill="#1a1a1a" >40</text>
<line x1="70.90" y1="370.50" x2="73.90" y2="370.50" stroke="#bbb" stroke-width="1" />
<text x="64.60" y="376.30" font-size="9.8" text-anchor="end" font-weight="normal" fill="#1a1a1a" >60</text>
<line x1="70.90" y1="348.00" x2="73.90" y2="348.00" stroke="#bbb" stroke-width="1" />
<text x="64.60" y="353.80" font-size="9.8" text-anchor="end" font-weight="normal" fill="#1a1a1a" >80</text>
<text x="0.00" y="0.00" font-size="11.1" text-anchor="middle" font-weight="bold" fill="#111" transform="translate(41.3,388.0) rotate(-90)">Percent positive</text>
<text x="94.80" y="436.70" font-size="16.5" text-anchor="middle" font-weight="normal" fill="#111" stroke="#111" stroke-width="0.35">*</text>
<text x="104.10" y="436.70" font-size="16.5" text-anchor="middle" font-weight="normal" fill="#111" stroke="#111" stroke-width="0.35">*</text>
<text x="121.70" y="436.70" font-size="16.5" text-anchor="middle" font-weight="normal" fill="#111" stroke="#111" stroke-width="0.35">*</text>
<text x="137.40" y="436.70" font-size="16.5" text-anchor="middle" font-weight="normal" fill="#111" stroke="#111" stroke-width="0.35">*</text>
<text x="153.00" y="436.50" font-size="16.5" text-anchor="middle" font-weight="normal" fill="#111" stroke="#111" stroke-width="0.35">*</text>
<text x="188.00" y="436.10" font-size="16.5" text-anchor="middle" font-weight="normal" fill="#111" stroke="#111" stroke-width="0.35">*</text>
<text x="227.00" y="435.80" font-size="16.5" text-anchor="middle" font-weight="normal" fill="#111" stroke="#111" stroke-width="0.35">*</text>
<text x="328.00" y="434.10" font-size="16.5" text-anchor="middle" font-weight="normal" fill="#111" stroke="#111" stroke-width="0.35">*</text>
<text x="359.00" y="434.10" font-size="16.5" text-anchor="middle" font-weight="normal" fill="#111" stroke="#111" stroke-width="0.35">*</text>
<text x="204.30" y="479.00" font-size="13.1" text-anchor="start" font-weight="bold" fill="#111" >Constitutive pY-Stat5</text>
<line x1="72.40" y1="558.36" x2="515.00" y2="558.36" stroke="#c8c8c8" stroke-width="1.2" />
<line x1="72.40" y1="540.12" x2="515.00" y2="540.12" stroke="#c8c8c8" stroke-width="1.2" />
<line x1="72.40" y1="521.88" x2="515.00" y2="521.88" stroke="#c8c8c8" stroke-width="1.2" />
<line x1="72.40" y1="503.64" x2="515.00" y2="503.64" stroke="#c8c8c8" stroke-width="1.2" />
<rect x="72.4" y="485.4" width="442.6" height="91.20000000000005" fill="none" stroke="#6a6a6a" stroke-width="1.2"/>
<path d="M74.55 575.70h0.66V576.6h-0.66zM77.95 575.70h0.66V576.6h-0.66zM81.36 575.70h0.66V576.6h-0.66zM84.78 575.70h0.66V576.6h-0.66zM88.19 575.64h0.66V576.6h-0.66zM91.59 575.36h0.66V576.6h-0.66zM95.01 574.51h0.66V576.6h-0.66zM98.42 574.33h0.66V576.6h-0.66zM101.83 574.16h0.66V576.6h-0.66zM105.23 573.98h0.66V576.6h-0.66zM108.64 573.81h0.66V576.6h-0.66zM112.06 573.63h0.66V576.6h-0.66zM115.47 573.44h0.66V576.6h-0.66zM118.88 573.25h0.66V576.6h-0.66zM122.29 573.08h0.66V576.6h-0.66zM125.70 572.94h0.66V576.6h-0.66zM129.11 572.80h0.66V576.6h-0.66zM132.51 572.66h0.66V576.6h-0.66zM135.92 572.52h0.66V576.6h-0.66zM139.34 572.38h0.66V576.6h-0.66zM142.74 572.21h0.66V576.6h-0.66zM146.16 571.99h0.66V576.6h-0.66zM149.56 571.77h0.66V576.6h-0.66zM152.97 571.58h0.66V576.6h-0.66zM156.38 571.42h0.66V576.6h-0.66zM159.79 571.25h0.66V576.6h-0.66zM163.20 571.08h0.66V576.6h-0.66zM166.61 570.92h0.66V576.6h-0.66zM170.03 570.74h0.66V576.6h-0.66zM173.43 570.57h0.66V576.6h-0.66zM176.84 570.39h0.66V576.6h-0.66zM180.25 570.22h0.66V576.6h-0.66zM183.66 570.05h0.66V576.6h-0.66zM187.07 569.87h0.66V576.6h-0.66zM190.48 569.70h0.66V576.6h-0.66zM193.90 569.51h0.66V576.6h-0.66zM197.30 569.33h0.66V576.6h-0.66zM200.72 569.14h0.66V576.6h-0.66zM204.12 568.92h0.66V576.6h-0.66zM207.53 568.69h0.66V576.6h-0.66zM210.94 568.46h0.66V576.6h-0.66zM214.35 568.23h0.66V576.6h-0.66zM217.76 567.97h0.66V576.6h-0.66zM221.17 567.66h0.66V576.6h-0.66zM224.59 567.36h0.66V576.6h-0.66zM228.00 567.06h0.66V576.6h-0.66zM231.41 566.76h0.66V576.6h-0.66zM234.81 566.45h0.66V576.6h-0.66zM238.22 566.14h0.66V576.6h-0.66zM241.63 565.83h0.66V576.6h-0.66zM245.04 565.61h0.66V576.6h-0.66zM248.45 565.52h0.66V576.6h-0.66zM251.86 565.43h0.66V576.6h-0.66zM255.28 565.24h0.66V576.6h-0.66zM258.68 564.97h0.66V576.6h-0.66zM262.10 564.70h0.66V576.6h-0.66zM265.51 564.42h0.66V576.6h-0.66zM268.92 563.96h0.66V576.6h-0.66zM272.32 563.46h0.66V576.6h-0.66zM275.74 562.97h0.66V576.6h-0.66zM279.15 562.69h0.66V576.6h-0.66zM282.56 562.45h0.66V576.6h-0.66zM285.97 562.20h0.66V576.6h-0.66zM289.38 561.95h0.66V576.6h-0.66zM292.79 561.32h0.66V576.6h-0.66zM296.19 560.33h0.66V576.6h-0.66zM299.61 559.50h0.66V576.6h-0.66zM303.02 559.39h0.66V576.6h-0.66zM306.43 559.32h0.66V576.6h-0.66zM309.84 559.11h0.66V576.6h-0.66zM313.25 558.67h0.66V576.6h-0.66zM316.66 558.45h0.66V576.6h-0.66zM320.06 558.25h0.66V576.6h-0.66zM323.48 558.05h0.66V576.6h-0.66zM326.89 557.78h0.66V576.6h-0.66zM330.30 557.28h0.66V576.6h-0.66zM333.71 556.79h0.66V576.6h-0.66zM337.12 556.29h0.66V576.6h-0.66zM340.53 555.95h0.66V576.6h-0.66zM343.94 555.71h0.66V576.6h-0.66zM347.35 555.48h0.66V576.6h-0.66zM350.76 555.25h0.66V576.6h-0.66zM354.17 555.02h0.66V576.6h-0.66zM357.58 554.64h0.66V576.6h-0.66zM360.99 554.08h0.66V576.6h-0.66zM364.40 553.51h0.66V576.6h-0.66zM367.81 552.79h0.66V576.6h-0.66zM371.22 550.98h0.66V576.6h-0.66zM374.63 549.30h0.66V576.6h-0.66zM378.04 549.04h0.66V576.6h-0.66zM381.45 548.78h0.66V576.6h-0.66zM384.86 548.52h0.66V576.6h-0.66zM388.27 548.27h0.66V576.6h-0.66zM391.68 547.97h0.66V576.6h-0.66zM395.09 547.54h0.66V576.6h-0.66zM398.50 547.10h0.66V576.6h-0.66zM401.91 546.67h0.66V576.6h-0.66zM405.32 546.23h0.66V576.6h-0.66zM408.73 545.83h0.66V576.6h-0.66zM412.14 545.44h0.66V576.6h-0.66zM415.55 545.04h0.66V576.6h-0.66zM418.96 544.65h0.66V576.6h-0.66zM422.37 544.19h0.66V576.6h-0.66zM425.78 543.63h0.66V576.6h-0.66zM429.19 542.84h0.66V576.6h-0.66zM432.60 541.82h0.66V576.6h-0.66zM436.01 540.55h0.66V576.6h-0.66zM439.42 539.27h0.66V576.6h-0.66zM442.83 538.36h0.66V576.6h-0.66zM446.24 537.78h0.66V576.6h-0.66zM449.65 537.20h0.66V576.6h-0.66zM453.06 536.62h0.66V576.6h-0.66zM456.47 535.96h0.66V576.6h-0.66zM459.88 534.78h0.66V576.6h-0.66zM463.29 533.92h0.66V576.6h-0.66zM466.70 533.24h0.66V576.6h-0.66zM470.11 532.56h0.66V576.6h-0.66zM473.52 530.88h0.66V576.6h-0.66zM476.93 529.02h0.66V576.6h-0.66zM480.34 527.69h0.66V576.6h-0.66zM483.75 526.41h0.66V576.6h-0.66zM487.16 525.88h0.66V576.6h-0.66zM490.57 525.35h0.66V576.6h-0.66zM493.98 524.67h0.66V576.6h-0.66zM497.39 522.93h0.66V576.6h-0.66zM500.80 520.49h0.66V576.6h-0.66zM504.21 516.63h0.66V576.6h-0.66zM507.62 508.70h0.66V576.6h-0.66zM511.03 503.95h0.66V576.6h-0.66zM514.44 497.89h0.66V576.6h-0.66z" fill="#fff"/>
<path d="M73.09 575.70h1.45V576.6h-1.45zM76.50 575.70h1.45V576.6h-1.45zM79.91 575.70h1.45V576.6h-1.45zM83.33 575.70h1.45V576.6h-1.45zM86.73 575.64h1.45V576.6h-1.45zM90.14 575.36h1.45V576.6h-1.45zM93.56 574.51h1.45V576.6h-1.45zM96.97 574.33h1.45V576.6h-1.45zM100.38 574.16h1.45V576.6h-1.45zM103.78 573.98h1.45V576.6h-1.45zM107.19 573.81h1.45V576.6h-1.45zM110.61 573.63h1.45V576.6h-1.45zM114.02 573.44h1.45V576.6h-1.45zM117.42 573.25h1.45V576.6h-1.45zM120.84 573.08h1.45V576.6h-1.45zM124.25 572.94h1.45V576.6h-1.45zM127.66 572.80h1.45V576.6h-1.45zM131.06 572.66h1.45V576.6h-1.45zM134.47 572.52h1.45V576.6h-1.45zM137.89 572.38h1.45V576.6h-1.45zM141.29 572.21h1.45V576.6h-1.45zM144.71 571.99h1.45V576.6h-1.45zM148.12 571.77h1.45V576.6h-1.45zM151.53 571.58h1.45V576.6h-1.45zM154.94 571.42h1.45V576.6h-1.45zM158.34 571.25h1.45V576.6h-1.45zM161.75 571.08h1.45V576.6h-1.45zM165.16 570.92h1.45V576.6h-1.45zM171.98 570.57h1.45V576.6h-1.45zM175.40 570.39h1.45V576.6h-1.45zM178.81 570.22h1.45V576.6h-1.45zM182.22 570.05h1.45V576.6h-1.45zM185.62 569.87h1.45V576.6h-1.45zM189.03 569.70h1.45V576.6h-1.45zM192.45 569.51h1.45V576.6h-1.45zM195.85 569.33h1.45V576.6h-1.45zM199.27 569.14h1.45V576.6h-1.45zM202.68 568.92h1.45V576.6h-1.45zM206.09 568.69h1.45V576.6h-1.45zM209.50 568.46h1.45V576.6h-1.45zM212.91 568.23h1.45V576.6h-1.45zM216.31 567.97h1.45V576.6h-1.45zM219.72 567.66h1.45V576.6h-1.45zM223.14 567.36h1.45V576.6h-1.45zM226.55 567.06h1.45V576.6h-1.45zM229.96 566.76h1.45V576.6h-1.45zM233.37 566.45h1.45V576.6h-1.45zM236.78 566.14h1.45V576.6h-1.45zM240.19 565.83h1.45V576.6h-1.45zM243.59 565.61h1.45V576.6h-1.45zM247.00 565.52h1.45V576.6h-1.45zM253.83 565.24h1.45V576.6h-1.45zM257.23 564.97h1.45V576.6h-1.45zM260.65 564.70h1.45V576.6h-1.45zM264.06 564.42h1.45V576.6h-1.45zM267.47 563.96h1.45V576.6h-1.45zM270.88 563.46h1.45V576.6h-1.45zM274.29 562.97h1.45V576.6h-1.45zM277.70 562.69h1.45V576.6h-1.45zM281.11 562.45h1.45V576.6h-1.45zM284.52 562.20h1.45V576.6h-1.45zM287.93 561.95h1.45V576.6h-1.45zM291.34 561.32h1.45V576.6h-1.45zM294.75 560.33h1.45V576.6h-1.45zM301.57 559.39h1.45V576.6h-1.45zM304.98 559.32h1.45V576.6h-1.45zM311.80 558.67h1.45V576.6h-1.45zM315.21 558.45h1.45V576.6h-1.45zM318.62 558.25h1.45V576.6h-1.45zM322.03 558.05h1.45V576.6h-1.45zM325.44 557.78h1.45V576.6h-1.45zM328.85 557.28h1.45V576.6h-1.45zM332.26 556.79h1.45V576.6h-1.45zM335.67 556.29h1.45V576.6h-1.45zM339.08 555.95h1.45V576.6h-1.45zM342.49 555.71h1.45V576.6h-1.45zM345.90 555.48h1.45V576.6h-1.45zM349.31 555.25h1.45V576.6h-1.45zM352.72 555.02h1.45V576.6h-1.45zM356.13 554.64h1.45V576.6h-1.45zM362.95 553.51h1.45V576.6h-1.45zM366.36 552.79h1.45V576.6h-1.45zM369.77 550.98h1.45V576.6h-1.45zM373.18 549.30h1.45V576.6h-1.45zM376.59 549.04h1.45V576.6h-1.45zM380.00 548.78h1.45V576.6h-1.45zM383.41 548.52h1.45V576.6h-1.45zM386.82 548.27h1.45V576.6h-1.45zM390.23 547.97h1.45V576.6h-1.45zM393.64 547.54h1.45V576.6h-1.45zM397.05 547.10h1.45V576.6h-1.45zM400.46 546.67h1.45V576.6h-1.45zM403.87 546.23h1.45V576.6h-1.45zM407.28 545.83h1.45V576.6h-1.45zM410.69 545.44h1.45V576.6h-1.45zM414.10 545.04h1.45V576.6h-1.45zM417.51 544.65h1.45V576.6h-1.45zM420.92 544.19h1.45V576.6h-1.45zM424.33 543.63h1.45V576.6h-1.45zM427.74 542.84h1.45V576.6h-1.45zM431.15 541.82h1.45V576.6h-1.45zM434.56 540.55h1.45V576.6h-1.45zM437.97 539.27h1.45V576.6h-1.45zM441.38 538.36h1.45V576.6h-1.45zM444.79 537.78h1.45V576.6h-1.45zM448.20 537.20h1.45V576.6h-1.45zM451.61 536.62h1.45V576.6h-1.45zM455.02 535.96h1.45V576.6h-1.45zM458.43 534.78h1.45V576.6h-1.45zM461.84 533.92h1.45V576.6h-1.45zM465.25 533.24h1.45V576.6h-1.45zM468.66 532.56h1.45V576.6h-1.45zM472.07 530.88h1.45V576.6h-1.45zM475.48 529.02h1.45V576.6h-1.45zM478.89 527.69h1.45V576.6h-1.45zM482.30 526.41h1.45V576.6h-1.45zM485.71 525.88h1.45V576.6h-1.45zM489.12 525.35h1.45V576.6h-1.45zM492.53 524.67h1.45V576.6h-1.45zM495.94 522.93h1.45V576.6h-1.45zM499.35 520.49h1.45V576.6h-1.45zM502.76 516.63h1.45V576.6h-1.45zM506.17 508.70h1.45V576.6h-1.45zM509.58 503.95h1.45V576.6h-1.45zM512.99 497.89h1.45V576.6h-1.45z" fill="#7878b0"/>
<path d="M168.18 570.74h1.85V576.6h-1.85zM297.75 559.50h1.85V576.6h-1.85z" fill="#962430"/>
<path d="M250.01 565.43h1.85V576.6h-1.85z" fill="#5a3034"/>
<path d="M307.99 559.11h1.85V576.6h-1.85z" fill="#6a4840"/>
<path d="M359.13 554.08h1.85V576.6h-1.85z" fill="#5a4050"/>
<path d="M71.80 575.70h1.3V576.6h-1.3zM71.80 575.70h2.75v0.9h-2.75zM71.80 575.80h2.75v0.8h-2.75zM75.20 575.70h1.3V576.6h-1.3zM75.20 575.70h2.75v0.9h-2.75zM75.20 575.80h2.75v0.8h-2.75zM78.61 575.70h1.3V576.6h-1.3zM78.61 575.70h2.75v0.9h-2.75zM78.61 575.80h2.75v0.8h-2.75zM82.03 575.70h1.3V576.6h-1.3zM82.03 575.70h2.75v0.9h-2.75zM82.03 575.80h2.75v0.8h-2.75zM85.44 575.64h1.3V576.6h-1.3zM85.44 575.64h2.75v0.9h-2.75zM85.44 575.80h2.75v0.8h-2.75zM88.84 575.36h1.3V576.6h-1.3zM88.84 575.36h2.75v0.9h-2.75zM88.84 575.80h2.75v0.8h-2.75zM92.26 574.51h1.3V576.6h-1.3zM92.26 574.51h2.75v0.9h-2.75zM92.26 575.80h2.75v0.8h-2.75zM95.67 574.33h1.3V576.6h-1.3zM95.67 574.33h2.75v0.9h-2.75zM95.67 575.80h2.75v0.8h-2.75zM99.08 574.16h1.3V576.6h-1.3zM99.08 574.16h2.75v0.9h-2.75zM99.08 575.80h2.75v0.8h-2.75zM102.48 573.98h1.3V576.6h-1.3zM102.48 573.98h2.75v0.9h-2.75zM102.48 575.80h2.75v0.8h-2.75zM105.89 573.81h1.3V576.6h-1.3zM105.89 573.81h2.75v0.9h-2.75zM105.89 575.80h2.75v0.8h-2.75zM109.31 573.63h1.3V576.6h-1.3zM109.31 573.63h2.75v0.9h-2.75zM109.31 575.80h2.75v0.8h-2.75zM112.72 573.44h1.3V576.6h-1.3zM112.72 573.44h2.75v0.9h-2.75zM112.72 575.80h2.75v0.8h-2.75zM116.12 573.25h1.3V576.6h-1.3zM116.12 573.25h2.75v0.9h-2.75zM116.12 575.80h2.75v0.8h-2.75zM119.54 573.08h1.3V576.6h-1.3zM119.54 573.08h2.75v0.9h-2.75zM119.54 575.80h2.75v0.8h-2.75zM122.95 572.94h1.3V576.6h-1.3zM122.95 572.94h2.75v0.9h-2.75zM122.95 575.80h2.75v0.8h-2.75zM126.36 572.80h1.3V576.6h-1.3zM126.36 572.80h2.75v0.9h-2.75zM126.36 575.80h2.75v0.8h-2.75zM129.76 572.66h1.3V576.6h-1.3zM129.76 572.66h2.75v0.9h-2.75zM129.76 575.80h2.75v0.8h-2.75zM133.17 572.52h1.3V576.6h-1.3zM133.17 572.52h2.75v0.9h-2.75zM133.17 575.80h2.75v0.8h-2.75zM136.59 572.38h1.3V576.6h-1.3zM136.59 572.38h2.75v0.9h-2.75zM136.59 575.80h2.75v0.8h-2.75zM139.99 572.21h1.3V576.6h-1.3zM139.99 572.21h2.75v0.9h-2.75zM139.99 575.80h2.75v0.8h-2.75zM143.41 571.99h1.3V576.6h-1.3zM143.41 571.99h2.75v0.9h-2.75zM143.41 575.80h2.75v0.8h-2.75zM146.81 571.77h1.3V576.6h-1.3zM146.81 571.77h2.75v0.9h-2.75zM146.81 575.80h2.75v0.8h-2.75zM150.22 571.58h1.3V576.6h-1.3zM150.22 571.58h2.75v0.9h-2.75zM150.22 575.80h2.75v0.8h-2.75zM153.63 571.42h1.3V576.6h-1.3zM153.63 571.42h2.75v0.9h-2.75zM153.63 575.80h2.75v0.8h-2.75zM157.04 571.25h1.3V576.6h-1.3zM157.04 571.25h2.75v0.9h-2.75zM157.04 575.80h2.75v0.8h-2.75zM160.45 571.08h1.3V576.6h-1.3zM160.45 571.08h2.75v0.9h-2.75zM160.45 575.80h2.75v0.8h-2.75zM163.86 570.92h1.3V576.6h-1.3zM163.86 570.92h2.75v0.9h-2.75zM163.86 575.80h2.75v0.8h-2.75zM167.28 570.74h0.9V576.6h-0.9zM167.28 570.74h2.75v0.9h-2.75zM167.28 575.80h2.75v0.8h-2.75zM170.68 570.57h1.3V576.6h-1.3zM170.68 570.57h2.75v0.9h-2.75zM170.68 575.80h2.75v0.8h-2.75zM174.09 570.39h1.3V576.6h-1.3zM174.09 570.39h2.75v0.9h-2.75zM174.09 575.80h2.75v0.8h-2.75zM177.50 570.22h1.3V576.6h-1.3zM177.50 570.22h2.75v0.9h-2.75zM177.50 575.80h2.75v0.8h-2.75zM180.91 570.05h1.3V576.6h-1.3zM180.91 570.05h2.75v0.9h-2.75zM180.91 575.80h2.75v0.8h-2.75zM184.32 569.87h1.3V576.6h-1.3zM184.32 569.87h2.75v0.9h-2.75zM184.32 575.80h2.75v0.8h-2.75zM187.73 569.70h1.3V576.6h-1.3zM187.73 569.70h2.75v0.9h-2.75zM187.73 575.80h2.75v0.8h-2.75zM191.15 569.51h1.3V576.6h-1.3zM191.15 569.51h2.75v0.9h-2.75zM191.15 575.80h2.75v0.8h-2.75zM194.55 569.33h1.3V576.6h-1.3zM194.55 569.33h2.75v0.9h-2.75zM194.55 575.80h2.75v0.8h-2.75zM197.97 569.14h1.3V576.6h-1.3zM197.97 569.14h2.75v0.9h-2.75zM197.97 575.80h2.75v0.8h-2.75zM201.38 568.92h1.3V576.6h-1.3zM201.38 568.92h2.75v0.9h-2.75zM201.38 575.80h2.75v0.8h-2.75zM204.78 568.69h1.3V576.6h-1.3zM204.78 568.69h2.75v0.9h-2.75zM204.78 575.80h2.75v0.8h-2.75zM208.19 568.46h1.3V576.6h-1.3zM208.19 568.46h2.75v0.9h-2.75zM208.19 575.80h2.75v0.8h-2.75zM211.60 568.23h1.3V576.6h-1.3zM211.60 568.23h2.75v0.9h-2.75zM211.60 575.80h2.75v0.8h-2.75zM215.01 567.97h1.3V576.6h-1.3zM215.01 567.97h2.75v0.9h-2.75zM215.01 575.80h2.75v0.8h-2.75zM218.42 567.66h1.3V576.6h-1.3zM218.42 567.66h2.75v0.9h-2.75zM218.42 575.80h2.75v0.8h-2.75zM221.84 567.36h1.3V576.6h-1.3zM221.84 567.36h2.75v0.9h-2.75zM221.84 575.80h2.75v0.8h-2.75zM225.25 567.06h1.3V576.6h-1.3zM225.25 567.06h2.75v0.9h-2.75zM225.25 575.80h2.75v0.8h-2.75zM228.66 566.76h1.3V576.6h-1.3zM228.66 566.76h2.75v0.9h-2.75zM228.66 575.80h2.75v0.8h-2.75zM232.06 566.45h1.3V576.6h-1.3zM232.06 566.45h2.75v0.9h-2.75zM232.06 575.80h2.75v0.8h-2.75zM235.47 566.14h1.3V576.6h-1.3zM235.47 566.14h2.75v0.9h-2.75zM235.47 575.80h2.75v0.8h-2.75zM238.88 565.83h1.3V576.6h-1.3zM238.88 565.83h2.75v0.9h-2.75zM238.88 575.80h2.75v0.8h-2.75zM242.29 565.61h1.3V576.6h-1.3zM242.29 565.61h2.75v0.9h-2.75zM242.29 575.80h2.75v0.8h-2.75zM245.70 565.52h1.3V576.6h-1.3zM245.70 565.52h2.75v0.9h-2.75zM245.70 575.80h2.75v0.8h-2.75zM249.11 565.43h0.9V576.6h-0.9zM249.11 565.43h2.75v0.9h-2.75zM249.11 575.80h2.75v0.8h-2.75zM252.53 565.24h1.3V576.6h-1.3zM252.53 565.24h2.75v0.9h-2.75zM252.53 575.80h2.75v0.8h-2.75zM255.93 564.97h1.3V576.6h-1.3zM255.93 564.97h2.75v0.9h-2.75zM255.93 575.80h2.75v0.8h-2.75zM259.35 564.70h1.3V576.6h-1.3zM259.35 564.70h2.75v0.9h-2.75zM259.35 575.80h2.75v0.8h-2.75zM262.76 564.42h1.3V576.6h-1.3zM262.76 564.42h2.75v0.9h-2.75zM262.76 575.80h2.75v0.8h-2.75zM266.17 563.96h1.3V576.6h-1.3zM266.17 563.96h2.75v0.9h-2.75zM266.17 575.80h2.75v0.8h-2.75zM269.57 563.46h1.3V576.6h-1.3zM269.57 563.46h2.75v0.9h-2.75zM269.57 575.80h2.75v0.8h-2.75zM272.99 562.97h1.3V576.6h-1.3zM272.99 562.97h2.75v0.9h-2.75zM272.99 575.80h2.75v0.8h-2.75zM276.40 562.69h1.3V576.6h-1.3zM276.40 562.69h2.75v0.9h-2.75zM276.40 575.80h2.75v0.8h-2.75zM279.81 562.45h1.3V576.6h-1.3zM279.81 562.45h2.75v0.9h-2.75zM279.81 575.80h2.75v0.8h-2.75zM283.22 562.20h1.3V576.6h-1.3zM283.22 562.20h2.75v0.9h-2.75zM283.22 575.80h2.75v0.8h-2.75zM286.63 561.95h1.3V576.6h-1.3zM286.63 561.95h2.75v0.9h-2.75zM286.63 575.80h2.75v0.8h-2.75zM290.04 561.32h1.3V576.6h-1.3zM290.04 561.32h2.75v0.9h-2.75zM290.04 575.80h2.75v0.8h-2.75zM293.44 560.33h1.3V576.6h-1.3zM293.44 560.33h2.75v0.9h-2.75zM293.44 575.80h2.75v0.8h-2.75zM296.86 559.50h0.9V576.6h-0.9zM296.86 559.50h2.75v0.9h-2.75zM296.86 575.80h2.75v0.8h-2.75zM300.27 559.39h1.3V576.6h-1.3zM300.27 559.39h2.75v0.9h-2.75zM300.27 575.80h2.75v0.8h-2.75zM303.68 559.32h1.3V576.6h-1.3zM303.68 559.32h2.75v0.9h-2.75zM303.68 575.80h2.75v0.8h-2.75zM307.09 559.11h0.9V576.6h-0.9zM307.09 559.11h2.75v0.9h-2.75zM307.09 575.80h2.75v0.8h-2.75zM310.50 558.67h1.3V576.6h-1.3zM310.50 558.67h2.75v0.9h-2.75zM310.50 575.80h2.75v0.8h-2.75zM313.91 558.45h1.3V576.6h-1.3zM313.91 558.45h2.75v0.9h-2.75zM313.91 575.80h2.75v0.8h-2.75zM317.31 558.25h1.3V576.6h-1.3zM317.31 558.25h2.75v0.9h-2.75zM317.31 575.80h2.75v0.8h-2.75zM320.73 558.05h1.3V576.6h-1.3zM320.73 558.05h2.75v0.9h-2.75zM320.73 575.80h2.75v0.8h-2.75zM324.14 557.78h1.3V576.6h-1.3zM324.14 557.78h2.75v0.9h-2.75zM324.14 575.80h2.75v0.8h-2.75zM327.55 557.28h1.3V576.6h-1.3zM327.55 557.28h2.75v0.9h-2.75zM327.55 575.80h2.75v0.8h-2.75zM330.96 556.79h1.3V576.6h-1.3zM330.96 556.79h2.75v0.9h-2.75zM330.96 575.80h2.75v0.8h-2.75zM334.37 556.29h1.3V576.6h-1.3zM334.37 556.29h2.75v0.9h-2.75zM334.37 575.80h2.75v0.8h-2.75zM337.78 555.95h1.3V576.6h-1.3zM337.78 555.95h2.75v0.9h-2.75zM337.78 575.80h2.75v0.8h-2.75zM341.19 555.71h1.3V576.6h-1.3zM341.19 555.71h2.75v0.9h-2.75zM341.19 575.80h2.75v0.8h-2.75zM344.60 555.48h1.3V576.6h-1.3zM344.60 555.48h2.75v0.9h-2.75zM344.60 575.80h2.75v0.8h-2.75zM348.01 555.25h1.3V576.6h-1.3zM348.01 555.25h2.75v0.9h-2.75zM348.01 575.80h2.75v0.8h-2.75zM351.42 555.02h1.3V576.6h-1.3zM351.42 555.02h2.75v0.9h-2.75zM351.42 575.80h2.75v0.8h-2.75zM354.83 554.64h1.3V576.6h-1.3zM354.83 554.64h2.75v0.9h-2.75zM354.83 575.80h2.75v0.8h-2.75zM358.24 554.08h0.9V576.6h-0.9zM358.24 554.08h2.75v0.9h-2.75zM358.24 575.80h2.75v0.8h-2.75zM361.65 553.51h1.3V576.6h-1.3zM361.65 553.51h2.75v0.9h-2.75zM361.65 575.80h2.75v0.8h-2.75zM365.06 552.79h1.3V576.6h-1.3zM365.06 552.79h2.75v0.9h-2.75zM365.06 575.80h2.75v0.8h-2.75zM368.47 550.98h1.3V576.6h-1.3zM368.47 550.98h2.75v0.9h-2.75zM368.47 575.80h2.75v0.8h-2.75zM371.88 549.30h1.3V576.6h-1.3zM371.88 549.30h2.75v0.9h-2.75zM371.88 575.80h2.75v0.8h-2.75zM375.29 549.04h1.3V576.6h-1.3zM375.29 549.04h2.75v0.9h-2.75zM375.29 575.80h2.75v0.8h-2.75zM378.70 548.78h1.3V576.6h-1.3zM378.70 548.78h2.75v0.9h-2.75zM378.70 575.80h2.75v0.8h-2.75zM382.11 548.52h1.3V576.6h-1.3zM382.11 548.52h2.75v0.9h-2.75zM382.11 575.80h2.75v0.8h-2.75zM385.52 548.27h1.3V576.6h-1.3zM385.52 548.27h2.75v0.9h-2.75zM385.52 575.80h2.75v0.8h-2.75zM388.93 547.97h1.3V576.6h-1.3zM388.93 547.97h2.75v0.9h-2.75zM388.93 575.80h2.75v0.8h-2.75zM392.34 547.54h1.3V576.6h-1.3zM392.34 547.54h2.75v0.9h-2.75zM392.34 575.80h2.75v0.8h-2.75zM395.75 547.10h1.3V576.6h-1.3zM395.75 547.10h2.75v0.9h-2.75zM395.75 575.80h2.75v0.8h-2.75zM399.16 546.67h1.3V576.6h-1.3zM399.16 546.67h2.75v0.9h-2.75zM399.16 575.80h2.75v0.8h-2.75zM402.57 546.23h1.3V576.6h-1.3zM402.57 546.23h2.75v0.9h-2.75zM402.57 575.80h2.75v0.8h-2.75zM405.98 545.83h1.3V576.6h-1.3zM405.98 545.83h2.75v0.9h-2.75zM405.98 575.80h2.75v0.8h-2.75zM409.39 545.44h1.3V576.6h-1.3zM409.39 545.44h2.75v0.9h-2.75zM409.39 575.80h2.75v0.8h-2.75zM412.80 545.04h1.3V576.6h-1.3zM412.80 545.04h2.75v0.9h-2.75zM412.80 575.80h2.75v0.8h-2.75zM416.21 544.65h1.3V576.6h-1.3zM416.21 544.65h2.75v0.9h-2.75zM416.21 575.80h2.75v0.8h-2.75zM419.62 544.19h1.3V576.6h-1.3zM419.62 544.19h2.75v0.9h-2.75zM419.62 575.80h2.75v0.8h-2.75zM423.03 543.63h1.3V576.6h-1.3zM423.03 543.63h2.75v0.9h-2.75zM423.03 575.80h2.75v0.8h-2.75zM426.44 542.84h1.3V576.6h-1.3zM426.44 542.84h2.75v0.9h-2.75zM426.44 575.80h2.75v0.8h-2.75zM429.85 541.82h1.3V576.6h-1.3zM429.85 541.82h2.75v0.9h-2.75zM429.85 575.80h2.75v0.8h-2.75zM433.26 540.55h1.3V576.6h-1.3zM433.26 540.55h2.75v0.9h-2.75zM433.26 575.80h2.75v0.8h-2.75zM436.67 539.27h1.3V576.6h-1.3zM436.67 539.27h2.75v0.9h-2.75zM436.67 575.80h2.75v0.8h-2.75zM440.08 538.36h1.3V576.6h-1.3zM440.08 538.36h2.75v0.9h-2.75zM440.08 575.80h2.75v0.8h-2.75zM443.49 537.78h1.3V576.6h-1.3zM443.49 537.78h2.75v0.9h-2.75zM443.49 575.80h2.75v0.8h-2.75zM446.90 537.20h1.3V576.6h-1.3zM446.90 537.20h2.75v0.9h-2.75zM446.90 575.80h2.75v0.8h-2.75zM450.31 536.62h1.3V576.6h-1.3zM450.31 536.62h2.75v0.9h-2.75zM450.31 575.80h2.75v0.8h-2.75zM453.72 535.96h1.3V576.6h-1.3zM453.72 535.96h2.75v0.9h-2.75zM453.72 575.80h2.75v0.8h-2.75zM457.13 534.78h1.3V576.6h-1.3zM457.13 534.78h2.75v0.9h-2.75zM457.13 575.80h2.75v0.8h-2.75zM460.54 533.92h1.3V576.6h-1.3zM460.54 533.92h2.75v0.9h-2.75zM460.54 575.80h2.75v0.8h-2.75zM463.95 533.24h1.3V576.6h-1.3zM463.95 533.24h2.75v0.9h-2.75zM463.95 575.80h2.75v0.8h-2.75zM467.36 532.56h1.3V576.6h-1.3zM467.36 532.56h2.75v0.9h-2.75zM467.36 575.80h2.75v0.8h-2.75zM470.77 530.88h1.3V576.6h-1.3zM470.77 530.88h2.75v0.9h-2.75zM470.77 575.80h2.75v0.8h-2.75zM474.18 529.02h1.3V576.6h-1.3zM474.18 529.02h2.75v0.9h-2.75zM474.18 575.80h2.75v0.8h-2.75zM477.59 527.69h1.3V576.6h-1.3zM477.59 527.69h2.75v0.9h-2.75zM477.59 575.80h2.75v0.8h-2.75zM481.00 526.41h1.3V576.6h-1.3zM481.00 526.41h2.75v0.9h-2.75zM481.00 575.80h2.75v0.8h-2.75zM484.41 525.88h1.3V576.6h-1.3zM484.41 525.88h2.75v0.9h-2.75zM484.41 575.80h2.75v0.8h-2.75zM487.82 525.35h1.3V576.6h-1.3zM487.82 525.35h2.75v0.9h-2.75zM487.82 575.80h2.75v0.8h-2.75zM491.23 524.67h1.3V576.6h-1.3zM491.23 524.67h2.75v0.9h-2.75zM491.23 575.80h2.75v0.8h-2.75zM494.64 522.93h1.3V576.6h-1.3zM494.64 522.93h2.75v0.9h-2.75zM494.64 575.80h2.75v0.8h-2.75zM498.05 520.49h1.3V576.6h-1.3zM498.05 520.49h2.75v0.9h-2.75zM498.05 575.80h2.75v0.8h-2.75zM501.46 516.63h1.3V576.6h-1.3zM501.46 516.63h2.75v0.9h-2.75zM501.46 575.80h2.75v0.8h-2.75zM504.87 508.70h1.3V576.6h-1.3zM504.87 508.70h2.75v0.9h-2.75zM504.87 575.80h2.75v0.8h-2.75zM508.28 503.95h1.3V576.6h-1.3zM508.28 503.95h2.75v0.9h-2.75zM508.28 575.80h2.75v0.8h-2.75zM511.69 497.89h1.3V576.6h-1.3zM511.69 497.89h2.75v0.9h-2.75zM511.69 575.80h2.75v0.8h-2.75z" fill="#2c2c42"/>
<line x1="72.40" y1="485.40" x2="72.40" y2="576.60" stroke="#6a6a6a" stroke-width="1.2" />
<line x1="72.40" y1="576.60" x2="515.00" y2="576.60" stroke="#6a6a6a" stroke-width="1" />
<line x1="69.40" y1="576.60" x2="72.40" y2="576.60" stroke="#999" stroke-width="1" />
<text x="62.60" y="583.40" font-size="9.8" text-anchor="end" font-weight="normal" fill="#1a1a1a" >0</text>
<line x1="69.90" y1="567.48" x2="72.40" y2="567.48" stroke="#999" stroke-width="1" />
<line x1="69.40" y1="558.36" x2="72.40" y2="558.36" stroke="#999" stroke-width="1" />
<text x="62.60" y="565.16" font-size="9.8" text-anchor="end" font-weight="normal" fill="#1a1a1a" >20</text>
<line x1="69.90" y1="549.24" x2="72.40" y2="549.24" stroke="#999" stroke-width="1" />
<line x1="69.40" y1="540.12" x2="72.40" y2="540.12" stroke="#999" stroke-width="1" />
<text x="62.60" y="546.92" font-size="9.8" text-anchor="end" font-weight="normal" fill="#1a1a1a" >40</text>
<line x1="69.90" y1="531.00" x2="72.40" y2="531.00" stroke="#999" stroke-width="1" />
<line x1="69.40" y1="521.88" x2="72.40" y2="521.88" stroke="#999" stroke-width="1" />
<text x="62.60" y="528.68" font-size="9.8" text-anchor="end" font-weight="normal" fill="#1a1a1a" >60</text>
<line x1="69.90" y1="512.76" x2="72.40" y2="512.76" stroke="#999" stroke-width="1" />
<line x1="69.40" y1="503.64" x2="72.40" y2="503.64" stroke="#999" stroke-width="1" />
<text x="62.60" y="510.44" font-size="9.8" text-anchor="end" font-weight="normal" fill="#1a1a1a" >80</text>
<line x1="69.90" y1="494.52" x2="72.40" y2="494.52" stroke="#999" stroke-width="1" />
<line x1="69.40" y1="485.40" x2="72.40" y2="485.40" stroke="#999" stroke-width="1" />
<text x="62.60" y="492.20" font-size="9.8" text-anchor="end" font-weight="normal" fill="#1a1a1a" >100</text>
<text x="0.00" y="0.00" font-size="11.1" text-anchor="middle" font-weight="bold" fill="#111" transform="translate(40.6,529.5) rotate(-90)">Percent positive</text>
<text x="122.30" y="568.70" font-size="16.5" text-anchor="middle" font-weight="normal" fill="#111" stroke="#111" stroke-width="0.35">*</text>
<text x="132.40" y="568.70" font-size="16.5" text-anchor="middle" font-weight="normal" fill="#111" stroke="#111" stroke-width="0.35">*</text>
<text x="170.00" y="566.30" font-size="16.5" text-anchor="middle" font-weight="normal" fill="#111" stroke="#111" stroke-width="0.35">*</text>
<text x="252.00" y="561.50" font-size="16.5" text-anchor="middle" font-weight="normal" fill="#111" stroke="#111" stroke-width="0.35">*</text>
<text x="298.90" y="556.30" font-size="16.5" text-anchor="middle" font-weight="normal" fill="#111" stroke="#111" stroke-width="0.35">*</text>
<text x="309.50" y="555.30" font-size="16.5" text-anchor="middle" font-weight="normal" fill="#111" stroke="#111" stroke-width="0.35">*</text>
<text x="360.70" y="551.10" font-size="16.5" text-anchor="middle" font-weight="normal" fill="#111" stroke="#111" stroke-width="0.35">*</text>
</svg></body></html>
